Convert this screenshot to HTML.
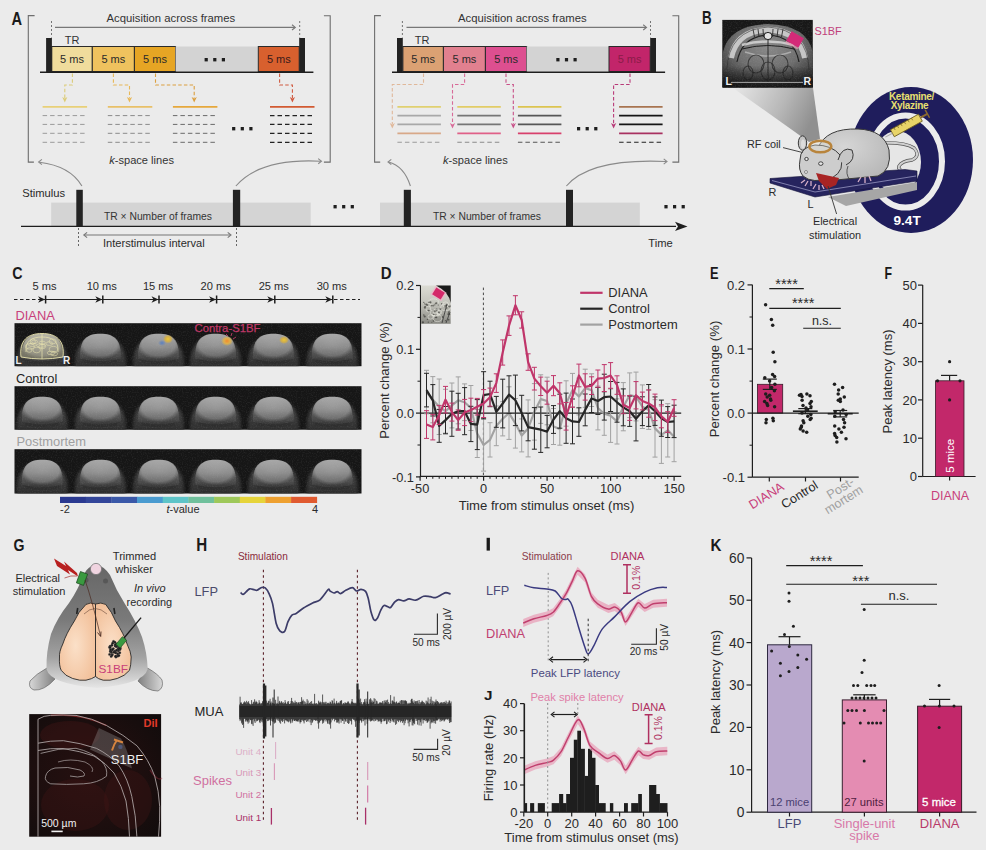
<!DOCTYPE html>
<html><head><meta charset="utf-8"><style>
html,body{margin:0;padding:0;background:#ebebeb;overflow:hidden;}
svg{display:block;}
text{font-family:"Liberation Sans", sans-serif;}
</style></head><body>
<svg width="986" height="850" viewBox="0 0 986 850">
<defs><radialGradient id="mriB" cx="0.5" cy="0.35" r="0.75">
<stop offset="0" stop-color="#8a8a8a"/><stop offset="0.5" stop-color="#6e6e6e"/><stop offset="0.85" stop-color="#3a3a3a"/><stop offset="1" stop-color="#222"/></radialGradient>
<linearGradient id="mriBot" x1="0" y1="0" x2="0" y2="1"><stop offset="0" stop-color="#111" stop-opacity="0"/><stop offset="1" stop-color="#111" stop-opacity="0.85"/></linearGradient>
<linearGradient id="coneB2" x1="0" y1="0" x2="1" y2="0.3"><stop offset="0" stop-color="#e8e8e8"/><stop offset="0.6" stop-color="#b8b8b8"/><stop offset="1" stop-color="#909090"/></linearGradient>
<radialGradient id="mouseB" cx="0.4" cy="0.35" r="0.7"><stop offset="0" stop-color="#d6d6d6"/><stop offset="1" stop-color="#b8b8b8"/></radialGradient>
<filter id="blur15" x="-20%" y="-20%" width="140%" height="140%"><feGaussianBlur stdDeviation="1.6"/></filter>
<filter id="blur05" x="-10%" y="-10%" width="120%" height="120%"><feGaussianBlur stdDeviation="0.6"/></filter>
<filter id="grain" x="0" y="0" width="100%" height="100%"><feTurbulence type="fractalNoise" baseFrequency="0.8" numOctaves="2" seed="3"/><feColorMatrix type="matrix" values="0 0 0 0 0.5  0 0 0 0 0.5  0 0 0 0 0.5  1.2 0 0 0 -0.55"/></filter>
<linearGradient id="blobO" x1="0" y1="0" x2="0" y2="1">
<stop offset="0" stop-color="#4a4a4a"/><stop offset="0.6" stop-color="#3a3a3a"/><stop offset="1" stop-color="#2a2a2a"/></linearGradient>
<linearGradient id="blobG" x1="0" y1="0" x2="0" y2="1">
<stop offset="0" stop-color="#b0b0b0"/><stop offset="0.5" stop-color="#929292"/><stop offset="0.85" stop-color="#707070"/><stop offset="1" stop-color="#555"/></linearGradient>
<radialGradient id="blobEdge" cx="0.5" cy="0.4" r="0.55">
<stop offset="0" stop-color="#000" stop-opacity="0"/><stop offset="0.75" stop-color="#000" stop-opacity="0.05"/><stop offset="1" stop-color="#000" stop-opacity="0.35"/></radialGradient>
<radialGradient id="actY" cx="0.5" cy="0.5" r="0.5"><stop offset="0" stop-color="#f0c830"/><stop offset="0.6" stop-color="#d8b040" stop-opacity="0.8"/><stop offset="1" stop-color="#d8b040" stop-opacity="0"/></radialGradient>
<radialGradient id="actO" cx="0.5" cy="0.5" r="0.5"><stop offset="0" stop-color="#f08a30"/><stop offset="0.5" stop-color="#e8b040" stop-opacity="0.9"/><stop offset="1" stop-color="#e8c040" stop-opacity="0"/></radialGradient>
<radialGradient id="actB" cx="0.5" cy="0.5" r="0.5"><stop offset="0" stop-color="#5a80c0"/><stop offset="1" stop-color="#5a80c0" stop-opacity="0"/></radialGradient>
<clipPath id="strip0"><rect x="14.5" y="323.2" width="347" height="43.0"/></clipPath>
<clipPath id="strip1"><rect x="14.5" y="386.2" width="347" height="43.5"/></clipPath>
<clipPath id="strip2"><rect x="14.5" y="449.2" width="347" height="44.3"/></clipPath>
<radialGradient id="insD" cx="0.35" cy="0.65" r="0.8"><stop offset="0" stop-color="#c8c8b8"/><stop offset="0.6" stop-color="#a8a898"/><stop offset="1" stop-color="#555"/></radialGradient>
<linearGradient id="insD2" x1="0" y1="0" x2="0" y2="1"><stop offset="0" stop-color="#dcdcd4"/><stop offset="0.45" stop-color="#c4c4bc"/><stop offset="1" stop-color="#8a8a84"/></linearGradient>
<linearGradient id="headG" x1="0" y1="0" x2="0" y2="1"><stop offset="0" stop-color="#666"/><stop offset="0.45" stop-color="#7a7a7a"/><stop offset="0.75" stop-color="#a2a2a2"/><stop offset="1" stop-color="#e6e6e6"/></linearGradient>
<linearGradient id="earG" x1="0" y1="0" x2="1" y2="0"><stop offset="0" stop-color="#d8d8d8"/><stop offset="1" stop-color="#808080"/></linearGradient>
<linearGradient id="earG2" x1="0" y1="0" x2="1" y2="0"><stop offset="0" stop-color="#808080"/><stop offset="1" stop-color="#d8d8d8"/></linearGradient>
<radialGradient id="brainG" cx="0.45" cy="0.55" r="0.6"><stop offset="0" stop-color="#fbe0c8"/><stop offset="1" stop-color="#f2c09a"/></radialGradient>
<radialGradient id="diG" cx="0.45" cy="0.5" r="0.7"><stop offset="0" stop-color="#261010"/><stop offset="0.6" stop-color="#1c0e0e"/><stop offset="1" stop-color="#120c0c"/></radialGradient></defs>
<rect width="986" height="850" fill="#ebebeb"/>
<text x="0" y="0" font-size="17.9" fill="#1a1a1a" font-weight="bold" transform="translate(11.5,24.8) scale(0.816,1)">A</text>
<path d="M34.6,15.6 H28.3 V162.1 H33.9" fill="none" stroke="#6e6e6e" stroke-width="1.1" />
<path d="M323.9,15.8 H330.2 V162.1 H323.9" fill="none" stroke="#6e6e6e" stroke-width="1.1" />
<text x="106.5" y="22.3" font-size="11.3" fill="#333" text-anchor="start" font-weight="normal" font-style="normal" >Acquisition across frames</text>
<line x1="55.0" y1="27.4" x2="294.8" y2="27.4" stroke="#777" stroke-width="1.1" />
<path d="M292.0,24.8 L295.3,27.4 L292.0,30.0" fill="none" stroke="#777" stroke-width="1.1" />
<line x1="51.5" y1="21.0" x2="51.5" y2="37.5" stroke="#555" stroke-width="0.8" stroke-dasharray="2,2"/>
<line x1="299.7" y1="21.0" x2="299.7" y2="37.5" stroke="#555" stroke-width="0.8" stroke-dasharray="2,2"/>
<rect x="51.8" y="46.5" width="40.5" height="25.0" fill="#f0dc9c" stroke="#2a2a2a" stroke-width="1"/>
<text x="72.0" y="62.5" font-size="11" fill="#2a2a2a" text-anchor="middle" font-weight="normal" font-style="normal" >5 ms</text>
<rect x="92.3" y="46.5" width="42.1" height="25.0" fill="#efc25e" stroke="#2a2a2a" stroke-width="1"/>
<text x="113.3" y="62.5" font-size="11" fill="#2a2a2a" text-anchor="middle" font-weight="normal" font-style="normal" >5 ms</text>
<rect x="134.4" y="46.5" width="41.2" height="25.0" fill="#e6a524" stroke="#2a2a2a" stroke-width="1"/>
<text x="155.0" y="62.5" font-size="11" fill="#2a2a2a" text-anchor="middle" font-weight="normal" font-style="normal" >5 ms</text>
<rect x="175.6" y="46.5" width="82.7" height="25.0" fill="#d3d3d3" />
<rect x="204.6" y="58.0" width="3.2" height="3.4" fill="#1e1e1e" />
<rect x="213.2" y="58.0" width="3.2" height="3.4" fill="#1e1e1e" />
<rect x="221.8" y="58.0" width="3.2" height="3.4" fill="#1e1e1e" />
<rect x="258.3" y="46.5" width="40.9" height="25.0" fill="#d8602e" stroke="#2a2a2a" stroke-width="1"/>
<text x="278.8" y="62.5" font-size="11" fill="#3a1a1a" text-anchor="middle" font-weight="normal" font-style="normal" >5 ms</text>
<rect x="46.1" y="38.0" width="5.8" height="34.0" fill="#222" />
<rect x="299.2" y="38.0" width="5.8" height="34.0" fill="#222" />
<line x1="40.0" y1="72.2" x2="313.4" y2="72.2" stroke="#1e1e1e" stroke-width="1.4" />
<text x="64.8" y="43.6" font-size="11" fill="#333" text-anchor="start" font-weight="normal" font-style="normal" >TR</text>
<line x1="42.6" y1="106.8" x2="87.1" y2="106.8" stroke="#e8d078" stroke-width="1.8" />
<line x1="42.6" y1="115.6" x2="87.1" y2="115.6" stroke="#9a9a9a" stroke-width="1.0" stroke-dasharray="4.5,3"/>
<line x1="42.6" y1="124.4" x2="87.1" y2="124.4" stroke="#9a9a9a" stroke-width="1.0" stroke-dasharray="4.5,3"/>
<line x1="42.6" y1="133.3" x2="87.1" y2="133.3" stroke="#9a9a9a" stroke-width="1.0" stroke-dasharray="4.5,3"/>
<line x1="42.6" y1="142.3" x2="87.1" y2="142.3" stroke="#9a9a9a" stroke-width="1.0" stroke-dasharray="4.5,3"/>
<line x1="107.8" y1="106.8" x2="152.3" y2="106.8" stroke="#e8c068" stroke-width="1.8" />
<line x1="107.8" y1="115.6" x2="152.3" y2="115.6" stroke="#8a8a8a" stroke-width="1.0" stroke-dasharray="4.5,3"/>
<line x1="107.8" y1="124.4" x2="152.3" y2="124.4" stroke="#8a8a8a" stroke-width="1.0" stroke-dasharray="4.5,3"/>
<line x1="107.8" y1="133.3" x2="152.3" y2="133.3" stroke="#8a8a8a" stroke-width="1.0" stroke-dasharray="4.5,3"/>
<line x1="107.8" y1="142.3" x2="152.3" y2="142.3" stroke="#8a8a8a" stroke-width="1.0" stroke-dasharray="4.5,3"/>
<line x1="172.9" y1="106.8" x2="217.4" y2="106.8" stroke="#e6a83c" stroke-width="1.8" />
<line x1="172.9" y1="115.6" x2="217.4" y2="115.6" stroke="#6a6a6a" stroke-width="1.0" stroke-dasharray="4.5,3"/>
<line x1="172.9" y1="124.4" x2="217.4" y2="124.4" stroke="#6a6a6a" stroke-width="1.0" stroke-dasharray="4.5,3"/>
<line x1="172.9" y1="133.3" x2="217.4" y2="133.3" stroke="#6a6a6a" stroke-width="1.0" stroke-dasharray="4.5,3"/>
<line x1="172.9" y1="142.3" x2="217.4" y2="142.3" stroke="#6a6a6a" stroke-width="1.0" stroke-dasharray="4.5,3"/>
<line x1="270.0" y1="106.8" x2="314.5" y2="106.8" stroke="#d25a32" stroke-width="1.8" />
<line x1="270.0" y1="115.6" x2="314.5" y2="115.6" stroke="#222" stroke-width="1.3" stroke-dasharray="4.5,3"/>
<line x1="270.0" y1="124.4" x2="314.5" y2="124.4" stroke="#222" stroke-width="1.3" stroke-dasharray="4.5,3"/>
<line x1="270.0" y1="133.3" x2="314.5" y2="133.3" stroke="#222" stroke-width="1.3" stroke-dasharray="4.5,3"/>
<line x1="270.0" y1="142.3" x2="314.5" y2="142.3" stroke="#222" stroke-width="1.3" stroke-dasharray="4.5,3"/>
<rect x="232.1" y="127.0" width="3.2" height="3.4" fill="#1e1e1e" />
<rect x="240.7" y="127.0" width="3.2" height="3.4" fill="#1e1e1e" />
<rect x="249.3" y="127.0" width="3.2" height="3.4" fill="#1e1e1e" />
<path d="M72.4,73.5 V85 H64.8 V98" fill="none" stroke="#dccc78" stroke-width="1.1" stroke-dasharray="3.5,2.2"/>
<path d="M62.2,97 L64.8,102.5 L67.4,97 L64.8,98.5 Z" fill="#dccc78" stroke="none" stroke-width="1" />
<path d="M113.4,73.5 V85 H129.5 V98" fill="none" stroke="#e8b858" stroke-width="1.1" stroke-dasharray="3.5,2.2"/>
<path d="M126.9,97 L129.5,102.5 L132.1,97 L129.5,98.5 Z" fill="#e8b858" stroke="none" stroke-width="1" />
<path d="M155.5,73.5 V85 H194.2 V98" fill="none" stroke="#dca040" stroke-width="1.1" stroke-dasharray="3.5,2.2"/>
<path d="M191.6,97 L194.2,102.5 L196.8,97 L194.2,98.5 Z" fill="#dca040" stroke="none" stroke-width="1" />
<path d="M279.6,73.5 V85 H292.4 V98" fill="none" stroke="#d05a40" stroke-width="1.1" stroke-dasharray="3.5,2.2"/>
<path d="M289.8,97 L292.4,102.5 L295.0,97 L292.4,98.5 Z" fill="#d05a40" stroke="none" stroke-width="1" />
<text x="109.2" y="164.0" font-size="11.1" fill="#333" text-anchor="start" font-weight="normal" font-style="normal" ><tspan font-style="italic">k</tspan>-space lines</text>
<path d="M380.9,15.6 H374.6 V162.1 H380.2" fill="none" stroke="#6e6e6e" stroke-width="1.1" />
<path d="M672.4,15.8 H678.7 V162.1 H672.4" fill="none" stroke="#6e6e6e" stroke-width="1.1" />
<text x="458.0" y="22.3" font-size="11.3" fill="#333" text-anchor="start" font-weight="normal" font-style="normal" >Acquisition across frames</text>
<line x1="406.5" y1="27.4" x2="646.0" y2="27.4" stroke="#777" stroke-width="1.1" />
<path d="M643.2,24.8 L646.5,27.4 L643.2,30.0" fill="none" stroke="#777" stroke-width="1.1" />
<line x1="402.4" y1="21.0" x2="402.4" y2="37.5" stroke="#555" stroke-width="0.8" stroke-dasharray="2,2"/>
<line x1="650.5" y1="21.0" x2="650.5" y2="37.5" stroke="#555" stroke-width="0.8" stroke-dasharray="2,2"/>
<rect x="402.9" y="46.5" width="40.5" height="25.0" fill="#dba173" stroke="#2a2a2a" stroke-width="1"/>
<text x="423.1" y="62.5" font-size="11" fill="#2a2a2a" text-anchor="middle" font-weight="normal" font-style="normal" >5 ms</text>
<rect x="443.4" y="46.5" width="42.0" height="25.0" fill="#e1808f" stroke="#2a2a2a" stroke-width="1"/>
<text x="464.4" y="62.5" font-size="11" fill="#2a2a2a" text-anchor="middle" font-weight="normal" font-style="normal" >5 ms</text>
<rect x="485.4" y="46.5" width="41.3" height="25.0" fill="#dd4f90" stroke="#2a2a2a" stroke-width="1"/>
<text x="506.1" y="62.5" font-size="11" fill="#2a2a2a" text-anchor="middle" font-weight="normal" font-style="normal" >5 ms</text>
<rect x="526.7" y="46.5" width="82.3" height="25.0" fill="#d3d3d3" />
<rect x="556.3" y="58.0" width="3.2" height="3.4" fill="#1e1e1e" />
<rect x="564.9" y="58.0" width="3.2" height="3.4" fill="#1e1e1e" />
<rect x="573.5" y="58.0" width="3.2" height="3.4" fill="#1e1e1e" />
<rect x="609.0" y="46.5" width="41.2" height="25.0" fill="#c2256a" stroke="#2a2a2a" stroke-width="1"/>
<text x="629.6" y="62.5" font-size="11" fill="#8a1c48" text-anchor="middle" font-weight="normal" font-style="normal" >5 ms</text>
<rect x="397.0" y="38.0" width="5.8" height="34.0" fill="#222" />
<rect x="650.2" y="38.0" width="5.8" height="34.0" fill="#222" />
<line x1="392.0" y1="72.2" x2="665.1" y2="72.2" stroke="#1e1e1e" stroke-width="1.4" />
<text x="414.8" y="43.6" font-size="11" fill="#333" text-anchor="start" font-weight="normal" font-style="normal" >TR</text>
<line x1="397.4" y1="106.8" x2="440.9" y2="106.8" stroke="#e0d070" stroke-width="1.8" />
<line x1="397.4" y1="115.6" x2="440.9" y2="115.6" stroke="#a8a8a8" stroke-width="1.8" />
<line x1="397.4" y1="124.4" x2="440.9" y2="124.4" stroke="#a8a8a8" stroke-width="1.8" />
<line x1="397.4" y1="133.3" x2="440.9" y2="133.3" stroke="#d8a888" stroke-width="1.8" />
<line x1="397.4" y1="142.3" x2="440.9" y2="142.3" stroke="#9a9a9a" stroke-width="1.1" stroke-dasharray="4.5,3"/>
<line x1="457.3" y1="106.8" x2="500.8" y2="106.8" stroke="#e2cc66" stroke-width="1.8" />
<line x1="457.3" y1="115.6" x2="500.8" y2="115.6" stroke="#767676" stroke-width="1.8" />
<line x1="457.3" y1="124.4" x2="500.8" y2="124.4" stroke="#767676" stroke-width="1.8" />
<line x1="457.3" y1="133.3" x2="500.8" y2="133.3" stroke="#e06088" stroke-width="1.8" />
<line x1="457.3" y1="142.3" x2="500.8" y2="142.3" stroke="#8a8a8a" stroke-width="1.1" stroke-dasharray="4.5,3"/>
<line x1="517.9" y1="106.8" x2="561.4" y2="106.8" stroke="#dcc450" stroke-width="1.8" />
<line x1="517.9" y1="115.6" x2="561.4" y2="115.6" stroke="#565656" stroke-width="1.8" />
<line x1="517.9" y1="124.4" x2="561.4" y2="124.4" stroke="#565656" stroke-width="1.8" />
<line x1="517.9" y1="133.3" x2="561.4" y2="133.3" stroke="#d8406c" stroke-width="1.8" />
<line x1="517.9" y1="142.3" x2="561.4" y2="142.3" stroke="#555" stroke-width="1.1" stroke-dasharray="4.5,3"/>
<line x1="619.1" y1="106.8" x2="662.6" y2="106.8" stroke="#a87450" stroke-width="1.8" />
<line x1="619.1" y1="115.6" x2="662.6" y2="115.6" stroke="#151515" stroke-width="1.8" />
<line x1="619.1" y1="124.4" x2="662.6" y2="124.4" stroke="#151515" stroke-width="1.8" />
<line x1="619.1" y1="133.3" x2="662.6" y2="133.3" stroke="#a83060" stroke-width="1.8" />
<line x1="619.1" y1="142.3" x2="662.6" y2="142.3" stroke="#222" stroke-width="1.1" stroke-dasharray="4.5,3"/>
<rect x="577.0" y="127.0" width="3.2" height="3.4" fill="#1e1e1e" />
<rect x="585.6" y="127.0" width="3.2" height="3.4" fill="#1e1e1e" />
<rect x="594.2" y="127.0" width="3.2" height="3.4" fill="#1e1e1e" />
<path d="M423.5,73.5 V84.5 H392.3 V124" fill="none" stroke="#e0b89a" stroke-width="1.1" stroke-dasharray="3.5,2.2"/>
<path d="M389.7,123 L392.3,128.6 L394.9,123 L392.3,124.5 Z" fill="#e0b89a" stroke="none" stroke-width="1" />
<path d="M464.6,73.5 V84.5 H452.5 V124" fill="none" stroke="#d86a98" stroke-width="1.1" stroke-dasharray="3.5,2.2"/>
<path d="M449.9,123 L452.5,128.6 L455.1,123 L452.5,124.5 Z" fill="#d86a98" stroke="none" stroke-width="1" />
<path d="M506.0,73.5 V84.5 H513.3 V124" fill="none" stroke="#c85088" stroke-width="1.1" stroke-dasharray="3.5,2.2"/>
<path d="M510.7,123 L513.3,128.6 L515.9,123 L513.3,124.5 Z" fill="#c85088" stroke="none" stroke-width="1" />
<path d="M630.0,73.5 V84.5 H613.6 V124" fill="none" stroke="#b83a78" stroke-width="1.1" stroke-dasharray="3.5,2.2"/>
<path d="M611.0,123 L613.6,128.6 L616.2,123 L613.6,124.5 Z" fill="#b83a78" stroke="none" stroke-width="1" />
<text x="443.0" y="164.0" font-size="11.1" fill="#333" text-anchor="start" font-weight="normal" font-style="normal" ><tspan font-style="italic">k</tspan>-space lines</text>
<rect x="51.2" y="202.6" width="259.5" height="23.7" fill="#d4d4d4" />
<rect x="380.0" y="202.6" width="259.8" height="23.7" fill="#d4d4d4" />
<text x="104.0" y="219.5" font-size="10.3" fill="#333" text-anchor="start" font-weight="normal" font-style="normal" >TR × Number of frames</text>
<text x="433.0" y="219.5" font-size="10.3" fill="#333" text-anchor="start" font-weight="normal" font-style="normal" >TR × Number of frames</text>
<rect x="76.3" y="189.8" width="6.5" height="36.5" fill="#232323" />
<rect x="232.9" y="189.8" width="7.3" height="36.5" fill="#232323" />
<rect x="403.8" y="189.8" width="7.1" height="36.5" fill="#232323" />
<rect x="566.0" y="189.8" width="7.0" height="36.5" fill="#232323" />
<line x1="21.0" y1="226.4" x2="676.0" y2="226.4" stroke="#1e1e1e" stroke-width="1.4" />
<path d="M675,221.8 L687.5,226.4 L675,231 L678,226.4 Z" fill="#1e1e1e" stroke="none" stroke-width="1" />
<rect x="333.5" y="205.0" width="3.2" height="3.4" fill="#1e1e1e" />
<rect x="342.1" y="205.0" width="3.2" height="3.4" fill="#1e1e1e" />
<rect x="350.7" y="205.0" width="3.2" height="3.4" fill="#1e1e1e" />
<rect x="664.4" y="205.0" width="3.2" height="3.4" fill="#1e1e1e" />
<rect x="673.0" y="205.0" width="3.2" height="3.4" fill="#1e1e1e" />
<rect x="681.6" y="205.0" width="3.2" height="3.4" fill="#1e1e1e" />
<text x="22.2" y="197.0" font-size="11.2" fill="#2a2a2a" text-anchor="start" font-weight="normal" font-style="normal" >Stimulus</text>
<text x="648.3" y="246.7" font-size="11.2" fill="#2a2a2a" text-anchor="start" font-weight="normal" font-style="normal" >Time</text>
<line x1="78.5" y1="228.0" x2="78.5" y2="246.0" stroke="#444" stroke-width="0.8" stroke-dasharray="2,2"/>
<line x1="236.5" y1="228.0" x2="236.5" y2="246.0" stroke="#444" stroke-width="0.8" stroke-dasharray="2,2"/>
<line x1="85.0" y1="235.0" x2="230.0" y2="235.0" stroke="#777" stroke-width="1.1" />
<path d="M87.1,232.4 L83.8,235.0 L87.1,237.6" fill="none" stroke="#777" stroke-width="1.1" />
<path d="M227.7,232.4 L231.0,235.0 L227.7,237.6" fill="none" stroke="#777" stroke-width="1.1" />
<text x="103.0" y="246.7" font-size="11.1" fill="#2a2a2a" text-anchor="start" font-weight="normal" font-style="normal" >Interstimulus interval</text>
<path d="M81.9,186 Q70,166 39.5,162.3" fill="none" stroke="#8a8a8a" stroke-width="1.1" />
<path d="M41.9,159.4 L38.6,162.0 L41.9,164.6" fill="none" stroke="#8a8a8a" stroke-width="1.1" />
<path d="M235.9,186 Q260,158 320.9,161.2" fill="none" stroke="#8a8a8a" stroke-width="1.1" />
<path d="M318.2,158.6 L321.5,161.2 L318.2,163.8" fill="none" stroke="#8a8a8a" stroke-width="1.1" />
<path d="M410.4,186 Q404,166 388.5,162" fill="none" stroke="#8a8a8a" stroke-width="1.1" />
<path d="M391.3,159.4 L388.0,162.0 L391.3,164.6" fill="none" stroke="#8a8a8a" stroke-width="1.1" />
<path d="M566.4,186 Q590,158 666.5,161.5" fill="none" stroke="#8a8a8a" stroke-width="1.1" />
<path d="M663.7,158.9 L667.0,161.5 L663.7,164.1" fill="none" stroke="#8a8a8a" stroke-width="1.1" />
<text x="0" y="0" font-size="18.6" fill="#1a1a1a" font-weight="bold" transform="translate(702.0,23.8) scale(0.718,1)">B</text>
<path d="M733,88 L813,88 L820,139 L809,142 Z" fill="url(#coneB2)" stroke="none" stroke-width="1" />
<rect x="722.3" y="19.9" width="90.5" height="67.6" fill="#181818" />
<path d="M723,87.5 L723,52 Q729,25 768,24 Q807,25 812.8,52 L812.8,87.5 Z" fill="url(#mriB)" stroke="none" stroke-width="1" />
<path d="M731,58 Q736,31 768,29.5 Q800,31 805,58" fill="none" stroke="#d0d0d0" stroke-width="6" opacity="0.9"/>
<path d="M737,62 Q742,36 768,35 Q794,36 799,62" fill="none" stroke="#1e1e1e" stroke-width="1.2" />
<path d="M727,70 Q728,30 768,27 Q808,30 809,70" fill="none" stroke="#2a2a2a" stroke-width="0.8" opacity="0.7"/>
<line x1="753.0" y1="29.0" x2="754.5" y2="37.0" stroke="#2a2a2a" stroke-width="0.9" />
<line x1="758.0" y1="29.0" x2="759.0" y2="37.0" stroke="#2a2a2a" stroke-width="0.9" />
<line x1="763.0" y1="29.0" x2="763.5" y2="37.0" stroke="#2a2a2a" stroke-width="0.9" />
<line x1="773.0" y1="29.0" x2="772.5" y2="37.0" stroke="#2a2a2a" stroke-width="0.9" />
<line x1="778.0" y1="29.0" x2="777.0" y2="37.0" stroke="#2a2a2a" stroke-width="0.9" />
<line x1="783.0" y1="29.0" x2="781.5" y2="37.0" stroke="#2a2a2a" stroke-width="0.9" />
<ellipse cx="768" cy="36" rx="4" ry="3.6" fill="#e4e4e4" stroke="#222" stroke-width="1"/>
<path d="M742,45 Q768,38 794,45" fill="none" stroke="#dcdcdc" stroke-width="2.5" opacity="0.8"/>
<path d="M742,49 Q768,42 794,49" fill="none" stroke="#1e1e1e" stroke-width="1" />
<path d="M745,52 Q768,60 791,52" fill="none" stroke="#c0c0c0" stroke-width="1.5" opacity="0.7"/>
<ellipse cx="756" cy="64" rx="8" ry="9" fill="none" stroke="#2a2a2a" stroke-width="1.1" opacity="0.8"/>
<ellipse cx="780" cy="64" rx="8" ry="9" fill="none" stroke="#2a2a2a" stroke-width="1.1" opacity="0.8"/>
<ellipse cx="768" cy="71" rx="7" ry="9" fill="none" stroke="#2a2a2a" stroke-width="1.1" opacity="0.8"/>
<ellipse cx="748" cy="73" rx="5" ry="7" fill="none" stroke="#2a2a2a" stroke-width="1.1" opacity="0.8"/>
<ellipse cx="788" cy="73" rx="5" ry="7" fill="none" stroke="#2a2a2a" stroke-width="1.1" opacity="0.8"/>
<line x1="768.0" y1="40.0" x2="768.0" y2="85.0" stroke="#2a2a2a" stroke-width="1" />
<rect x="722.3" y="66.0" width="90.5" height="21.5" fill="url(#mriBot)" />
<rect x="722.3" y="19.9" width="90.5" height="67.6" fill="#000" filter="url(#grain)" opacity="0.25"/>
<g transform="translate(795,39.5) rotate(30)"><rect x="-7" y="-5.5" width="14" height="11" fill="#d42a78"/><rect x="-7" y="5.5" width="14" height="2" fill="#e8a0b8" opacity="0.7"/></g>
<line x1="731.0" y1="82.4" x2="803.0" y2="82.4" stroke="#c8c8c8" stroke-width="0.8" />
<text x="725.5" y="84.5" font-size="10.5" fill="#f0f0f0" text-anchor="start" font-weight="bold" font-style="normal" >L</text>
<text x="803.5" y="84.5" font-size="10.5" fill="#f0f0f0" text-anchor="start" font-weight="bold" font-style="normal" >R</text>
<text x="814.5" y="35.3" font-size="10.9" fill="#c0407a" text-anchor="start" font-weight="normal" font-style="normal" >S1BF</text>
<ellipse cx="911" cy="160" rx="62" ry="73" fill="#1f1d5c"/>
<ellipse cx="905.5" cy="161.5" rx="36.5" ry="46" fill="none" stroke="#ececec" stroke-width="6"/>
<ellipse cx="897" cy="162" rx="24" ry="31" fill="#e6e6e6"/>
<text x="893.5" y="225.4" font-size="13.6" fill="#ffffff" text-anchor="start" font-weight="bold" font-style="normal" >9.4T</text>
<text x="911.5" y="99.5" font-size="10" fill="#e8e070" text-anchor="middle" font-weight="bold" font-style="normal" letter-spacing="-0.3">Ketamine/</text>
<text x="909.5" y="108.5" font-size="10" fill="#e8e070" text-anchor="middle" font-weight="bold" font-style="normal" letter-spacing="-0.3">Xylazine</text>
<g transform="translate(909,124) rotate(-29)"><rect x="-19" y="-4" width="32" height="8" fill="#e8d468" stroke="#6a5a20" stroke-width="0.8"/><path d="M-15,-4 v2.5 M-11,-4 v2.5 M-7,-4 v2.5 M-3,-4 v2.5 M1,-4 v2.5 M5,-4 v2.5" stroke="#6a5a20" stroke-width="0.6"/><line x1="13" y1="0" x2="21" y2="0" stroke="#8a6a30" stroke-width="2"/><line x1="21" y1="-4.5" x2="21" y2="4.5" stroke="#8a6a30" stroke-width="1.5"/><line x1="-19" y1="0" x2="-27" y2="0" stroke="#aaa" stroke-width="1"/></g>
<path d="M880,143 Q905,142 914,148 Q921,156 912,160 Q902,161 899,166 Q898,169 901,170" fill="none" stroke="#555" stroke-width="3.4" />
<path d="M880,143 Q905,142 914,148 Q921,156 912,160 Q902,161 899,166 Q898,169 901,170" fill="none" stroke="#d0d0d0" stroke-width="2" />
<path d="M828,197 L917,182 L917,190 L846,206 Z" fill="#a6a6a6" stroke="none" stroke-width="1" />
<path d="M770,178.5 L905,169.5 L917,171 L917,181 L815,197 L770,183 Z" fill="#26245e" stroke="#15143a" stroke-width="0.6" />
<path d="M772,180.5 L815,192 L916,176" fill="none" stroke="#a8a8d0" stroke-width="0.7" />
<path d="M818,148 Q826,128 858,129 Q884,130 889,150 Q892,170 878,176 L836,180 Q818,178 814,165 Z" fill="url(#mouseB)" stroke="#3a3a3a" stroke-width="1" />
<path d="M800,160 Q800,147 815,145 Q832,145 840,155 Q846,170 832,178 Q812,184 803,176 Q798,170 800,160 Z" fill="#cdcdcd" stroke="#3a3a3a" stroke-width="1" />
<ellipse cx="802.5" cy="143" rx="4.2" ry="7.2" fill="#c4c4c4" stroke="#3a3a3a" stroke-width="1"/>
<ellipse cx="803" cy="144" rx="2" ry="4.5" fill="#dcdcdc"/>
<path d="M838,160 Q842,146 852,150 Q856,160 846,165" fill="#c6c6c6" stroke="#3a3a3a" stroke-width="1" />
<ellipse cx="806.5" cy="159" rx="1.8" ry="1.6" fill="#e8e8e8" stroke="#333" stroke-width="0.9"/>
<ellipse cx="820.8" cy="163.6" rx="2.2" ry="1.8" fill="#e8e8e8" stroke="#333" stroke-width="0.9"/>
<circle cx="806" cy="172" r="1.5" fill="#e8e8e8" stroke="#555" stroke-width="0.6"/>
<path d="M805,180 l-4,3 M808,181 l-3,5 M811,181 l0,5 M816,184 l-3,5 M819,185 l0,5 M822,185 l2,4" fill="none" stroke="#d8b0c8" stroke-width="1.3" />
<path d="M861,177 l-3,5 M865,177 l0,6 M869,176 l2,5" fill="none" stroke="#d8b0c8" stroke-width="1.3" />
<path d="M848,166 Q845,174 850,180" fill="none" stroke="#3a3a3a" stroke-width="0.8" />
<ellipse cx="820.3" cy="146.5" rx="11" ry="5.8" fill="#e8e4d8" fill-opacity="0.35" stroke="#b8843c" stroke-width="2.4"/>
<path d="M816,173 L839,178 L836,185 L827,189 L819,181 Z" fill="#a82424" stroke="none" stroke-width="1" />
<line x1="828.0" y1="186.0" x2="836.6" y2="214.0" stroke="#333" stroke-width="0.9" />
<line x1="783.0" y1="147.6" x2="802.5" y2="152.5" stroke="#333" stroke-width="0.9" />
<text x="746.9" y="148.0" font-size="10.9" fill="#2a2a2a" text-anchor="start" font-weight="normal" font-style="normal" >RF coil</text>
<text x="768.4" y="195.5" font-size="10.9" fill="#2a2a2a" text-anchor="start" font-weight="normal" font-style="normal" >R</text>
<text x="807.4" y="207.7" font-size="10.9" fill="#2a2a2a" text-anchor="start" font-weight="normal" font-style="normal" >L</text>
<text x="835.0" y="225.4" font-size="10.9" fill="#2a2a2a" text-anchor="middle" font-weight="normal" font-style="normal" >Electrical</text>
<text x="835.0" y="238.9" font-size="10.9" fill="#2a2a2a" text-anchor="middle" font-weight="normal" font-style="normal" >stimulation</text>
<text x="0" y="0" font-size="17.0" fill="#1a1a1a" font-weight="bold" transform="translate(12.2,279.4) scale(0.840,1)">C</text>
<text x="44.6" y="289.7" font-size="11.1" fill="#2a2a2a" text-anchor="middle" font-weight="normal" font-style="normal" >5 ms</text>
<line x1="45.6" y1="295.5" x2="45.6" y2="303.5" stroke="#1e1e1e" stroke-width="1.5" />
<path d="M38.1,296.3 L45.1,299.5 L38.1,302.7 L40.1,299.5 Z" fill="#1e1e1e" stroke="none" stroke-width="1" />
<text x="101.8" y="289.7" font-size="11.1" fill="#2a2a2a" text-anchor="middle" font-weight="normal" font-style="normal" >10 ms</text>
<line x1="102.8" y1="295.5" x2="102.8" y2="303.5" stroke="#1e1e1e" stroke-width="1.5" />
<path d="M95.3,296.3 L102.3,299.5 L95.3,302.7 L97.3,299.5 Z" fill="#1e1e1e" stroke="none" stroke-width="1" />
<text x="158.0" y="289.7" font-size="11.1" fill="#2a2a2a" text-anchor="middle" font-weight="normal" font-style="normal" >15 ms</text>
<line x1="159.0" y1="295.5" x2="159.0" y2="303.5" stroke="#1e1e1e" stroke-width="1.5" />
<path d="M151.5,296.3 L158.5,299.5 L151.5,302.7 L153.5,299.5 Z" fill="#1e1e1e" stroke="none" stroke-width="1" />
<text x="215.6" y="289.7" font-size="11.1" fill="#2a2a2a" text-anchor="middle" font-weight="normal" font-style="normal" >20 ms</text>
<line x1="216.6" y1="295.5" x2="216.6" y2="303.5" stroke="#1e1e1e" stroke-width="1.5" />
<path d="M209.1,296.3 L216.1,299.5 L209.1,302.7 L211.1,299.5 Z" fill="#1e1e1e" stroke="none" stroke-width="1" />
<text x="273.8" y="289.7" font-size="11.1" fill="#2a2a2a" text-anchor="middle" font-weight="normal" font-style="normal" >25 ms</text>
<line x1="274.8" y1="295.5" x2="274.8" y2="303.5" stroke="#1e1e1e" stroke-width="1.5" />
<path d="M267.3,296.3 L274.3,299.5 L267.3,302.7 L269.3,299.5 Z" fill="#1e1e1e" stroke="none" stroke-width="1" />
<text x="331.8" y="289.7" font-size="11.1" fill="#2a2a2a" text-anchor="middle" font-weight="normal" font-style="normal" >30 ms</text>
<line x1="332.8" y1="295.5" x2="332.8" y2="303.5" stroke="#1e1e1e" stroke-width="1.5" />
<path d="M325.3,296.3 L332.3,299.5 L325.3,302.7 L327.3,299.5 Z" fill="#1e1e1e" stroke="none" stroke-width="1" />
<line x1="14.0" y1="299.5" x2="38.0" y2="299.5" stroke="#1e1e1e" stroke-width="1.1" stroke-dasharray="3.5,2.5"/>
<line x1="38.0" y1="299.5" x2="332.8" y2="299.5" stroke="#1e1e1e" stroke-width="1.1" />
<line x1="334.0" y1="299.5" x2="360.0" y2="299.5" stroke="#1e1e1e" stroke-width="1.1" stroke-dasharray="3.5,2.5"/>
<text x="15.4" y="319.7" font-size="12.9" fill="#c8407a" text-anchor="start" font-weight="normal" font-style="normal" >DIANA</text>
<text x="16.0" y="383.1" font-size="12.8" fill="#1e1e1e" text-anchor="start" font-weight="normal" font-style="normal" >Control</text>
<text x="16.5" y="445.7" font-size="12.9" fill="#a0a0a0" text-anchor="start" font-weight="normal" font-style="normal" >Postmortem</text>
<rect x="14.5" y="323.2" width="347.0" height="43.0" fill="#161616" />
<g clip-path="url(#strip0)">
<path d="M16.7,369.7 C15.7,346.7 24.2,336.7 42.2,335.7 C60.2,336.7 68.7,346.7 67.7,369.7 Z" fill="url(#blobO)" stroke="none" stroke-width="1" filter="url(#blur15)"/>
<path d="M22.2,358.7 C20.7,338.7 29.2,333.7 42.2,333.7 C55.2,333.7 63.7,338.7 62.2,358.7 Q42.2,362.7 22.2,358.7 Z" fill="url(#blobG)" stroke="none" stroke-width="1" filter="url(#blur05)"/>
<path d="M22.2,358.7 C20.7,338.7 29.2,333.7 42.2,333.7 C55.2,333.7 63.7,338.7 62.2,358.7 Q42.2,362.7 22.2,358.7 Z" fill="url(#blobEdge)" stroke="none" stroke-width="1" />
<path d="M25.2,360.7 Q42.2,364.7 59.2,360.7" stroke="#2a2a2a" stroke-width="2.5" fill="none" opacity="0.5"/>
<path d="M74.9,369.7 C73.9,346.7 82.4,336.7 100.4,335.7 C118.4,336.7 126.9,346.7 125.9,369.7 Z" fill="url(#blobO)" stroke="none" stroke-width="1" filter="url(#blur15)"/>
<path d="M80.4,358.7 C78.9,338.7 87.4,333.7 100.4,333.7 C113.4,333.7 121.9,338.7 120.4,358.7 Q100.4,362.7 80.4,358.7 Z" fill="url(#blobG)" stroke="none" stroke-width="1" filter="url(#blur05)"/>
<path d="M80.4,358.7 C78.9,338.7 87.4,333.7 100.4,333.7 C113.4,333.7 121.9,338.7 120.4,358.7 Q100.4,362.7 80.4,358.7 Z" fill="url(#blobEdge)" stroke="none" stroke-width="1" />
<path d="M83.4,360.7 Q100.4,364.7 117.4,360.7" stroke="#2a2a2a" stroke-width="2.5" fill="none" opacity="0.5"/>
<path d="M133.0,369.7 C132.0,346.7 140.5,336.7 158.5,335.7 C176.5,336.7 185.0,346.7 184.0,369.7 Z" fill="url(#blobO)" stroke="none" stroke-width="1" filter="url(#blur15)"/>
<path d="M138.5,358.7 C137.0,338.7 145.5,333.7 158.5,333.7 C171.5,333.7 180.0,338.7 178.5,358.7 Q158.5,362.7 138.5,358.7 Z" fill="url(#blobG)" stroke="none" stroke-width="1" filter="url(#blur05)"/>
<path d="M138.5,358.7 C137.0,338.7 145.5,333.7 158.5,333.7 C171.5,333.7 180.0,338.7 178.5,358.7 Q158.5,362.7 138.5,358.7 Z" fill="url(#blobEdge)" stroke="none" stroke-width="1" />
<path d="M141.5,360.7 Q158.5,364.7 175.5,360.7" stroke="#2a2a2a" stroke-width="2.5" fill="none" opacity="0.5"/>
<path d="M190.1,369.7 C189.1,346.7 197.6,336.7 215.6,335.7 C233.6,336.7 242.1,346.7 241.1,369.7 Z" fill="url(#blobO)" stroke="none" stroke-width="1" filter="url(#blur15)"/>
<path d="M195.6,358.7 C194.1,338.7 202.6,333.7 215.6,333.7 C228.6,333.7 237.1,338.7 235.6,358.7 Q215.6,362.7 195.6,358.7 Z" fill="url(#blobG)" stroke="none" stroke-width="1" filter="url(#blur05)"/>
<path d="M195.6,358.7 C194.1,338.7 202.6,333.7 215.6,333.7 C228.6,333.7 237.1,338.7 235.6,358.7 Q215.6,362.7 195.6,358.7 Z" fill="url(#blobEdge)" stroke="none" stroke-width="1" />
<path d="M198.6,360.7 Q215.6,364.7 232.6,360.7" stroke="#2a2a2a" stroke-width="2.5" fill="none" opacity="0.5"/>
<path d="M247.9,369.7 C246.9,346.7 255.4,336.7 273.4,335.7 C291.4,336.7 299.9,346.7 298.9,369.7 Z" fill="url(#blobO)" stroke="none" stroke-width="1" filter="url(#blur15)"/>
<path d="M253.4,358.7 C251.9,338.7 260.4,333.7 273.4,333.7 C286.4,333.7 294.9,338.7 293.4,358.7 Q273.4,362.7 253.4,358.7 Z" fill="url(#blobG)" stroke="none" stroke-width="1" filter="url(#blur05)"/>
<path d="M253.4,358.7 C251.9,338.7 260.4,333.7 273.4,333.7 C286.4,333.7 294.9,338.7 293.4,358.7 Q273.4,362.7 253.4,358.7 Z" fill="url(#blobEdge)" stroke="none" stroke-width="1" />
<path d="M256.4,360.7 Q273.4,364.7 290.4,360.7" stroke="#2a2a2a" stroke-width="2.5" fill="none" opacity="0.5"/>
<path d="M306.7,369.7 C305.7,346.7 314.2,336.7 332.2,335.7 C350.2,336.7 358.7,346.7 357.7,369.7 Z" fill="url(#blobO)" stroke="none" stroke-width="1" filter="url(#blur15)"/>
<path d="M312.2,358.7 C310.7,338.7 319.2,333.7 332.2,333.7 C345.2,333.7 353.7,338.7 352.2,358.7 Q332.2,362.7 312.2,358.7 Z" fill="url(#blobG)" stroke="none" stroke-width="1" filter="url(#blur05)"/>
<path d="M312.2,358.7 C310.7,338.7 319.2,333.7 332.2,333.7 C345.2,333.7 353.7,338.7 352.2,358.7 Q332.2,362.7 312.2,358.7 Z" fill="url(#blobEdge)" stroke="none" stroke-width="1" />
<path d="M315.2,360.7 Q332.2,364.7 349.2,360.7" stroke="#2a2a2a" stroke-width="2.5" fill="none" opacity="0.5"/>
<rect x="14.5" y="323.2" width="347" height="43.0" filter="url(#grain)" opacity="0.22"/>
</g>
<rect x="14.5" y="386.2" width="347.0" height="43.5" fill="#161616" />
<g clip-path="url(#strip1)">
<path d="M16.7,432.7 C15.7,409.7 24.2,399.7 42.2,398.7 C60.2,399.7 68.7,409.7 67.7,432.7 Z" fill="url(#blobO)" stroke="none" stroke-width="1" filter="url(#blur15)"/>
<path d="M22.2,421.7 C20.7,401.7 29.2,396.7 42.2,396.7 C55.2,396.7 63.7,401.7 62.2,421.7 Q42.2,425.7 22.2,421.7 Z" fill="url(#blobG)" stroke="none" stroke-width="1" filter="url(#blur05)"/>
<path d="M22.2,421.7 C20.7,401.7 29.2,396.7 42.2,396.7 C55.2,396.7 63.7,401.7 62.2,421.7 Q42.2,425.7 22.2,421.7 Z" fill="url(#blobEdge)" stroke="none" stroke-width="1" />
<path d="M25.2,423.7 Q42.2,427.7 59.2,423.7" stroke="#2a2a2a" stroke-width="2.5" fill="none" opacity="0.5"/>
<path d="M74.9,432.7 C73.9,409.7 82.4,399.7 100.4,398.7 C118.4,399.7 126.9,409.7 125.9,432.7 Z" fill="url(#blobO)" stroke="none" stroke-width="1" filter="url(#blur15)"/>
<path d="M80.4,421.7 C78.9,401.7 87.4,396.7 100.4,396.7 C113.4,396.7 121.9,401.7 120.4,421.7 Q100.4,425.7 80.4,421.7 Z" fill="url(#blobG)" stroke="none" stroke-width="1" filter="url(#blur05)"/>
<path d="M80.4,421.7 C78.9,401.7 87.4,396.7 100.4,396.7 C113.4,396.7 121.9,401.7 120.4,421.7 Q100.4,425.7 80.4,421.7 Z" fill="url(#blobEdge)" stroke="none" stroke-width="1" />
<path d="M83.4,423.7 Q100.4,427.7 117.4,423.7" stroke="#2a2a2a" stroke-width="2.5" fill="none" opacity="0.5"/>
<path d="M133.0,432.7 C132.0,409.7 140.5,399.7 158.5,398.7 C176.5,399.7 185.0,409.7 184.0,432.7 Z" fill="url(#blobO)" stroke="none" stroke-width="1" filter="url(#blur15)"/>
<path d="M138.5,421.7 C137.0,401.7 145.5,396.7 158.5,396.7 C171.5,396.7 180.0,401.7 178.5,421.7 Q158.5,425.7 138.5,421.7 Z" fill="url(#blobG)" stroke="none" stroke-width="1" filter="url(#blur05)"/>
<path d="M138.5,421.7 C137.0,401.7 145.5,396.7 158.5,396.7 C171.5,396.7 180.0,401.7 178.5,421.7 Q158.5,425.7 138.5,421.7 Z" fill="url(#blobEdge)" stroke="none" stroke-width="1" />
<path d="M141.5,423.7 Q158.5,427.7 175.5,423.7" stroke="#2a2a2a" stroke-width="2.5" fill="none" opacity="0.5"/>
<path d="M190.1,432.7 C189.1,409.7 197.6,399.7 215.6,398.7 C233.6,399.7 242.1,409.7 241.1,432.7 Z" fill="url(#blobO)" stroke="none" stroke-width="1" filter="url(#blur15)"/>
<path d="M195.6,421.7 C194.1,401.7 202.6,396.7 215.6,396.7 C228.6,396.7 237.1,401.7 235.6,421.7 Q215.6,425.7 195.6,421.7 Z" fill="url(#blobG)" stroke="none" stroke-width="1" filter="url(#blur05)"/>
<path d="M195.6,421.7 C194.1,401.7 202.6,396.7 215.6,396.7 C228.6,396.7 237.1,401.7 235.6,421.7 Q215.6,425.7 195.6,421.7 Z" fill="url(#blobEdge)" stroke="none" stroke-width="1" />
<path d="M198.6,423.7 Q215.6,427.7 232.6,423.7" stroke="#2a2a2a" stroke-width="2.5" fill="none" opacity="0.5"/>
<path d="M247.9,432.7 C246.9,409.7 255.4,399.7 273.4,398.7 C291.4,399.7 299.9,409.7 298.9,432.7 Z" fill="url(#blobO)" stroke="none" stroke-width="1" filter="url(#blur15)"/>
<path d="M253.4,421.7 C251.9,401.7 260.4,396.7 273.4,396.7 C286.4,396.7 294.9,401.7 293.4,421.7 Q273.4,425.7 253.4,421.7 Z" fill="url(#blobG)" stroke="none" stroke-width="1" filter="url(#blur05)"/>
<path d="M253.4,421.7 C251.9,401.7 260.4,396.7 273.4,396.7 C286.4,396.7 294.9,401.7 293.4,421.7 Q273.4,425.7 253.4,421.7 Z" fill="url(#blobEdge)" stroke="none" stroke-width="1" />
<path d="M256.4,423.7 Q273.4,427.7 290.4,423.7" stroke="#2a2a2a" stroke-width="2.5" fill="none" opacity="0.5"/>
<path d="M306.7,432.7 C305.7,409.7 314.2,399.7 332.2,398.7 C350.2,399.7 358.7,409.7 357.7,432.7 Z" fill="url(#blobO)" stroke="none" stroke-width="1" filter="url(#blur15)"/>
<path d="M312.2,421.7 C310.7,401.7 319.2,396.7 332.2,396.7 C345.2,396.7 353.7,401.7 352.2,421.7 Q332.2,425.7 312.2,421.7 Z" fill="url(#blobG)" stroke="none" stroke-width="1" filter="url(#blur05)"/>
<path d="M312.2,421.7 C310.7,401.7 319.2,396.7 332.2,396.7 C345.2,396.7 353.7,401.7 352.2,421.7 Q332.2,425.7 312.2,421.7 Z" fill="url(#blobEdge)" stroke="none" stroke-width="1" />
<path d="M315.2,423.7 Q332.2,427.7 349.2,423.7" stroke="#2a2a2a" stroke-width="2.5" fill="none" opacity="0.5"/>
<rect x="14.5" y="386.2" width="347" height="43.5" filter="url(#grain)" opacity="0.22"/>
</g>
<rect x="14.5" y="449.2" width="347.0" height="44.3" fill="#161616" />
<g clip-path="url(#strip2)">
<path d="M16.7,495.7 C15.7,472.7 24.2,462.7 42.2,461.7 C60.2,462.7 68.7,472.7 67.7,495.7 Z" fill="url(#blobO)" stroke="none" stroke-width="1" filter="url(#blur15)"/>
<path d="M22.2,484.7 C20.7,464.7 29.2,459.7 42.2,459.7 C55.2,459.7 63.7,464.7 62.2,484.7 Q42.2,488.7 22.2,484.7 Z" fill="url(#blobG)" stroke="none" stroke-width="1" filter="url(#blur05)"/>
<path d="M22.2,484.7 C20.7,464.7 29.2,459.7 42.2,459.7 C55.2,459.7 63.7,464.7 62.2,484.7 Q42.2,488.7 22.2,484.7 Z" fill="url(#blobEdge)" stroke="none" stroke-width="1" />
<path d="M25.2,486.7 Q42.2,490.7 59.2,486.7" stroke="#2a2a2a" stroke-width="2.5" fill="none" opacity="0.5"/>
<path d="M74.9,495.7 C73.9,472.7 82.4,462.7 100.4,461.7 C118.4,462.7 126.9,472.7 125.9,495.7 Z" fill="url(#blobO)" stroke="none" stroke-width="1" filter="url(#blur15)"/>
<path d="M80.4,484.7 C78.9,464.7 87.4,459.7 100.4,459.7 C113.4,459.7 121.9,464.7 120.4,484.7 Q100.4,488.7 80.4,484.7 Z" fill="url(#blobG)" stroke="none" stroke-width="1" filter="url(#blur05)"/>
<path d="M80.4,484.7 C78.9,464.7 87.4,459.7 100.4,459.7 C113.4,459.7 121.9,464.7 120.4,484.7 Q100.4,488.7 80.4,484.7 Z" fill="url(#blobEdge)" stroke="none" stroke-width="1" />
<path d="M83.4,486.7 Q100.4,490.7 117.4,486.7" stroke="#2a2a2a" stroke-width="2.5" fill="none" opacity="0.5"/>
<path d="M133.0,495.7 C132.0,472.7 140.5,462.7 158.5,461.7 C176.5,462.7 185.0,472.7 184.0,495.7 Z" fill="url(#blobO)" stroke="none" stroke-width="1" filter="url(#blur15)"/>
<path d="M138.5,484.7 C137.0,464.7 145.5,459.7 158.5,459.7 C171.5,459.7 180.0,464.7 178.5,484.7 Q158.5,488.7 138.5,484.7 Z" fill="url(#blobG)" stroke="none" stroke-width="1" filter="url(#blur05)"/>
<path d="M138.5,484.7 C137.0,464.7 145.5,459.7 158.5,459.7 C171.5,459.7 180.0,464.7 178.5,484.7 Q158.5,488.7 138.5,484.7 Z" fill="url(#blobEdge)" stroke="none" stroke-width="1" />
<path d="M141.5,486.7 Q158.5,490.7 175.5,486.7" stroke="#2a2a2a" stroke-width="2.5" fill="none" opacity="0.5"/>
<path d="M190.1,495.7 C189.1,472.7 197.6,462.7 215.6,461.7 C233.6,462.7 242.1,472.7 241.1,495.7 Z" fill="url(#blobO)" stroke="none" stroke-width="1" filter="url(#blur15)"/>
<path d="M195.6,484.7 C194.1,464.7 202.6,459.7 215.6,459.7 C228.6,459.7 237.1,464.7 235.6,484.7 Q215.6,488.7 195.6,484.7 Z" fill="url(#blobG)" stroke="none" stroke-width="1" filter="url(#blur05)"/>
<path d="M195.6,484.7 C194.1,464.7 202.6,459.7 215.6,459.7 C228.6,459.7 237.1,464.7 235.6,484.7 Q215.6,488.7 195.6,484.7 Z" fill="url(#blobEdge)" stroke="none" stroke-width="1" />
<path d="M198.6,486.7 Q215.6,490.7 232.6,486.7" stroke="#2a2a2a" stroke-width="2.5" fill="none" opacity="0.5"/>
<path d="M247.9,495.7 C246.9,472.7 255.4,462.7 273.4,461.7 C291.4,462.7 299.9,472.7 298.9,495.7 Z" fill="url(#blobO)" stroke="none" stroke-width="1" filter="url(#blur15)"/>
<path d="M253.4,484.7 C251.9,464.7 260.4,459.7 273.4,459.7 C286.4,459.7 294.9,464.7 293.4,484.7 Q273.4,488.7 253.4,484.7 Z" fill="url(#blobG)" stroke="none" stroke-width="1" filter="url(#blur05)"/>
<path d="M253.4,484.7 C251.9,464.7 260.4,459.7 273.4,459.7 C286.4,459.7 294.9,464.7 293.4,484.7 Q273.4,488.7 253.4,484.7 Z" fill="url(#blobEdge)" stroke="none" stroke-width="1" />
<path d="M256.4,486.7 Q273.4,490.7 290.4,486.7" stroke="#2a2a2a" stroke-width="2.5" fill="none" opacity="0.5"/>
<path d="M306.7,495.7 C305.7,472.7 314.2,462.7 332.2,461.7 C350.2,462.7 358.7,472.7 357.7,495.7 Z" fill="url(#blobO)" stroke="none" stroke-width="1" filter="url(#blur15)"/>
<path d="M312.2,484.7 C310.7,464.7 319.2,459.7 332.2,459.7 C345.2,459.7 353.7,464.7 352.2,484.7 Q332.2,488.7 312.2,484.7 Z" fill="url(#blobG)" stroke="none" stroke-width="1" filter="url(#blur05)"/>
<path d="M312.2,484.7 C310.7,464.7 319.2,459.7 332.2,459.7 C345.2,459.7 353.7,464.7 352.2,484.7 Q332.2,488.7 312.2,484.7 Z" fill="url(#blobEdge)" stroke="none" stroke-width="1" />
<path d="M315.2,486.7 Q332.2,490.7 349.2,486.7" stroke="#2a2a2a" stroke-width="2.5" fill="none" opacity="0.5"/>
<rect x="14.5" y="449.2" width="347" height="44.3" filter="url(#grain)" opacity="0.22"/>
</g>
<path d="M21,357 C19,340 28,333.5 42,333.5 C56,333.5 65,340 63,357 Q42,361 21,357 Z" fill="#d8d2a0" stroke="#ece6b0" stroke-width="0.9" fill-opacity="0.3"/>
<path d="M26,352 C25,341 32,337 42,337 C52,337 59,341 58,352" fill="none" stroke="#ece6b0" stroke-width="0.7" />
<line x1="42.0" y1="334.0" x2="42.0" y2="359.0" stroke="#ece6b0" stroke-width="0.7" />
<ellipse cx="34.6" cy="341.7" rx="3.0" ry="1.7" fill="none" stroke="#ece6b0" stroke-width="0.6" opacity="0.85"/>
<ellipse cx="29.9" cy="346.4" rx="4.3" ry="2.7" fill="none" stroke="#ece6b0" stroke-width="0.6" opacity="0.85"/>
<ellipse cx="49.4" cy="343.6" rx="3.3" ry="1.9" fill="none" stroke="#ece6b0" stroke-width="0.6" opacity="0.85"/>
<ellipse cx="32.8" cy="341.7" rx="2.5" ry="2.9" fill="none" stroke="#ece6b0" stroke-width="0.6" opacity="0.85"/>
<ellipse cx="51.2" cy="352.9" rx="4.0" ry="1.8" fill="none" stroke="#ece6b0" stroke-width="0.6" opacity="0.85"/>
<ellipse cx="36.7" cy="350.0" rx="3.8" ry="2.8" fill="none" stroke="#ece6b0" stroke-width="0.6" opacity="0.85"/>
<ellipse cx="52.6" cy="341.4" rx="3.5" ry="2.5" fill="none" stroke="#ece6b0" stroke-width="0.6" opacity="0.85"/>
<ellipse cx="42.2" cy="342.8" rx="3.2" ry="1.6" fill="none" stroke="#ece6b0" stroke-width="0.6" opacity="0.85"/>
<ellipse cx="54.2" cy="353.8" rx="3.4" ry="2.0" fill="none" stroke="#ece6b0" stroke-width="0.6" opacity="0.85"/>
<ellipse cx="53.4" cy="349.2" rx="4.2" ry="2.8" fill="none" stroke="#ece6b0" stroke-width="0.6" opacity="0.85"/>
<ellipse cx="42.2" cy="346.6" rx="3.5" ry="2.1" fill="none" stroke="#ece6b0" stroke-width="0.6" opacity="0.85"/>
<ellipse cx="32.5" cy="344.9" rx="4.0" ry="1.6" fill="none" stroke="#ece6b0" stroke-width="0.6" opacity="0.85"/>
<ellipse cx="29.3" cy="350.0" rx="2.7" ry="2.3" fill="none" stroke="#ece6b0" stroke-width="0.6" opacity="0.85"/>
<ellipse cx="41.2" cy="345.5" rx="4.5" ry="1.8" fill="none" stroke="#ece6b0" stroke-width="0.6" opacity="0.85"/>
<text x="15.5" y="363.5" font-size="10" fill="#f0f0f0" text-anchor="start" font-weight="bold" font-style="normal" >L</text>
<text x="63.0" y="363.5" font-size="10" fill="#f0f0f0" text-anchor="start" font-weight="bold" font-style="normal" >R</text>
<ellipse cx="168" cy="339" rx="5" ry="4.5" fill="url(#actY)"/>
<ellipse cx="162" cy="343" rx="4" ry="3" fill="url(#actB)"/>
<ellipse cx="227" cy="341" rx="6" ry="5" fill="url(#actO)"/>
<ellipse cx="284" cy="340" rx="5" ry="4" fill="url(#actY)"/>
<text x="194.5" y="332.1" font-size="11.3" fill="#c03868" text-anchor="start" font-weight="normal" font-style="normal" stroke="#c03868" stroke-width="0.25">Contra-S1BF</text>
<path d="M226,334 l2,2 M232,333 l-1,3 M236,337 l-3,2" fill="none" stroke="#d04070" stroke-width="0.8" />
<rect x="60.0" y="496.8" width="26.0" height="6.2" fill="#2a3990" />
<rect x="85.7" y="496.8" width="26.0" height="6.2" fill="#33469a" />
<rect x="111.4" y="496.8" width="26.0" height="6.2" fill="#3a58a8" />
<rect x="137.0" y="496.8" width="26.0" height="6.2" fill="#4a9bd0" />
<rect x="162.7" y="496.8" width="26.0" height="6.2" fill="#5ec4c8" />
<rect x="188.4" y="496.8" width="26.0" height="6.2" fill="#70c09c" />
<rect x="214.1" y="496.8" width="26.0" height="6.2" fill="#9ec85a" />
<rect x="239.8" y="496.8" width="26.0" height="6.2" fill="#e6d43a" />
<rect x="265.4" y="496.8" width="26.0" height="6.2" fill="#eea030" />
<rect x="291.1" y="496.8" width="26.0" height="6.2" fill="#e05a30" />
<text x="60.0" y="513.2" font-size="11" fill="#2a2a2a" text-anchor="start" font-weight="normal" font-style="normal" >-2</text>
<text x="312.0" y="513.2" font-size="11" fill="#2a2a2a" text-anchor="start" font-weight="normal" font-style="normal" >4</text>
<text x="183.0" y="513.2" font-size="11" fill="#2a2a2a" text-anchor="middle" font-weight="normal" font-style="normal" ><tspan font-style="italic">t</tspan>-value</text>
<text x="0" y="0" font-size="17.2" fill="#1a1a1a" font-weight="bold" transform="translate(380.7,279.3) scale(0.873,1)">D</text>
<line x1="420.5" y1="285.5" x2="420.5" y2="476.9" stroke="#1e1e1e" stroke-width="1.2" />
<line x1="420.5" y1="476.3" x2="681.2" y2="476.3" stroke="#1e1e1e" stroke-width="1.2" />
<line x1="416.0" y1="285.5" x2="420.5" y2="285.5" stroke="#1e1e1e" stroke-width="1.2" />
<text x="414.0" y="290.1" font-size="12.8" fill="#2a2a2a" text-anchor="end" font-weight="normal" font-style="normal" >0.2</text>
<line x1="416.0" y1="349.3" x2="420.5" y2="349.3" stroke="#1e1e1e" stroke-width="1.2" />
<text x="414.0" y="353.9" font-size="12.8" fill="#2a2a2a" text-anchor="end" font-weight="normal" font-style="normal" >0.1</text>
<line x1="416.0" y1="413.1" x2="420.5" y2="413.1" stroke="#1e1e1e" stroke-width="1.2" />
<text x="414.0" y="417.7" font-size="12.8" fill="#2a2a2a" text-anchor="end" font-weight="normal" font-style="normal" >0.0</text>
<line x1="416.0" y1="476.9" x2="420.5" y2="476.9" stroke="#1e1e1e" stroke-width="1.2" />
<text x="414.0" y="481.5" font-size="12.8" fill="#2a2a2a" text-anchor="end" font-weight="normal" font-style="normal" >-0.1</text>
<line x1="417.5" y1="317.4" x2="420.5" y2="317.4" stroke="#1e1e1e" stroke-width="1" />
<line x1="417.5" y1="381.2" x2="420.5" y2="381.2" stroke="#1e1e1e" stroke-width="1" />
<line x1="417.5" y1="445.0" x2="420.5" y2="445.0" stroke="#1e1e1e" stroke-width="1" />
<line x1="420.1" y1="476.3" x2="420.1" y2="480.8" stroke="#1e1e1e" stroke-width="1.2" />
<text x="420.1" y="493.0" font-size="12.8" fill="#2a2a2a" text-anchor="middle" font-weight="normal" font-style="normal" >-50</text>
<line x1="426.5" y1="476.3" x2="426.5" y2="478.8" stroke="#1e1e1e" stroke-width="1" />
<line x1="432.8" y1="476.3" x2="432.8" y2="478.8" stroke="#1e1e1e" stroke-width="1" />
<line x1="439.2" y1="476.3" x2="439.2" y2="478.8" stroke="#1e1e1e" stroke-width="1" />
<line x1="445.5" y1="476.3" x2="445.5" y2="478.8" stroke="#1e1e1e" stroke-width="1" />
<line x1="451.9" y1="476.3" x2="451.9" y2="478.8" stroke="#1e1e1e" stroke-width="1" />
<line x1="458.2" y1="476.3" x2="458.2" y2="478.8" stroke="#1e1e1e" stroke-width="1" />
<line x1="464.6" y1="476.3" x2="464.6" y2="478.8" stroke="#1e1e1e" stroke-width="1" />
<line x1="470.9" y1="476.3" x2="470.9" y2="478.8" stroke="#1e1e1e" stroke-width="1" />
<line x1="477.2" y1="476.3" x2="477.2" y2="478.8" stroke="#1e1e1e" stroke-width="1" />
<line x1="483.6" y1="476.3" x2="483.6" y2="480.8" stroke="#1e1e1e" stroke-width="1.2" />
<text x="483.6" y="493.0" font-size="12.8" fill="#2a2a2a" text-anchor="middle" font-weight="normal" font-style="normal" >0</text>
<line x1="490.0" y1="476.3" x2="490.0" y2="478.8" stroke="#1e1e1e" stroke-width="1" />
<line x1="496.3" y1="476.3" x2="496.3" y2="478.8" stroke="#1e1e1e" stroke-width="1" />
<line x1="502.7" y1="476.3" x2="502.7" y2="478.8" stroke="#1e1e1e" stroke-width="1" />
<line x1="509.0" y1="476.3" x2="509.0" y2="478.8" stroke="#1e1e1e" stroke-width="1" />
<line x1="515.4" y1="476.3" x2="515.4" y2="478.8" stroke="#1e1e1e" stroke-width="1" />
<line x1="521.7" y1="476.3" x2="521.7" y2="478.8" stroke="#1e1e1e" stroke-width="1" />
<line x1="528.1" y1="476.3" x2="528.1" y2="478.8" stroke="#1e1e1e" stroke-width="1" />
<line x1="534.4" y1="476.3" x2="534.4" y2="478.8" stroke="#1e1e1e" stroke-width="1" />
<line x1="540.8" y1="476.3" x2="540.8" y2="478.8" stroke="#1e1e1e" stroke-width="1" />
<line x1="547.1" y1="476.3" x2="547.1" y2="480.8" stroke="#1e1e1e" stroke-width="1.2" />
<text x="547.1" y="493.0" font-size="12.8" fill="#2a2a2a" text-anchor="middle" font-weight="normal" font-style="normal" >50</text>
<line x1="553.5" y1="476.3" x2="553.5" y2="478.8" stroke="#1e1e1e" stroke-width="1" />
<line x1="559.8" y1="476.3" x2="559.8" y2="478.8" stroke="#1e1e1e" stroke-width="1" />
<line x1="566.1" y1="476.3" x2="566.1" y2="478.8" stroke="#1e1e1e" stroke-width="1" />
<line x1="572.5" y1="476.3" x2="572.5" y2="478.8" stroke="#1e1e1e" stroke-width="1" />
<line x1="578.9" y1="476.3" x2="578.9" y2="478.8" stroke="#1e1e1e" stroke-width="1" />
<line x1="585.2" y1="476.3" x2="585.2" y2="478.8" stroke="#1e1e1e" stroke-width="1" />
<line x1="591.6" y1="476.3" x2="591.6" y2="478.8" stroke="#1e1e1e" stroke-width="1" />
<line x1="597.9" y1="476.3" x2="597.9" y2="478.8" stroke="#1e1e1e" stroke-width="1" />
<line x1="604.2" y1="476.3" x2="604.2" y2="478.8" stroke="#1e1e1e" stroke-width="1" />
<line x1="610.6" y1="476.3" x2="610.6" y2="480.8" stroke="#1e1e1e" stroke-width="1.2" />
<text x="610.6" y="493.0" font-size="12.8" fill="#2a2a2a" text-anchor="middle" font-weight="normal" font-style="normal" >100</text>
<line x1="617.0" y1="476.3" x2="617.0" y2="478.8" stroke="#1e1e1e" stroke-width="1" />
<line x1="623.3" y1="476.3" x2="623.3" y2="478.8" stroke="#1e1e1e" stroke-width="1" />
<line x1="629.7" y1="476.3" x2="629.7" y2="478.8" stroke="#1e1e1e" stroke-width="1" />
<line x1="636.0" y1="476.3" x2="636.0" y2="478.8" stroke="#1e1e1e" stroke-width="1" />
<line x1="642.4" y1="476.3" x2="642.4" y2="478.8" stroke="#1e1e1e" stroke-width="1" />
<line x1="648.7" y1="476.3" x2="648.7" y2="478.8" stroke="#1e1e1e" stroke-width="1" />
<line x1="655.0" y1="476.3" x2="655.0" y2="478.8" stroke="#1e1e1e" stroke-width="1" />
<line x1="661.4" y1="476.3" x2="661.4" y2="478.8" stroke="#1e1e1e" stroke-width="1" />
<line x1="667.8" y1="476.3" x2="667.8" y2="478.8" stroke="#1e1e1e" stroke-width="1" />
<line x1="674.1" y1="476.3" x2="674.1" y2="480.8" stroke="#1e1e1e" stroke-width="1.2" />
<text x="674.1" y="493.0" font-size="12.8" fill="#2a2a2a" text-anchor="middle" font-weight="normal" font-style="normal" >150</text>
<text x="546.5" y="509.8" font-size="13.1" fill="#2a2a2a" text-anchor="middle" font-weight="normal" font-style="normal" >Time from stimulus onset (ms)</text>
<text x="0.0" y="0.0" font-size="13.2" fill="#2a2a2a" text-anchor="middle" font-weight="normal" font-style="normal" transform="translate(389,380.5) rotate(-90)">Percent change (%)</text>
<line x1="420.5" y1="413.1" x2="681.2" y2="413.1" stroke="#1e1e1e" stroke-width="1.1" />
<line x1="483.4" y1="287.6" x2="483.4" y2="476.0" stroke="#333" stroke-width="0.9" stroke-dasharray="2.5,2.5"/>
<line x1="426.5" y1="370.3" x2="426.5" y2="413.8" stroke="#a2a2a2" stroke-width="1.0" />
<line x1="424.0" y1="370.3" x2="429.0" y2="370.3" stroke="#a2a2a2" stroke-width="1.0" />
<line x1="424.0" y1="413.8" x2="429.0" y2="413.8" stroke="#a2a2a2" stroke-width="1.0" />
<line x1="432.8" y1="376.6" x2="432.8" y2="422.8" stroke="#a2a2a2" stroke-width="1.0" />
<line x1="430.3" y1="376.6" x2="435.3" y2="376.6" stroke="#a2a2a2" stroke-width="1.0" />
<line x1="430.3" y1="422.8" x2="435.3" y2="422.8" stroke="#a2a2a2" stroke-width="1.0" />
<line x1="439.2" y1="379.0" x2="439.2" y2="434.5" stroke="#a2a2a2" stroke-width="1.0" />
<line x1="436.7" y1="379.0" x2="441.7" y2="379.0" stroke="#a2a2a2" stroke-width="1.0" />
<line x1="436.7" y1="434.5" x2="441.7" y2="434.5" stroke="#a2a2a2" stroke-width="1.0" />
<line x1="445.5" y1="389.3" x2="445.5" y2="433.1" stroke="#a2a2a2" stroke-width="1.0" />
<line x1="443.0" y1="389.3" x2="448.0" y2="389.3" stroke="#a2a2a2" stroke-width="1.0" />
<line x1="443.0" y1="433.1" x2="448.0" y2="433.1" stroke="#a2a2a2" stroke-width="1.0" />
<line x1="451.9" y1="383.0" x2="451.9" y2="427.9" stroke="#a2a2a2" stroke-width="1.0" />
<line x1="449.4" y1="383.0" x2="454.4" y2="383.0" stroke="#a2a2a2" stroke-width="1.0" />
<line x1="449.4" y1="427.9" x2="454.4" y2="427.9" stroke="#a2a2a2" stroke-width="1.0" />
<line x1="458.2" y1="376.9" x2="458.2" y2="423.8" stroke="#a2a2a2" stroke-width="1.0" />
<line x1="455.7" y1="376.9" x2="460.7" y2="376.9" stroke="#a2a2a2" stroke-width="1.0" />
<line x1="455.7" y1="423.8" x2="460.7" y2="423.8" stroke="#a2a2a2" stroke-width="1.0" />
<line x1="464.6" y1="383.9" x2="464.6" y2="420.6" stroke="#a2a2a2" stroke-width="1.0" />
<line x1="462.1" y1="383.9" x2="467.1" y2="383.9" stroke="#a2a2a2" stroke-width="1.0" />
<line x1="462.1" y1="420.6" x2="467.1" y2="420.6" stroke="#a2a2a2" stroke-width="1.0" />
<line x1="470.9" y1="385.5" x2="470.9" y2="430.5" stroke="#a2a2a2" stroke-width="1.0" />
<line x1="468.4" y1="385.5" x2="473.4" y2="385.5" stroke="#a2a2a2" stroke-width="1.0" />
<line x1="468.4" y1="430.5" x2="473.4" y2="430.5" stroke="#a2a2a2" stroke-width="1.0" />
<line x1="477.2" y1="409.5" x2="477.2" y2="457.5" stroke="#a2a2a2" stroke-width="1.0" />
<line x1="474.8" y1="409.5" x2="479.8" y2="409.5" stroke="#a2a2a2" stroke-width="1.0" />
<line x1="474.8" y1="457.5" x2="479.8" y2="457.5" stroke="#a2a2a2" stroke-width="1.0" />
<line x1="483.6" y1="418.9" x2="483.6" y2="471.1" stroke="#a2a2a2" stroke-width="1.0" />
<line x1="481.1" y1="418.9" x2="486.1" y2="418.9" stroke="#a2a2a2" stroke-width="1.0" />
<line x1="481.1" y1="471.1" x2="486.1" y2="471.1" stroke="#a2a2a2" stroke-width="1.0" />
<line x1="490.0" y1="422.7" x2="490.0" y2="457.0" stroke="#a2a2a2" stroke-width="1.0" />
<line x1="487.5" y1="422.7" x2="492.5" y2="422.7" stroke="#a2a2a2" stroke-width="1.0" />
<line x1="487.5" y1="457.0" x2="492.5" y2="457.0" stroke="#a2a2a2" stroke-width="1.0" />
<line x1="496.3" y1="406.0" x2="496.3" y2="445.7" stroke="#a2a2a2" stroke-width="1.0" />
<line x1="493.8" y1="406.0" x2="498.8" y2="406.0" stroke="#a2a2a2" stroke-width="1.0" />
<line x1="493.8" y1="445.7" x2="498.8" y2="445.7" stroke="#a2a2a2" stroke-width="1.0" />
<line x1="502.7" y1="401.7" x2="502.7" y2="435.9" stroke="#a2a2a2" stroke-width="1.0" />
<line x1="500.2" y1="401.7" x2="505.2" y2="401.7" stroke="#a2a2a2" stroke-width="1.0" />
<line x1="500.2" y1="435.9" x2="505.2" y2="435.9" stroke="#a2a2a2" stroke-width="1.0" />
<line x1="509.0" y1="386.8" x2="509.0" y2="439.4" stroke="#a2a2a2" stroke-width="1.0" />
<line x1="506.5" y1="386.8" x2="511.5" y2="386.8" stroke="#a2a2a2" stroke-width="1.0" />
<line x1="506.5" y1="439.4" x2="511.5" y2="439.4" stroke="#a2a2a2" stroke-width="1.0" />
<line x1="515.4" y1="398.5" x2="515.4" y2="448.1" stroke="#a2a2a2" stroke-width="1.0" />
<line x1="512.9" y1="398.5" x2="517.9" y2="398.5" stroke="#a2a2a2" stroke-width="1.0" />
<line x1="512.9" y1="448.1" x2="517.9" y2="448.1" stroke="#a2a2a2" stroke-width="1.0" />
<line x1="521.7" y1="418.9" x2="521.7" y2="451.9" stroke="#a2a2a2" stroke-width="1.0" />
<line x1="519.2" y1="418.9" x2="524.2" y2="418.9" stroke="#a2a2a2" stroke-width="1.0" />
<line x1="519.2" y1="451.9" x2="524.2" y2="451.9" stroke="#a2a2a2" stroke-width="1.0" />
<line x1="528.1" y1="399.9" x2="528.1" y2="456.9" stroke="#a2a2a2" stroke-width="1.0" />
<line x1="525.6" y1="399.9" x2="530.6" y2="399.9" stroke="#a2a2a2" stroke-width="1.0" />
<line x1="525.6" y1="456.9" x2="530.6" y2="456.9" stroke="#a2a2a2" stroke-width="1.0" />
<line x1="534.4" y1="383.6" x2="534.4" y2="440.1" stroke="#a2a2a2" stroke-width="1.0" />
<line x1="531.9" y1="383.6" x2="536.9" y2="383.6" stroke="#a2a2a2" stroke-width="1.0" />
<line x1="531.9" y1="440.1" x2="536.9" y2="440.1" stroke="#a2a2a2" stroke-width="1.0" />
<line x1="540.8" y1="374.8" x2="540.8" y2="423.4" stroke="#a2a2a2" stroke-width="1.0" />
<line x1="538.2" y1="374.8" x2="543.2" y2="374.8" stroke="#a2a2a2" stroke-width="1.0" />
<line x1="538.2" y1="423.4" x2="543.2" y2="423.4" stroke="#a2a2a2" stroke-width="1.0" />
<line x1="547.1" y1="377.2" x2="547.1" y2="424.8" stroke="#a2a2a2" stroke-width="1.0" />
<line x1="544.6" y1="377.2" x2="549.6" y2="377.2" stroke="#a2a2a2" stroke-width="1.0" />
<line x1="544.6" y1="424.8" x2="549.6" y2="424.8" stroke="#a2a2a2" stroke-width="1.0" />
<line x1="553.5" y1="408.5" x2="553.5" y2="444.5" stroke="#a2a2a2" stroke-width="1.0" />
<line x1="551.0" y1="408.5" x2="556.0" y2="408.5" stroke="#a2a2a2" stroke-width="1.0" />
<line x1="551.0" y1="444.5" x2="556.0" y2="444.5" stroke="#a2a2a2" stroke-width="1.0" />
<line x1="559.8" y1="412.9" x2="559.8" y2="445.2" stroke="#a2a2a2" stroke-width="1.0" />
<line x1="557.3" y1="412.9" x2="562.3" y2="412.9" stroke="#a2a2a2" stroke-width="1.0" />
<line x1="557.3" y1="445.2" x2="562.3" y2="445.2" stroke="#a2a2a2" stroke-width="1.0" />
<line x1="566.1" y1="380.8" x2="566.1" y2="426.2" stroke="#a2a2a2" stroke-width="1.0" />
<line x1="563.6" y1="380.8" x2="568.6" y2="380.8" stroke="#a2a2a2" stroke-width="1.0" />
<line x1="563.6" y1="426.2" x2="568.6" y2="426.2" stroke="#a2a2a2" stroke-width="1.0" />
<line x1="572.5" y1="373.4" x2="572.5" y2="406.8" stroke="#a2a2a2" stroke-width="1.0" />
<line x1="570.0" y1="373.4" x2="575.0" y2="373.4" stroke="#a2a2a2" stroke-width="1.0" />
<line x1="570.0" y1="406.8" x2="575.0" y2="406.8" stroke="#a2a2a2" stroke-width="1.0" />
<line x1="578.9" y1="378.1" x2="578.9" y2="414.9" stroke="#a2a2a2" stroke-width="1.0" />
<line x1="576.4" y1="378.1" x2="581.4" y2="378.1" stroke="#a2a2a2" stroke-width="1.0" />
<line x1="576.4" y1="414.9" x2="581.4" y2="414.9" stroke="#a2a2a2" stroke-width="1.0" />
<line x1="585.2" y1="369.2" x2="585.2" y2="407.3" stroke="#a2a2a2" stroke-width="1.0" />
<line x1="582.7" y1="369.2" x2="587.7" y2="369.2" stroke="#a2a2a2" stroke-width="1.0" />
<line x1="582.7" y1="407.3" x2="587.7" y2="407.3" stroke="#a2a2a2" stroke-width="1.0" />
<line x1="591.6" y1="373.8" x2="591.6" y2="406.5" stroke="#a2a2a2" stroke-width="1.0" />
<line x1="589.1" y1="373.8" x2="594.1" y2="373.8" stroke="#a2a2a2" stroke-width="1.0" />
<line x1="589.1" y1="406.5" x2="594.1" y2="406.5" stroke="#a2a2a2" stroke-width="1.0" />
<line x1="597.9" y1="386.1" x2="597.9" y2="429.9" stroke="#a2a2a2" stroke-width="1.0" />
<line x1="595.4" y1="386.1" x2="600.4" y2="386.1" stroke="#a2a2a2" stroke-width="1.0" />
<line x1="595.4" y1="429.9" x2="600.4" y2="429.9" stroke="#a2a2a2" stroke-width="1.0" />
<line x1="604.2" y1="392.2" x2="604.2" y2="435.3" stroke="#a2a2a2" stroke-width="1.0" />
<line x1="601.8" y1="392.2" x2="606.8" y2="392.2" stroke="#a2a2a2" stroke-width="1.0" />
<line x1="601.8" y1="435.3" x2="606.8" y2="435.3" stroke="#a2a2a2" stroke-width="1.0" />
<line x1="610.6" y1="389.0" x2="610.6" y2="442.4" stroke="#a2a2a2" stroke-width="1.0" />
<line x1="608.1" y1="389.0" x2="613.1" y2="389.0" stroke="#a2a2a2" stroke-width="1.0" />
<line x1="608.1" y1="442.4" x2="613.1" y2="442.4" stroke="#a2a2a2" stroke-width="1.0" />
<line x1="617.0" y1="398.8" x2="617.0" y2="444.0" stroke="#a2a2a2" stroke-width="1.0" />
<line x1="614.5" y1="398.8" x2="619.5" y2="398.8" stroke="#a2a2a2" stroke-width="1.0" />
<line x1="614.5" y1="444.0" x2="619.5" y2="444.0" stroke="#a2a2a2" stroke-width="1.0" />
<line x1="623.3" y1="382.6" x2="623.3" y2="430.8" stroke="#a2a2a2" stroke-width="1.0" />
<line x1="620.8" y1="382.6" x2="625.8" y2="382.6" stroke="#a2a2a2" stroke-width="1.0" />
<line x1="620.8" y1="430.8" x2="625.8" y2="430.8" stroke="#a2a2a2" stroke-width="1.0" />
<line x1="629.7" y1="372.9" x2="629.7" y2="417.6" stroke="#a2a2a2" stroke-width="1.0" />
<line x1="627.2" y1="372.9" x2="632.2" y2="372.9" stroke="#a2a2a2" stroke-width="1.0" />
<line x1="627.2" y1="417.6" x2="632.2" y2="417.6" stroke="#a2a2a2" stroke-width="1.0" />
<line x1="636.0" y1="372.1" x2="636.0" y2="420.9" stroke="#a2a2a2" stroke-width="1.0" />
<line x1="633.5" y1="372.1" x2="638.5" y2="372.1" stroke="#a2a2a2" stroke-width="1.0" />
<line x1="633.5" y1="420.9" x2="638.5" y2="420.9" stroke="#a2a2a2" stroke-width="1.0" />
<line x1="642.4" y1="384.9" x2="642.4" y2="428.5" stroke="#a2a2a2" stroke-width="1.0" />
<line x1="639.9" y1="384.9" x2="644.9" y2="384.9" stroke="#a2a2a2" stroke-width="1.0" />
<line x1="639.9" y1="428.5" x2="644.9" y2="428.5" stroke="#a2a2a2" stroke-width="1.0" />
<line x1="648.7" y1="390.4" x2="648.7" y2="429.4" stroke="#a2a2a2" stroke-width="1.0" />
<line x1="646.2" y1="390.4" x2="651.2" y2="390.4" stroke="#a2a2a2" stroke-width="1.0" />
<line x1="646.2" y1="429.4" x2="651.2" y2="429.4" stroke="#a2a2a2" stroke-width="1.0" />
<line x1="655.0" y1="399.7" x2="655.0" y2="457.1" stroke="#a2a2a2" stroke-width="1.0" />
<line x1="652.5" y1="399.7" x2="657.5" y2="399.7" stroke="#a2a2a2" stroke-width="1.0" />
<line x1="652.5" y1="457.1" x2="657.5" y2="457.1" stroke="#a2a2a2" stroke-width="1.0" />
<line x1="661.4" y1="406.1" x2="661.4" y2="463.4" stroke="#a2a2a2" stroke-width="1.0" />
<line x1="658.9" y1="406.1" x2="663.9" y2="406.1" stroke="#a2a2a2" stroke-width="1.0" />
<line x1="658.9" y1="463.4" x2="663.9" y2="463.4" stroke="#a2a2a2" stroke-width="1.0" />
<line x1="667.8" y1="403.7" x2="667.8" y2="457.0" stroke="#a2a2a2" stroke-width="1.0" />
<line x1="665.2" y1="403.7" x2="670.2" y2="403.7" stroke="#a2a2a2" stroke-width="1.0" />
<line x1="665.2" y1="457.0" x2="670.2" y2="457.0" stroke="#a2a2a2" stroke-width="1.0" />
<line x1="674.1" y1="411.7" x2="674.1" y2="461.7" stroke="#a2a2a2" stroke-width="1.0" />
<line x1="671.6" y1="411.7" x2="676.6" y2="411.7" stroke="#a2a2a2" stroke-width="1.0" />
<line x1="671.6" y1="461.7" x2="676.6" y2="461.7" stroke="#a2a2a2" stroke-width="1.0" />
<polyline points="426.5,392.0 432.8,399.7 439.2,406.7 445.5,411.2 451.9,405.4 458.2,400.3 464.6,402.3 470.9,408.0 477.2,433.5 483.6,445.0 490.0,439.9 496.3,425.9 502.7,418.8 509.0,413.1 515.4,423.3 521.7,435.4 528.1,428.4 534.4,411.8 540.8,399.1 547.1,401.0 553.5,426.5 559.8,429.1 566.1,403.5 572.5,390.1 578.9,396.5 585.2,388.2 591.6,390.1 597.9,408.0 604.2,413.7 610.6,415.7 617.0,421.4 623.3,406.7 629.7,395.2 636.0,396.5 642.4,406.7 648.7,409.9 655.0,428.4 661.4,434.8 667.8,430.3 674.1,436.7" fill="none" stroke="#a2a2a2" stroke-width="2.2" stroke-linejoin="round" />
<line x1="426.5" y1="373.3" x2="426.5" y2="406.9" stroke="#262626" stroke-width="1.0" />
<line x1="424.0" y1="373.3" x2="429.0" y2="373.3" stroke="#262626" stroke-width="1.0" />
<line x1="424.0" y1="406.9" x2="429.0" y2="406.9" stroke="#262626" stroke-width="1.0" />
<line x1="432.8" y1="384.6" x2="432.8" y2="416.0" stroke="#262626" stroke-width="1.0" />
<line x1="430.3" y1="384.6" x2="435.3" y2="384.6" stroke="#262626" stroke-width="1.0" />
<line x1="430.3" y1="416.0" x2="435.3" y2="416.0" stroke="#262626" stroke-width="1.0" />
<line x1="439.2" y1="409.4" x2="439.2" y2="442.3" stroke="#262626" stroke-width="1.0" />
<line x1="436.7" y1="409.4" x2="441.7" y2="409.4" stroke="#262626" stroke-width="1.0" />
<line x1="436.7" y1="442.3" x2="441.7" y2="442.3" stroke="#262626" stroke-width="1.0" />
<line x1="445.5" y1="406.5" x2="445.5" y2="433.8" stroke="#262626" stroke-width="1.0" />
<line x1="443.0" y1="406.5" x2="448.0" y2="406.5" stroke="#262626" stroke-width="1.0" />
<line x1="443.0" y1="433.8" x2="448.0" y2="433.8" stroke="#262626" stroke-width="1.0" />
<line x1="451.9" y1="391.2" x2="451.9" y2="436.3" stroke="#262626" stroke-width="1.0" />
<line x1="449.4" y1="391.2" x2="454.4" y2="391.2" stroke="#262626" stroke-width="1.0" />
<line x1="449.4" y1="436.3" x2="454.4" y2="436.3" stroke="#262626" stroke-width="1.0" />
<line x1="458.2" y1="393.3" x2="458.2" y2="429.1" stroke="#262626" stroke-width="1.0" />
<line x1="455.7" y1="393.3" x2="460.7" y2="393.3" stroke="#262626" stroke-width="1.0" />
<line x1="455.7" y1="429.1" x2="460.7" y2="429.1" stroke="#262626" stroke-width="1.0" />
<line x1="464.6" y1="387.6" x2="464.6" y2="434.7" stroke="#262626" stroke-width="1.0" />
<line x1="462.1" y1="387.6" x2="467.1" y2="387.6" stroke="#262626" stroke-width="1.0" />
<line x1="462.1" y1="434.7" x2="467.1" y2="434.7" stroke="#262626" stroke-width="1.0" />
<line x1="470.9" y1="406.3" x2="470.9" y2="441.6" stroke="#262626" stroke-width="1.0" />
<line x1="468.4" y1="406.3" x2="473.4" y2="406.3" stroke="#262626" stroke-width="1.0" />
<line x1="468.4" y1="441.6" x2="473.4" y2="441.6" stroke="#262626" stroke-width="1.0" />
<line x1="477.2" y1="399.6" x2="477.2" y2="449.6" stroke="#262626" stroke-width="1.0" />
<line x1="474.8" y1="399.6" x2="479.8" y2="399.6" stroke="#262626" stroke-width="1.0" />
<line x1="474.8" y1="449.6" x2="479.8" y2="449.6" stroke="#262626" stroke-width="1.0" />
<line x1="483.6" y1="371.7" x2="483.6" y2="418.8" stroke="#262626" stroke-width="1.0" />
<line x1="481.1" y1="371.7" x2="486.1" y2="371.7" stroke="#262626" stroke-width="1.0" />
<line x1="481.1" y1="418.8" x2="486.1" y2="418.8" stroke="#262626" stroke-width="1.0" />
<line x1="490.0" y1="381.2" x2="490.0" y2="406.7" stroke="#262626" stroke-width="1.0" />
<line x1="487.5" y1="381.2" x2="492.5" y2="381.2" stroke="#262626" stroke-width="1.0" />
<line x1="487.5" y1="406.7" x2="492.5" y2="406.7" stroke="#262626" stroke-width="1.0" />
<line x1="496.3" y1="396.4" x2="496.3" y2="427.3" stroke="#262626" stroke-width="1.0" />
<line x1="493.8" y1="396.4" x2="498.8" y2="396.4" stroke="#262626" stroke-width="1.0" />
<line x1="493.8" y1="427.3" x2="498.8" y2="427.3" stroke="#262626" stroke-width="1.0" />
<line x1="502.7" y1="379.2" x2="502.7" y2="427.9" stroke="#262626" stroke-width="1.0" />
<line x1="500.2" y1="379.2" x2="505.2" y2="379.2" stroke="#262626" stroke-width="1.0" />
<line x1="500.2" y1="427.9" x2="505.2" y2="427.9" stroke="#262626" stroke-width="1.0" />
<line x1="509.0" y1="375.8" x2="509.0" y2="413.4" stroke="#262626" stroke-width="1.0" />
<line x1="506.5" y1="375.8" x2="511.5" y2="375.8" stroke="#262626" stroke-width="1.0" />
<line x1="506.5" y1="413.4" x2="511.5" y2="413.4" stroke="#262626" stroke-width="1.0" />
<line x1="515.4" y1="375.1" x2="515.4" y2="425.6" stroke="#262626" stroke-width="1.0" />
<line x1="512.9" y1="375.1" x2="517.9" y2="375.1" stroke="#262626" stroke-width="1.0" />
<line x1="512.9" y1="425.6" x2="517.9" y2="425.6" stroke="#262626" stroke-width="1.0" />
<line x1="521.7" y1="395.3" x2="521.7" y2="430.9" stroke="#262626" stroke-width="1.0" />
<line x1="519.2" y1="395.3" x2="524.2" y2="395.3" stroke="#262626" stroke-width="1.0" />
<line x1="519.2" y1="430.9" x2="524.2" y2="430.9" stroke="#262626" stroke-width="1.0" />
<line x1="528.1" y1="413.4" x2="528.1" y2="440.8" stroke="#262626" stroke-width="1.0" />
<line x1="525.6" y1="413.4" x2="530.6" y2="413.4" stroke="#262626" stroke-width="1.0" />
<line x1="525.6" y1="440.8" x2="530.6" y2="440.8" stroke="#262626" stroke-width="1.0" />
<line x1="534.4" y1="407.6" x2="534.4" y2="449.2" stroke="#262626" stroke-width="1.0" />
<line x1="531.9" y1="407.6" x2="536.9" y2="407.6" stroke="#262626" stroke-width="1.0" />
<line x1="531.9" y1="449.2" x2="536.9" y2="449.2" stroke="#262626" stroke-width="1.0" />
<line x1="540.8" y1="407.0" x2="540.8" y2="452.4" stroke="#262626" stroke-width="1.0" />
<line x1="538.2" y1="407.0" x2="543.2" y2="407.0" stroke="#262626" stroke-width="1.0" />
<line x1="538.2" y1="452.4" x2="543.2" y2="452.4" stroke="#262626" stroke-width="1.0" />
<line x1="547.1" y1="415.4" x2="547.1" y2="447.8" stroke="#262626" stroke-width="1.0" />
<line x1="544.6" y1="415.4" x2="549.6" y2="415.4" stroke="#262626" stroke-width="1.0" />
<line x1="544.6" y1="447.8" x2="549.6" y2="447.8" stroke="#262626" stroke-width="1.0" />
<line x1="553.5" y1="405.6" x2="553.5" y2="433.4" stroke="#262626" stroke-width="1.0" />
<line x1="551.0" y1="405.6" x2="556.0" y2="405.6" stroke="#262626" stroke-width="1.0" />
<line x1="551.0" y1="433.4" x2="556.0" y2="433.4" stroke="#262626" stroke-width="1.0" />
<line x1="559.8" y1="394.2" x2="559.8" y2="428.2" stroke="#262626" stroke-width="1.0" />
<line x1="557.3" y1="394.2" x2="562.3" y2="394.2" stroke="#262626" stroke-width="1.0" />
<line x1="557.3" y1="428.2" x2="562.3" y2="428.2" stroke="#262626" stroke-width="1.0" />
<line x1="566.1" y1="393.1" x2="566.1" y2="443.3" stroke="#262626" stroke-width="1.0" />
<line x1="563.6" y1="393.1" x2="568.6" y2="393.1" stroke="#262626" stroke-width="1.0" />
<line x1="563.6" y1="443.3" x2="568.6" y2="443.3" stroke="#262626" stroke-width="1.0" />
<line x1="572.5" y1="399.0" x2="572.5" y2="443.8" stroke="#262626" stroke-width="1.0" />
<line x1="570.0" y1="399.0" x2="575.0" y2="399.0" stroke="#262626" stroke-width="1.0" />
<line x1="570.0" y1="443.8" x2="575.0" y2="443.8" stroke="#262626" stroke-width="1.0" />
<line x1="578.9" y1="407.8" x2="578.9" y2="436.3" stroke="#262626" stroke-width="1.0" />
<line x1="576.4" y1="407.8" x2="581.4" y2="407.8" stroke="#262626" stroke-width="1.0" />
<line x1="576.4" y1="436.3" x2="581.4" y2="436.3" stroke="#262626" stroke-width="1.0" />
<line x1="585.2" y1="394.0" x2="585.2" y2="425.8" stroke="#262626" stroke-width="1.0" />
<line x1="582.7" y1="394.0" x2="587.7" y2="394.0" stroke="#262626" stroke-width="1.0" />
<line x1="582.7" y1="425.8" x2="587.7" y2="425.8" stroke="#262626" stroke-width="1.0" />
<line x1="591.6" y1="384.4" x2="591.6" y2="412.5" stroke="#262626" stroke-width="1.0" />
<line x1="589.1" y1="384.4" x2="594.1" y2="384.4" stroke="#262626" stroke-width="1.0" />
<line x1="589.1" y1="412.5" x2="594.1" y2="412.5" stroke="#262626" stroke-width="1.0" />
<line x1="597.9" y1="387.5" x2="597.9" y2="414.5" stroke="#262626" stroke-width="1.0" />
<line x1="595.4" y1="387.5" x2="600.4" y2="387.5" stroke="#262626" stroke-width="1.0" />
<line x1="595.4" y1="414.5" x2="600.4" y2="414.5" stroke="#262626" stroke-width="1.0" />
<line x1="604.2" y1="374.2" x2="604.2" y2="420.1" stroke="#262626" stroke-width="1.0" />
<line x1="601.8" y1="374.2" x2="606.8" y2="374.2" stroke="#262626" stroke-width="1.0" />
<line x1="601.8" y1="420.1" x2="606.8" y2="420.1" stroke="#262626" stroke-width="1.0" />
<line x1="610.6" y1="381.5" x2="610.6" y2="411.5" stroke="#262626" stroke-width="1.0" />
<line x1="608.1" y1="381.5" x2="613.1" y2="381.5" stroke="#262626" stroke-width="1.0" />
<line x1="608.1" y1="411.5" x2="613.1" y2="411.5" stroke="#262626" stroke-width="1.0" />
<line x1="617.0" y1="382.4" x2="617.0" y2="422.2" stroke="#262626" stroke-width="1.0" />
<line x1="614.5" y1="382.4" x2="619.5" y2="382.4" stroke="#262626" stroke-width="1.0" />
<line x1="614.5" y1="422.2" x2="619.5" y2="422.2" stroke="#262626" stroke-width="1.0" />
<line x1="623.3" y1="388.9" x2="623.3" y2="425.8" stroke="#262626" stroke-width="1.0" />
<line x1="620.8" y1="388.9" x2="625.8" y2="388.9" stroke="#262626" stroke-width="1.0" />
<line x1="620.8" y1="425.8" x2="625.8" y2="425.8" stroke="#262626" stroke-width="1.0" />
<line x1="629.7" y1="396.0" x2="629.7" y2="426.4" stroke="#262626" stroke-width="1.0" />
<line x1="627.2" y1="396.0" x2="632.2" y2="396.0" stroke="#262626" stroke-width="1.0" />
<line x1="627.2" y1="426.4" x2="632.2" y2="426.4" stroke="#262626" stroke-width="1.0" />
<line x1="636.0" y1="396.7" x2="636.0" y2="440.9" stroke="#262626" stroke-width="1.0" />
<line x1="633.5" y1="396.7" x2="638.5" y2="396.7" stroke="#262626" stroke-width="1.0" />
<line x1="633.5" y1="440.9" x2="638.5" y2="440.9" stroke="#262626" stroke-width="1.0" />
<line x1="642.4" y1="396.8" x2="642.4" y2="425.6" stroke="#262626" stroke-width="1.0" />
<line x1="639.9" y1="396.8" x2="644.9" y2="396.8" stroke="#262626" stroke-width="1.0" />
<line x1="639.9" y1="425.6" x2="644.9" y2="425.6" stroke="#262626" stroke-width="1.0" />
<line x1="648.7" y1="384.5" x2="648.7" y2="426.4" stroke="#262626" stroke-width="1.0" />
<line x1="646.2" y1="384.5" x2="651.2" y2="384.5" stroke="#262626" stroke-width="1.0" />
<line x1="646.2" y1="426.4" x2="651.2" y2="426.4" stroke="#262626" stroke-width="1.0" />
<line x1="655.0" y1="396.9" x2="655.0" y2="425.4" stroke="#262626" stroke-width="1.0" />
<line x1="652.5" y1="396.9" x2="657.5" y2="396.9" stroke="#262626" stroke-width="1.0" />
<line x1="652.5" y1="425.4" x2="657.5" y2="425.4" stroke="#262626" stroke-width="1.0" />
<line x1="661.4" y1="400.1" x2="661.4" y2="436.3" stroke="#262626" stroke-width="1.0" />
<line x1="658.9" y1="400.1" x2="663.9" y2="400.1" stroke="#262626" stroke-width="1.0" />
<line x1="658.9" y1="436.3" x2="663.9" y2="436.3" stroke="#262626" stroke-width="1.0" />
<line x1="667.8" y1="406.6" x2="667.8" y2="437.5" stroke="#262626" stroke-width="1.0" />
<line x1="665.2" y1="406.6" x2="670.2" y2="406.6" stroke="#262626" stroke-width="1.0" />
<line x1="665.2" y1="437.5" x2="670.2" y2="437.5" stroke="#262626" stroke-width="1.0" />
<line x1="674.1" y1="405.2" x2="674.1" y2="437.6" stroke="#262626" stroke-width="1.0" />
<line x1="671.6" y1="405.2" x2="676.6" y2="405.2" stroke="#262626" stroke-width="1.0" />
<line x1="671.6" y1="437.6" x2="676.6" y2="437.6" stroke="#262626" stroke-width="1.0" />
<polyline points="426.5,390.1 432.8,400.3 439.2,425.9 445.5,420.1 451.9,413.7 458.2,411.2 464.6,411.2 470.9,423.9 477.2,424.6 483.6,395.2 490.0,394.0 496.3,411.8 502.7,403.5 509.0,394.6 515.4,400.3 521.7,413.1 528.1,427.1 534.4,428.4 540.8,429.7 547.1,431.6 553.5,419.5 559.8,411.2 566.1,418.2 572.5,421.4 578.9,422.0 585.2,409.9 591.6,398.4 597.9,401.0 604.2,397.2 610.6,396.5 617.0,402.3 623.3,407.4 629.7,411.2 636.0,418.8 642.4,411.2 648.7,405.4 655.0,411.2 661.4,418.2 667.8,422.0 674.1,421.4" fill="none" stroke="#262626" stroke-width="2.2" stroke-linejoin="round" />
<line x1="426.5" y1="410.7" x2="426.5" y2="438.4" stroke="#c0356a" stroke-width="1.0" />
<line x1="424.0" y1="410.7" x2="429.0" y2="410.7" stroke="#c0356a" stroke-width="1.0" />
<line x1="424.0" y1="438.4" x2="429.0" y2="438.4" stroke="#c0356a" stroke-width="1.0" />
<line x1="432.8" y1="414.4" x2="432.8" y2="439.9" stroke="#c0356a" stroke-width="1.0" />
<line x1="430.3" y1="414.4" x2="435.3" y2="414.4" stroke="#c0356a" stroke-width="1.0" />
<line x1="430.3" y1="439.9" x2="435.3" y2="439.9" stroke="#c0356a" stroke-width="1.0" />
<line x1="439.2" y1="405.4" x2="439.2" y2="424.6" stroke="#c0356a" stroke-width="1.0" />
<line x1="436.7" y1="405.4" x2="441.7" y2="405.4" stroke="#c0356a" stroke-width="1.0" />
<line x1="436.7" y1="424.6" x2="441.7" y2="424.6" stroke="#c0356a" stroke-width="1.0" />
<line x1="445.5" y1="386.4" x2="445.5" y2="413.0" stroke="#c0356a" stroke-width="1.0" />
<line x1="443.0" y1="386.4" x2="448.0" y2="386.4" stroke="#c0356a" stroke-width="1.0" />
<line x1="443.0" y1="413.0" x2="448.0" y2="413.0" stroke="#c0356a" stroke-width="1.0" />
<line x1="451.9" y1="403.1" x2="451.9" y2="421.1" stroke="#c0356a" stroke-width="1.0" />
<line x1="449.4" y1="403.1" x2="454.4" y2="403.1" stroke="#c0356a" stroke-width="1.0" />
<line x1="449.4" y1="421.1" x2="454.4" y2="421.1" stroke="#c0356a" stroke-width="1.0" />
<line x1="458.2" y1="409.9" x2="458.2" y2="430.3" stroke="#c0356a" stroke-width="1.0" />
<line x1="455.7" y1="409.9" x2="460.7" y2="409.9" stroke="#c0356a" stroke-width="1.0" />
<line x1="455.7" y1="430.3" x2="460.7" y2="430.3" stroke="#c0356a" stroke-width="1.0" />
<line x1="464.6" y1="399.4" x2="464.6" y2="425.6" stroke="#c0356a" stroke-width="1.0" />
<line x1="462.1" y1="399.4" x2="467.1" y2="399.4" stroke="#c0356a" stroke-width="1.0" />
<line x1="462.1" y1="425.6" x2="467.1" y2="425.6" stroke="#c0356a" stroke-width="1.0" />
<line x1="470.9" y1="398.2" x2="470.9" y2="421.7" stroke="#c0356a" stroke-width="1.0" />
<line x1="468.4" y1="398.2" x2="473.4" y2="398.2" stroke="#c0356a" stroke-width="1.0" />
<line x1="468.4" y1="421.7" x2="473.4" y2="421.7" stroke="#c0356a" stroke-width="1.0" />
<line x1="477.2" y1="398.4" x2="477.2" y2="415.0" stroke="#c0356a" stroke-width="1.0" />
<line x1="474.8" y1="398.4" x2="479.8" y2="398.4" stroke="#c0356a" stroke-width="1.0" />
<line x1="474.8" y1="415.0" x2="479.8" y2="415.0" stroke="#c0356a" stroke-width="1.0" />
<line x1="483.6" y1="389.6" x2="483.6" y2="417.5" stroke="#c0356a" stroke-width="1.0" />
<line x1="481.1" y1="389.6" x2="486.1" y2="389.6" stroke="#c0356a" stroke-width="1.0" />
<line x1="481.1" y1="417.5" x2="486.1" y2="417.5" stroke="#c0356a" stroke-width="1.0" />
<line x1="490.0" y1="388.1" x2="490.0" y2="406.2" stroke="#c0356a" stroke-width="1.0" />
<line x1="487.5" y1="388.1" x2="492.5" y2="388.1" stroke="#c0356a" stroke-width="1.0" />
<line x1="487.5" y1="406.2" x2="492.5" y2="406.2" stroke="#c0356a" stroke-width="1.0" />
<line x1="496.3" y1="373.8" x2="496.3" y2="392.4" stroke="#c0356a" stroke-width="1.0" />
<line x1="493.8" y1="373.8" x2="498.8" y2="373.8" stroke="#c0356a" stroke-width="1.0" />
<line x1="493.8" y1="392.4" x2="498.8" y2="392.4" stroke="#c0356a" stroke-width="1.0" />
<line x1="502.7" y1="339.9" x2="502.7" y2="365.1" stroke="#c0356a" stroke-width="1.0" />
<line x1="500.2" y1="339.9" x2="505.2" y2="339.9" stroke="#c0356a" stroke-width="1.0" />
<line x1="500.2" y1="365.1" x2="505.2" y2="365.1" stroke="#c0356a" stroke-width="1.0" />
<line x1="509.0" y1="315.9" x2="509.0" y2="335.4" stroke="#c0356a" stroke-width="1.0" />
<line x1="506.5" y1="315.9" x2="511.5" y2="315.9" stroke="#c0356a" stroke-width="1.0" />
<line x1="506.5" y1="335.4" x2="511.5" y2="335.4" stroke="#c0356a" stroke-width="1.0" />
<line x1="515.4" y1="295.7" x2="515.4" y2="314.8" stroke="#c0356a" stroke-width="1.0" />
<line x1="512.9" y1="295.7" x2="517.9" y2="295.7" stroke="#c0356a" stroke-width="1.0" />
<line x1="512.9" y1="314.8" x2="517.9" y2="314.8" stroke="#c0356a" stroke-width="1.0" />
<line x1="521.7" y1="311.8" x2="521.7" y2="328.1" stroke="#c0356a" stroke-width="1.0" />
<line x1="519.2" y1="311.8" x2="524.2" y2="311.8" stroke="#c0356a" stroke-width="1.0" />
<line x1="519.2" y1="328.1" x2="524.2" y2="328.1" stroke="#c0356a" stroke-width="1.0" />
<line x1="528.1" y1="353.8" x2="528.1" y2="370.3" stroke="#c0356a" stroke-width="1.0" />
<line x1="525.6" y1="353.8" x2="530.6" y2="353.8" stroke="#c0356a" stroke-width="1.0" />
<line x1="525.6" y1="370.3" x2="530.6" y2="370.3" stroke="#c0356a" stroke-width="1.0" />
<line x1="534.4" y1="367.3" x2="534.4" y2="390.0" stroke="#c0356a" stroke-width="1.0" />
<line x1="531.9" y1="367.3" x2="536.9" y2="367.3" stroke="#c0356a" stroke-width="1.0" />
<line x1="531.9" y1="390.0" x2="536.9" y2="390.0" stroke="#c0356a" stroke-width="1.0" />
<line x1="540.8" y1="377.1" x2="540.8" y2="395.5" stroke="#c0356a" stroke-width="1.0" />
<line x1="538.2" y1="377.1" x2="543.2" y2="377.1" stroke="#c0356a" stroke-width="1.0" />
<line x1="538.2" y1="395.5" x2="543.2" y2="395.5" stroke="#c0356a" stroke-width="1.0" />
<line x1="547.1" y1="381.2" x2="547.1" y2="404.2" stroke="#c0356a" stroke-width="1.0" />
<line x1="544.6" y1="381.2" x2="549.6" y2="381.2" stroke="#c0356a" stroke-width="1.0" />
<line x1="544.6" y1="404.2" x2="549.6" y2="404.2" stroke="#c0356a" stroke-width="1.0" />
<line x1="553.5" y1="375.6" x2="553.5" y2="395.7" stroke="#c0356a" stroke-width="1.0" />
<line x1="551.0" y1="375.6" x2="556.0" y2="375.6" stroke="#c0356a" stroke-width="1.0" />
<line x1="551.0" y1="395.7" x2="556.0" y2="395.7" stroke="#c0356a" stroke-width="1.0" />
<line x1="559.8" y1="382.8" x2="559.8" y2="403.9" stroke="#c0356a" stroke-width="1.0" />
<line x1="557.3" y1="382.8" x2="562.3" y2="382.8" stroke="#c0356a" stroke-width="1.0" />
<line x1="557.3" y1="403.9" x2="562.3" y2="403.9" stroke="#c0356a" stroke-width="1.0" />
<line x1="566.1" y1="402.5" x2="566.1" y2="430.1" stroke="#c0356a" stroke-width="1.0" />
<line x1="563.6" y1="402.5" x2="568.6" y2="402.5" stroke="#c0356a" stroke-width="1.0" />
<line x1="563.6" y1="430.1" x2="568.6" y2="430.1" stroke="#c0356a" stroke-width="1.0" />
<line x1="572.5" y1="385.8" x2="572.5" y2="407.3" stroke="#c0356a" stroke-width="1.0" />
<line x1="570.0" y1="385.8" x2="575.0" y2="385.8" stroke="#c0356a" stroke-width="1.0" />
<line x1="570.0" y1="407.3" x2="575.0" y2="407.3" stroke="#c0356a" stroke-width="1.0" />
<line x1="578.9" y1="364.1" x2="578.9" y2="386.8" stroke="#c0356a" stroke-width="1.0" />
<line x1="576.4" y1="364.1" x2="581.4" y2="364.1" stroke="#c0356a" stroke-width="1.0" />
<line x1="576.4" y1="386.8" x2="581.4" y2="386.8" stroke="#c0356a" stroke-width="1.0" />
<line x1="585.2" y1="373.8" x2="585.2" y2="400.1" stroke="#c0356a" stroke-width="1.0" />
<line x1="582.7" y1="373.8" x2="587.7" y2="373.8" stroke="#c0356a" stroke-width="1.0" />
<line x1="582.7" y1="400.1" x2="587.7" y2="400.1" stroke="#c0356a" stroke-width="1.0" />
<line x1="591.6" y1="376.8" x2="591.6" y2="394.5" stroke="#c0356a" stroke-width="1.0" />
<line x1="589.1" y1="376.8" x2="594.1" y2="376.8" stroke="#c0356a" stroke-width="1.0" />
<line x1="589.1" y1="394.5" x2="594.1" y2="394.5" stroke="#c0356a" stroke-width="1.0" />
<line x1="597.9" y1="370.0" x2="597.9" y2="387.3" stroke="#c0356a" stroke-width="1.0" />
<line x1="595.4" y1="370.0" x2="600.4" y2="370.0" stroke="#c0356a" stroke-width="1.0" />
<line x1="595.4" y1="387.3" x2="600.4" y2="387.3" stroke="#c0356a" stroke-width="1.0" />
<line x1="604.2" y1="364.6" x2="604.2" y2="391.5" stroke="#c0356a" stroke-width="1.0" />
<line x1="601.8" y1="364.6" x2="606.8" y2="364.6" stroke="#c0356a" stroke-width="1.0" />
<line x1="601.8" y1="391.5" x2="606.8" y2="391.5" stroke="#c0356a" stroke-width="1.0" />
<line x1="610.6" y1="362.6" x2="610.6" y2="388.3" stroke="#c0356a" stroke-width="1.0" />
<line x1="608.1" y1="362.6" x2="613.1" y2="362.6" stroke="#c0356a" stroke-width="1.0" />
<line x1="608.1" y1="388.3" x2="613.1" y2="388.3" stroke="#c0356a" stroke-width="1.0" />
<line x1="617.0" y1="375.8" x2="617.0" y2="394.3" stroke="#c0356a" stroke-width="1.0" />
<line x1="614.5" y1="375.8" x2="619.5" y2="375.8" stroke="#c0356a" stroke-width="1.0" />
<line x1="614.5" y1="394.3" x2="619.5" y2="394.3" stroke="#c0356a" stroke-width="1.0" />
<line x1="623.3" y1="395.9" x2="623.3" y2="413.7" stroke="#c0356a" stroke-width="1.0" />
<line x1="620.8" y1="395.9" x2="625.8" y2="395.9" stroke="#c0356a" stroke-width="1.0" />
<line x1="620.8" y1="413.7" x2="625.8" y2="413.7" stroke="#c0356a" stroke-width="1.0" />
<line x1="629.7" y1="395.6" x2="629.7" y2="420.4" stroke="#c0356a" stroke-width="1.0" />
<line x1="627.2" y1="395.6" x2="632.2" y2="395.6" stroke="#c0356a" stroke-width="1.0" />
<line x1="627.2" y1="420.4" x2="632.2" y2="420.4" stroke="#c0356a" stroke-width="1.0" />
<line x1="636.0" y1="381.6" x2="636.0" y2="408.9" stroke="#c0356a" stroke-width="1.0" />
<line x1="633.5" y1="381.6" x2="638.5" y2="381.6" stroke="#c0356a" stroke-width="1.0" />
<line x1="633.5" y1="408.9" x2="638.5" y2="408.9" stroke="#c0356a" stroke-width="1.0" />
<line x1="642.4" y1="392.1" x2="642.4" y2="409.9" stroke="#c0356a" stroke-width="1.0" />
<line x1="639.9" y1="392.1" x2="644.9" y2="392.1" stroke="#c0356a" stroke-width="1.0" />
<line x1="639.9" y1="409.9" x2="644.9" y2="409.9" stroke="#c0356a" stroke-width="1.0" />
<line x1="648.7" y1="389.8" x2="648.7" y2="417.2" stroke="#c0356a" stroke-width="1.0" />
<line x1="646.2" y1="389.8" x2="651.2" y2="389.8" stroke="#c0356a" stroke-width="1.0" />
<line x1="646.2" y1="417.2" x2="651.2" y2="417.2" stroke="#c0356a" stroke-width="1.0" />
<line x1="655.0" y1="394.1" x2="655.0" y2="420.6" stroke="#c0356a" stroke-width="1.0" />
<line x1="652.5" y1="394.1" x2="657.5" y2="394.1" stroke="#c0356a" stroke-width="1.0" />
<line x1="652.5" y1="420.6" x2="657.5" y2="420.6" stroke="#c0356a" stroke-width="1.0" />
<line x1="661.4" y1="404.8" x2="661.4" y2="427.8" stroke="#c0356a" stroke-width="1.0" />
<line x1="658.9" y1="404.8" x2="663.9" y2="404.8" stroke="#c0356a" stroke-width="1.0" />
<line x1="658.9" y1="427.8" x2="663.9" y2="427.8" stroke="#c0356a" stroke-width="1.0" />
<line x1="667.8" y1="411.7" x2="667.8" y2="432.4" stroke="#c0356a" stroke-width="1.0" />
<line x1="665.2" y1="411.7" x2="670.2" y2="411.7" stroke="#c0356a" stroke-width="1.0" />
<line x1="665.2" y1="432.4" x2="670.2" y2="432.4" stroke="#c0356a" stroke-width="1.0" />
<line x1="674.1" y1="399.7" x2="674.1" y2="416.3" stroke="#c0356a" stroke-width="1.0" />
<line x1="671.6" y1="399.7" x2="676.6" y2="399.7" stroke="#c0356a" stroke-width="1.0" />
<line x1="671.6" y1="416.3" x2="676.6" y2="416.3" stroke="#c0356a" stroke-width="1.0" />
<polyline points="426.5,424.6 432.8,427.1 439.2,415.0 445.5,399.7 451.9,412.1 458.2,420.1 464.6,412.5 470.9,409.9 477.2,406.7 483.6,403.5 490.0,397.2 496.3,383.1 502.7,352.5 509.0,325.7 515.4,305.3 521.7,320.0 528.1,362.1 534.4,378.6 540.8,386.3 547.1,392.7 553.5,385.7 559.8,393.3 566.1,416.3 572.5,396.5 578.9,375.5 585.2,386.9 591.6,385.7 597.9,378.6 604.2,378.0 610.6,375.5 617.0,385.0 623.3,404.8 629.7,408.0 636.0,395.2 642.4,401.0 648.7,403.5 655.0,407.4 661.4,416.3 667.8,422.0 674.1,408.0" fill="none" stroke="#c0356a" stroke-width="2.2" stroke-linejoin="round" />
<rect x="421.0" y="285.5" width="29.7" height="38.3" fill="url(#insD2)" />
<path d="M436,285.5 L450.7,285.5 L450.7,303 Q449,292 436,285.5 Z" fill="#1a1a1a" stroke="none" stroke-width="1" />
<circle cx="428.3" cy="322.2" r="0.6" fill="#3a3a36" opacity="0.7"/>
<circle cx="441.7" cy="303.8" r="0.7" fill="#3a3a36" opacity="0.7"/>
<circle cx="450.0" cy="306.4" r="1.0" fill="#3a3a36" opacity="0.7"/>
<circle cx="434.9" cy="311.5" r="0.9" fill="#3a3a36" opacity="0.7"/>
<circle cx="427.4" cy="319.4" r="0.6" fill="#3a3a36" opacity="0.7"/>
<circle cx="428.6" cy="302.4" r="0.7" fill="#3a3a36" opacity="0.7"/>
<circle cx="433.4" cy="320.9" r="0.8" fill="#3a3a36" opacity="0.7"/>
<circle cx="425.2" cy="307.4" r="1.3" fill="#3a3a36" opacity="0.7"/>
<circle cx="423.8" cy="315.0" r="0.8" fill="#3a3a36" opacity="0.7"/>
<circle cx="440.5" cy="309.1" r="1.1" fill="#3a3a36" opacity="0.7"/>
<circle cx="435.9" cy="315.6" r="1.2" fill="#3a3a36" opacity="0.7"/>
<circle cx="438.3" cy="305.0" r="0.6" fill="#3a3a36" opacity="0.7"/>
<circle cx="448.5" cy="312.3" r="0.7" fill="#3a3a36" opacity="0.7"/>
<circle cx="448.5" cy="314.2" r="1.1" fill="#3a3a36" opacity="0.7"/>
<circle cx="446.7" cy="308.0" r="0.8" fill="#3a3a36" opacity="0.7"/>
<circle cx="446.6" cy="304.8" r="1.1" fill="#3a3a36" opacity="0.7"/>
<circle cx="424.7" cy="316.5" r="1.1" fill="#3a3a36" opacity="0.7"/>
<circle cx="448.6" cy="319.7" r="0.9" fill="#3a3a36" opacity="0.7"/>
<circle cx="427.5" cy="305.2" r="0.9" fill="#3a3a36" opacity="0.7"/>
<circle cx="436.3" cy="303.5" r="1.2" fill="#3a3a36" opacity="0.7"/>
<circle cx="436.2" cy="316.7" r="0.7" fill="#3a3a36" opacity="0.7"/>
<circle cx="428.8" cy="302.3" r="0.8" fill="#3a3a36" opacity="0.7"/>
<circle cx="429.5" cy="310.9" r="0.8" fill="#3a3a36" opacity="0.7"/>
<circle cx="445.4" cy="320.7" r="0.6" fill="#3a3a36" opacity="0.7"/>
<circle cx="433.1" cy="305.5" r="1.0" fill="#3a3a36" opacity="0.7"/>
<circle cx="449.3" cy="306.2" r="1.1" fill="#3a3a36" opacity="0.7"/>
<circle cx="430.4" cy="302.3" r="1.1" fill="#3a3a36" opacity="0.7"/>
<circle cx="431.6" cy="305.6" r="0.8" fill="#3a3a36" opacity="0.7"/>
<circle cx="428.5" cy="310.6" r="0.9" fill="#3a3a36" opacity="0.7"/>
<circle cx="433.7" cy="314.4" r="0.7" fill="#3a3a36" opacity="0.7"/>
<circle cx="424.7" cy="303.8" r="0.6" fill="#3a3a36" opacity="0.7"/>
<circle cx="436.6" cy="309.6" r="1.1" fill="#3a3a36" opacity="0.7"/>
<circle cx="436.1" cy="316.9" r="1.3" fill="#3a3a36" opacity="0.7"/>
<circle cx="423.8" cy="302.4" r="0.6" fill="#3a3a36" opacity="0.7"/>
<circle cx="432.8" cy="314.0" r="1.1" fill="#3a3a36" opacity="0.7"/>
<circle cx="431.8" cy="322.3" r="0.5" fill="#3a3a36" opacity="0.7"/>
<circle cx="445.4" cy="306.4" r="1.2" fill="#3a3a36" opacity="0.7"/>
<circle cx="422.9" cy="322.3" r="1.1" fill="#3a3a36" opacity="0.7"/>
<circle cx="449.7" cy="314.2" r="0.6" fill="#3a3a36" opacity="0.7"/>
<circle cx="449.2" cy="311.3" r="0.6" fill="#3a3a36" opacity="0.7"/>
<circle cx="439.0" cy="312.4" r="0.9" fill="#3a3a36" opacity="0.7"/>
<circle cx="426.3" cy="304.6" r="1.0" fill="#3a3a36" opacity="0.7"/>
<circle cx="434.7" cy="304.7" r="0.9" fill="#3a3a36" opacity="0.7"/>
<circle cx="442.3" cy="317.0" r="0.9" fill="#3a3a36" opacity="0.7"/>
<circle cx="433.0" cy="309.6" r="0.7" fill="#3a3a36" opacity="0.7"/>
<ellipse cx="428.3" cy="308.9" rx="2.3" ry="3.0" fill="none" stroke="#f0f0e8" stroke-width="0.6" opacity="0.8"/>
<ellipse cx="439.6" cy="312.2" rx="2.1" ry="2.2" fill="none" stroke="#f0f0e8" stroke-width="0.6" opacity="0.8"/>
<ellipse cx="433.5" cy="301.9" rx="4.9" ry="3.0" fill="none" stroke="#f0f0e8" stroke-width="0.6" opacity="0.8"/>
<ellipse cx="435.1" cy="314.1" rx="2.6" ry="2.0" fill="none" stroke="#f0f0e8" stroke-width="0.6" opacity="0.8"/>
<ellipse cx="435.6" cy="314.9" rx="3.9" ry="1.5" fill="none" stroke="#f0f0e8" stroke-width="0.6" opacity="0.8"/>
<ellipse cx="437.5" cy="318.2" rx="4.2" ry="3.4" fill="none" stroke="#f0f0e8" stroke-width="0.6" opacity="0.8"/>
<ellipse cx="445.6" cy="304.5" rx="2.9" ry="2.6" fill="none" stroke="#f0f0e8" stroke-width="0.6" opacity="0.8"/>
<ellipse cx="445.5" cy="307.4" rx="4.8" ry="3.2" fill="none" stroke="#f0f0e8" stroke-width="0.6" opacity="0.8"/>
<ellipse cx="435.4" cy="312.5" rx="4.9" ry="3.1" fill="none" stroke="#f0f0e8" stroke-width="0.6" opacity="0.8"/>
<ellipse cx="430.5" cy="316.9" rx="2.6" ry="2.2" fill="none" stroke="#f0f0e8" stroke-width="0.6" opacity="0.8"/>
<path d="M447,304 L442,323 M450,312 L446,323" fill="none" stroke="#333" stroke-width="0.8" />
<g transform="translate(438.5,293.5) rotate(32)"><rect x="-6.5" y="-5" width="13" height="10" fill="#f0b0c8" opacity="0.7"/><rect x="-5" y="-4" width="10" height="8" fill="#d42a6a"/></g>
<line x1="580.2" y1="292.8" x2="602.6" y2="292.8" stroke="#c0356a" stroke-width="2.2" />
<text x="608.3" y="297.4" font-size="12.9" fill="#2a2a2a" text-anchor="start" font-weight="normal" font-style="normal" >DIANA</text>
<line x1="580.2" y1="308.7" x2="602.6" y2="308.7" stroke="#262626" stroke-width="2.2" />
<text x="608.3" y="313.3" font-size="12.9" fill="#2a2a2a" text-anchor="start" font-weight="normal" font-style="normal" >Control</text>
<line x1="580.2" y1="324.6" x2="602.6" y2="324.6" stroke="#a2a2a2" stroke-width="2.2" />
<text x="608.3" y="329.2" font-size="12.9" fill="#2a2a2a" text-anchor="start" font-weight="normal" font-style="normal" >Postmortem</text>
<text x="0" y="0" font-size="16.8" fill="#1a1a1a" font-weight="bold" transform="translate(710.0,278.8) scale(0.763,1)">E</text>
<line x1="752.4" y1="284.8" x2="752.4" y2="477.2" stroke="#1e1e1e" stroke-width="1.2" />
<line x1="752.4" y1="477.2" x2="858.7" y2="477.2" stroke="#1e1e1e" stroke-width="1.2" />
<line x1="747.5" y1="284.9" x2="752.4" y2="284.9" stroke="#1e1e1e" stroke-width="1.2" />
<text x="745.0" y="289.6" font-size="13" fill="#2a2a2a" text-anchor="end" font-weight="normal" font-style="normal" >0.2</text>
<line x1="747.5" y1="349.0" x2="752.4" y2="349.0" stroke="#1e1e1e" stroke-width="1.2" />
<text x="745.0" y="353.7" font-size="13" fill="#2a2a2a" text-anchor="end" font-weight="normal" font-style="normal" >0.1</text>
<line x1="747.5" y1="413.1" x2="752.4" y2="413.1" stroke="#1e1e1e" stroke-width="1.2" />
<text x="745.0" y="417.8" font-size="13" fill="#2a2a2a" text-anchor="end" font-weight="normal" font-style="normal" >0.0</text>
<line x1="747.5" y1="477.2" x2="752.4" y2="477.2" stroke="#1e1e1e" stroke-width="1.2" />
<text x="745.0" y="481.9" font-size="13" fill="#2a2a2a" text-anchor="end" font-weight="normal" font-style="normal" >-0.1</text>
<line x1="749.5" y1="317.0" x2="752.4" y2="317.0" stroke="#1e1e1e" stroke-width="1" />
<line x1="749.5" y1="381.1" x2="752.4" y2="381.1" stroke="#1e1e1e" stroke-width="1" />
<line x1="749.5" y1="445.2" x2="752.4" y2="445.2" stroke="#1e1e1e" stroke-width="1" />
<line x1="769.3" y1="477.2" x2="769.3" y2="481.5" stroke="#1e1e1e" stroke-width="1.2" />
<line x1="805.5" y1="477.2" x2="805.5" y2="481.5" stroke="#1e1e1e" stroke-width="1.2" />
<line x1="840.5" y1="477.2" x2="840.5" y2="481.5" stroke="#1e1e1e" stroke-width="1.2" />
<text x="0.0" y="0.0" font-size="13.2" fill="#2a2a2a" text-anchor="middle" font-weight="normal" font-style="normal" transform="translate(719,379) rotate(-90)">Percent change (%)</text>
<rect x="757.5" y="384.3" width="25.2" height="28.8" fill="#c2286a" stroke="#3a1a2a" stroke-width="0.8"/>
<line x1="792.9" y1="411.2" x2="817.7" y2="411.2" stroke="#1e1e1e" stroke-width="1.6" />
<line x1="827.7" y1="413.7" x2="852.7" y2="413.7" stroke="#1e1e1e" stroke-width="1.6" />
<line x1="752.4" y1="413.1" x2="858.7" y2="413.1" stroke="#1e1e1e" stroke-width="1.2" />
<line x1="769.8" y1="379.1" x2="769.8" y2="389.4" stroke="#1e1e1e" stroke-width="1.2" />
<line x1="762.8" y1="379.1" x2="776.8" y2="379.1" stroke="#1e1e1e" stroke-width="1.2" />
<line x1="762.8" y1="389.4" x2="776.8" y2="389.4" stroke="#1e1e1e" stroke-width="1.2" />
<line x1="805.3" y1="408.6" x2="805.3" y2="413.7" stroke="#1e1e1e" stroke-width="1.2" />
<line x1="798.3" y1="408.6" x2="812.3" y2="408.6" stroke="#1e1e1e" stroke-width="1.2" />
<line x1="798.3" y1="413.7" x2="812.3" y2="413.7" stroke="#1e1e1e" stroke-width="1.2" />
<line x1="840.2" y1="410.5" x2="840.2" y2="416.9" stroke="#1e1e1e" stroke-width="1.2" />
<line x1="833.2" y1="410.5" x2="847.2" y2="410.5" stroke="#1e1e1e" stroke-width="1.2" />
<line x1="833.2" y1="416.9" x2="847.2" y2="416.9" stroke="#1e1e1e" stroke-width="1.2" />
<circle cx="765.6" cy="304.8" r="1.75" fill="#1e1e1e"/>
<circle cx="771.4" cy="319.5" r="1.75" fill="#1e1e1e"/>
<circle cx="772.7" cy="325.3" r="1.75" fill="#1e1e1e"/>
<circle cx="773.2" cy="352.2" r="1.75" fill="#1e1e1e"/>
<circle cx="774.9" cy="361.8" r="1.75" fill="#1e1e1e"/>
<circle cx="772.6" cy="374.6" r="1.75" fill="#1e1e1e"/>
<circle cx="774.6" cy="376.6" r="1.75" fill="#1e1e1e"/>
<circle cx="764.8" cy="377.8" r="1.75" fill="#1e1e1e"/>
<circle cx="769.6" cy="381.1" r="1.75" fill="#1e1e1e"/>
<circle cx="774.9" cy="384.3" r="1.75" fill="#1e1e1e"/>
<circle cx="771.6" cy="387.5" r="1.75" fill="#1e1e1e"/>
<circle cx="774.4" cy="390.7" r="1.75" fill="#1e1e1e"/>
<circle cx="765.7" cy="393.9" r="1.75" fill="#1e1e1e"/>
<circle cx="769.7" cy="395.2" r="1.75" fill="#1e1e1e"/>
<circle cx="767.2" cy="397.1" r="1.75" fill="#1e1e1e"/>
<circle cx="770.5" cy="399.0" r="1.75" fill="#1e1e1e"/>
<circle cx="770.8" cy="400.3" r="1.75" fill="#1e1e1e"/>
<circle cx="764.6" cy="401.6" r="1.75" fill="#1e1e1e"/>
<circle cx="766.9" cy="403.5" r="1.75" fill="#1e1e1e"/>
<circle cx="767.6" cy="405.4" r="1.75" fill="#1e1e1e"/>
<circle cx="774.6" cy="406.7" r="1.75" fill="#1e1e1e"/>
<circle cx="772.9" cy="418.2" r="1.75" fill="#1e1e1e"/>
<circle cx="766.3" cy="419.5" r="1.75" fill="#1e1e1e"/>
<circle cx="773.3" cy="420.8" r="1.75" fill="#1e1e1e"/>
<circle cx="766.0" cy="422.7" r="1.75" fill="#1e1e1e"/>
<circle cx="806.9" cy="393.9" r="1.75" fill="#1e1e1e"/>
<circle cx="801.0" cy="394.5" r="1.75" fill="#1e1e1e"/>
<circle cx="799.5" cy="395.2" r="1.75" fill="#1e1e1e"/>
<circle cx="810.0" cy="395.8" r="1.75" fill="#1e1e1e"/>
<circle cx="802.0" cy="396.4" r="1.75" fill="#1e1e1e"/>
<circle cx="802.1" cy="400.3" r="1.75" fill="#1e1e1e"/>
<circle cx="811.3" cy="401.6" r="1.75" fill="#1e1e1e"/>
<circle cx="810.0" cy="403.5" r="1.75" fill="#1e1e1e"/>
<circle cx="803.0" cy="405.4" r="1.75" fill="#1e1e1e"/>
<circle cx="811.0" cy="406.7" r="1.75" fill="#1e1e1e"/>
<circle cx="806.0" cy="408.0" r="1.75" fill="#1e1e1e"/>
<circle cx="807.6" cy="409.9" r="1.75" fill="#1e1e1e"/>
<circle cx="802.0" cy="413.1" r="1.75" fill="#1e1e1e"/>
<circle cx="810.8" cy="414.4" r="1.75" fill="#1e1e1e"/>
<circle cx="807.8" cy="416.3" r="1.75" fill="#1e1e1e"/>
<circle cx="811.1" cy="418.2" r="1.75" fill="#1e1e1e"/>
<circle cx="810.2" cy="419.5" r="1.75" fill="#1e1e1e"/>
<circle cx="803.1" cy="420.8" r="1.75" fill="#1e1e1e"/>
<circle cx="803.8" cy="422.7" r="1.75" fill="#1e1e1e"/>
<circle cx="801.5" cy="425.9" r="1.75" fill="#1e1e1e"/>
<circle cx="801.2" cy="427.2" r="1.75" fill="#1e1e1e"/>
<circle cx="800.3" cy="429.1" r="1.75" fill="#1e1e1e"/>
<circle cx="803.1" cy="431.0" r="1.75" fill="#1e1e1e"/>
<circle cx="806.7" cy="432.3" r="1.75" fill="#1e1e1e"/>
<circle cx="834.5" cy="384.3" r="1.75" fill="#1e1e1e"/>
<circle cx="842.6" cy="387.5" r="1.75" fill="#1e1e1e"/>
<circle cx="838.6" cy="390.0" r="1.75" fill="#1e1e1e"/>
<circle cx="838.2" cy="393.9" r="1.75" fill="#1e1e1e"/>
<circle cx="844.3" cy="397.1" r="1.75" fill="#1e1e1e"/>
<circle cx="840.3" cy="399.0" r="1.75" fill="#1e1e1e"/>
<circle cx="838.3" cy="400.3" r="1.75" fill="#1e1e1e"/>
<circle cx="840.3" cy="401.6" r="1.75" fill="#1e1e1e"/>
<circle cx="843.0" cy="409.9" r="1.75" fill="#1e1e1e"/>
<circle cx="835.2" cy="411.8" r="1.75" fill="#1e1e1e"/>
<circle cx="846.2" cy="414.4" r="1.75" fill="#1e1e1e"/>
<circle cx="834.8" cy="416.3" r="1.75" fill="#1e1e1e"/>
<circle cx="843.5" cy="419.5" r="1.75" fill="#1e1e1e"/>
<circle cx="844.6" cy="422.7" r="1.75" fill="#1e1e1e"/>
<circle cx="834.7" cy="425.9" r="1.75" fill="#1e1e1e"/>
<circle cx="844.0" cy="427.2" r="1.75" fill="#1e1e1e"/>
<circle cx="838.9" cy="429.1" r="1.75" fill="#1e1e1e"/>
<circle cx="841.4" cy="432.3" r="1.75" fill="#1e1e1e"/>
<circle cx="834.6" cy="433.6" r="1.75" fill="#1e1e1e"/>
<circle cx="835.1" cy="435.5" r="1.75" fill="#1e1e1e"/>
<circle cx="836.7" cy="437.5" r="1.75" fill="#1e1e1e"/>
<circle cx="846.0" cy="438.7" r="1.75" fill="#1e1e1e"/>
<circle cx="836.9" cy="441.9" r="1.75" fill="#1e1e1e"/>
<line x1="769.3" y1="288.6" x2="803.8" y2="288.6" stroke="#1e1e1e" stroke-width="1.1" />
<text x="786.6" y="288.5" font-size="14.5" fill="#2a2a2a" text-anchor="middle" font-weight="normal" font-style="normal" >****</text>
<line x1="769.3" y1="308.4" x2="840.8" y2="308.4" stroke="#1e1e1e" stroke-width="1.1" />
<text x="803.2" y="307.5" font-size="14.5" fill="#2a2a2a" text-anchor="middle" font-weight="normal" font-style="normal" >****</text>
<line x1="803.2" y1="328.3" x2="840.8" y2="328.3" stroke="#1e1e1e" stroke-width="1.1" />
<text x="822.0" y="325.0" font-size="12.5" fill="#2a2a2a" text-anchor="middle" font-weight="normal" font-style="normal" >n.s.</text>
<text x="0.0" y="0.0" font-size="12.6" fill="#c8407a" text-anchor="end" font-weight="normal" font-style="normal" transform="translate(785,489) rotate(-32)">DIANA</text>
<text x="0.0" y="0.0" font-size="12.6" fill="#1e1e1e" text-anchor="end" font-weight="normal" font-style="normal" transform="translate(819,487.5) rotate(-32)">Control</text>
<text x="0.0" y="0.0" font-size="12.6" fill="#a0a0a0" text-anchor="end" font-weight="normal" font-style="normal" transform="translate(855,484) rotate(-32)">Post-</text>
<text x="0.0" y="0.0" font-size="12.6" fill="#a0a0a0" text-anchor="end" font-weight="normal" font-style="normal" transform="translate(864,492) rotate(-32)">mortem</text>
<text x="0" y="0" font-size="16.1" fill="#1a1a1a" font-weight="bold" transform="translate(884.5,279.1) scale(0.766,1)">F</text>
<line x1="922.7" y1="285.1" x2="922.7" y2="476.5" stroke="#1e1e1e" stroke-width="1.2" />
<line x1="922.7" y1="476.5" x2="975.6" y2="476.5" stroke="#1e1e1e" stroke-width="1.2" />
<line x1="918.0" y1="476.5" x2="922.7" y2="476.5" stroke="#1e1e1e" stroke-width="1.2" />
<text x="917.0" y="481.2" font-size="13" fill="#2a2a2a" text-anchor="end" font-weight="normal" font-style="normal" >0</text>
<line x1="918.0" y1="438.2" x2="922.7" y2="438.2" stroke="#1e1e1e" stroke-width="1.2" />
<text x="917.0" y="442.9" font-size="13" fill="#2a2a2a" text-anchor="end" font-weight="normal" font-style="normal" >10</text>
<line x1="918.0" y1="399.9" x2="922.7" y2="399.9" stroke="#1e1e1e" stroke-width="1.2" />
<text x="917.0" y="404.6" font-size="13" fill="#2a2a2a" text-anchor="end" font-weight="normal" font-style="normal" >20</text>
<line x1="918.0" y1="361.7" x2="922.7" y2="361.7" stroke="#1e1e1e" stroke-width="1.2" />
<text x="917.0" y="366.4" font-size="13" fill="#2a2a2a" text-anchor="end" font-weight="normal" font-style="normal" >30</text>
<line x1="918.0" y1="323.4" x2="922.7" y2="323.4" stroke="#1e1e1e" stroke-width="1.2" />
<text x="917.0" y="328.1" font-size="13" fill="#2a2a2a" text-anchor="end" font-weight="normal" font-style="normal" >40</text>
<line x1="918.0" y1="285.1" x2="922.7" y2="285.1" stroke="#1e1e1e" stroke-width="1.2" />
<text x="917.0" y="289.8" font-size="13" fill="#2a2a2a" text-anchor="end" font-weight="normal" font-style="normal" >50</text>
<rect x="935.5" y="380.8" width="28.5" height="95.7" fill="#c2286a" stroke="#3a1a2a" stroke-width="0.8"/>
<line x1="949.6" y1="380.8" x2="949.6" y2="375.4" stroke="#1e1e1e" stroke-width="1.2" />
<line x1="941.0" y1="375.4" x2="957.2" y2="375.4" stroke="#1e1e1e" stroke-width="1.2" />
<line x1="949.6" y1="476.5" x2="949.6" y2="480.5" stroke="#1e1e1e" stroke-width="1.2" />
<circle cx="949.6" cy="361.7" r="1.6" fill="#1e1e1e"/>
<circle cx="949.6" cy="399.9" r="1.6" fill="#1e1e1e"/>
<circle cx="937.5" cy="380.8" r="1.6" fill="#1e1e1e"/>
<circle cx="960.0" cy="380.8" r="1.6" fill="#1e1e1e"/>
<text x="0.0" y="0.0" font-size="11.5" fill="#ffffff" text-anchor="middle" font-weight="normal" font-style="normal" transform="translate(954,455.7) rotate(-90)">5 mice</text>
<text x="0.0" y="0.0" font-size="13" fill="#2a2a2a" text-anchor="middle" font-weight="normal" font-style="normal" transform="translate(891.5,381.5) rotate(-90)">Peak latency (ms)</text>
<text x="950.0" y="500.0" font-size="12.5" fill="#c8407a" text-anchor="middle" font-weight="normal" font-style="normal" >DIANA</text>
<text x="0" y="0" font-size="16.1" fill="#1a1a1a" font-weight="bold" transform="translate(13.4,550.9) scale(0.878,1)">G</text>
<path d="M47,668 Q36,674 30,681 Q28,688 34,690 Q44,691 55,679 Z" fill="url(#earG)" stroke="#666" stroke-width="0.7" />
<path d="M147.5,668 Q158,674 162,680 Q164,688 158,691 Q147,691 138,681 Z" fill="url(#earG2)" stroke="#666" stroke-width="0.7" />
<path d="M96,564.5 Q88,566 84,574 Q78,590 69,603 Q57,618 51,634 Q46,652 46.5,669 Q50,684 97,688 Q144,684 147.7,669 Q147,652 142,637 Q136,621 125,604 Q116,590 110,575 Q104,566 96,564.5 Z" fill="url(#headG)" stroke="none" stroke-width="0" />
<path d="M95.5,604 Q90,602 86,604.4 Q78,612 74.4,621 Q66,634 62.8,644 Q59,652 59.5,657 Q59,666 61.2,670.3 Q65,676 72.7,678.5 Q80,681 86,680.2 Q92,679 95.5,676.5 Z" fill="url(#brainG)" stroke="#2a2a2a" stroke-width="0.9" />
<path d="M95.5,604 Q101,602 105.7,604.4 Q112,612 115.5,621 Q124,634 127.1,644 Q131,652 131.2,657 Q131,666 129.5,670.3 Q125,676 117.2,678.5 Q110,681 103.2,680.2 Q98,679 95.5,676.5 Z" fill="url(#brainG)" stroke="#2a2a2a" stroke-width="0.9" />
<path d="M84,614 Q95,603 107,614" fill="none" stroke="#6a4a3a" stroke-width="0.6" />
<path d="M77.7,608 l-1,6 M113.9,608 l1,6" fill="none" stroke="#222" stroke-width="1.6" />
<circle cx="96" cy="569" r="5.6" fill="#f0d4e0" stroke="#777" stroke-width="0.8"/>
<circle cx="86" cy="580" r="2.5" fill="#4a4a4a" opacity="0.6"/><circle cx="105.5" cy="581" r="2.5" fill="#4a4a4a" opacity="0.6"/>
<path d="M54,558.5 L66,566 L64,561.5 L77,573 L78,576.5 L68,570 L70,574.5 L57,566 Z" fill="#b82020" stroke="none" stroke-width="1" />
<path d="M64.5,578 Q71,575 77,576" fill="none" stroke="#b04848" stroke-width="0.8" />
<g transform="translate(82,578.5) rotate(20)"><rect x="-3.8" y="-6" width="7.6" height="12" fill="#3a9a40" stroke="#1e4a20" stroke-width="0.7"/></g>
<path d="M85,580 Q92,600 100.5,636" fill="none" stroke="#4a2a20" stroke-width="0.7" />
<path d="M97.5,632.5 L100.7,636.5 L101,631.5" fill="none" stroke="#4a2a20" stroke-width="0.9" />
<circle cx="117.3" cy="655.8" r="1.2" fill="#1a1a1a" stroke="#555" stroke-width="0.3"/>
<circle cx="111.9" cy="645.3" r="1.2" fill="#1a1a1a" stroke="#555" stroke-width="0.3"/>
<circle cx="115.9" cy="657.1" r="1.2" fill="#1a1a1a" stroke="#555" stroke-width="0.3"/>
<circle cx="116.3" cy="644.0" r="1.2" fill="#1a1a1a" stroke="#555" stroke-width="0.3"/>
<circle cx="111.7" cy="649.6" r="1.2" fill="#1a1a1a" stroke="#555" stroke-width="0.3"/>
<circle cx="118.5" cy="649.8" r="1.2" fill="#1a1a1a" stroke="#555" stroke-width="0.3"/>
<circle cx="113.3" cy="648.6" r="1.2" fill="#1a1a1a" stroke="#555" stroke-width="0.3"/>
<circle cx="115.5" cy="645.8" r="1.2" fill="#1a1a1a" stroke="#555" stroke-width="0.3"/>
<circle cx="114.8" cy="651.4" r="1.2" fill="#1a1a1a" stroke="#555" stroke-width="0.3"/>
<circle cx="120.0" cy="649.6" r="1.2" fill="#1a1a1a" stroke="#555" stroke-width="0.3"/>
<circle cx="118.1" cy="645.0" r="1.2" fill="#1a1a1a" stroke="#555" stroke-width="0.3"/>
<circle cx="118.2" cy="650.7" r="1.2" fill="#1a1a1a" stroke="#555" stroke-width="0.3"/>
<circle cx="112.6" cy="649.7" r="1.2" fill="#1a1a1a" stroke="#555" stroke-width="0.3"/>
<circle cx="118.3" cy="648.2" r="1.2" fill="#1a1a1a" stroke="#555" stroke-width="0.3"/>
<circle cx="117.9" cy="656.1" r="1.2" fill="#1a1a1a" stroke="#555" stroke-width="0.3"/>
<circle cx="118.9" cy="655.5" r="1.2" fill="#1a1a1a" stroke="#555" stroke-width="0.3"/>
<circle cx="110.3" cy="651.5" r="1.2" fill="#1a1a1a" stroke="#555" stroke-width="0.3"/>
<circle cx="112.3" cy="654.6" r="1.2" fill="#1a1a1a" stroke="#555" stroke-width="0.3"/>
<circle cx="115.2" cy="651.2" r="1.2" fill="#1a1a1a" stroke="#555" stroke-width="0.3"/>
<circle cx="116.7" cy="646.6" r="1.2" fill="#1a1a1a" stroke="#555" stroke-width="0.3"/>
<circle cx="115.2" cy="645.9" r="1.2" fill="#1a1a1a" stroke="#555" stroke-width="0.3"/>
<circle cx="120.4" cy="648.1" r="1.2" fill="#1a1a1a" stroke="#555" stroke-width="0.3"/>
<circle cx="114.9" cy="642.3" r="1.2" fill="#1a1a1a" stroke="#555" stroke-width="0.3"/>
<circle cx="110.1" cy="646.2" r="1.2" fill="#1a1a1a" stroke="#555" stroke-width="0.3"/>
<circle cx="117.8" cy="653.8" r="1.2" fill="#1a1a1a" stroke="#555" stroke-width="0.3"/>
<circle cx="116.0" cy="646.3" r="1.2" fill="#1a1a1a" stroke="#555" stroke-width="0.3"/>
<circle cx="119.9" cy="646.0" r="1.2" fill="#1a1a1a" stroke="#555" stroke-width="0.3"/>
<circle cx="111.5" cy="652.5" r="1.2" fill="#1a1a1a" stroke="#555" stroke-width="0.3"/>
<circle cx="111.0" cy="651.3" r="1.2" fill="#1a1a1a" stroke="#555" stroke-width="0.3"/>
<circle cx="118.6" cy="649.5" r="1.2" fill="#1a1a1a" stroke="#555" stroke-width="0.3"/>
<circle cx="116.6" cy="650.1" r="1.2" fill="#1a1a1a" stroke="#555" stroke-width="0.3"/>
<circle cx="113.5" cy="641.4" r="1.2" fill="#1a1a1a" stroke="#555" stroke-width="0.3"/>
<circle cx="110.4" cy="649.8" r="1.2" fill="#1a1a1a" stroke="#555" stroke-width="0.3"/>
<circle cx="109.6" cy="647.4" r="1.2" fill="#1a1a1a" stroke="#555" stroke-width="0.3"/>
<circle cx="115.5" cy="656.2" r="1.2" fill="#1a1a1a" stroke="#555" stroke-width="0.3"/>
<circle cx="110.1" cy="647.4" r="1.2" fill="#1a1a1a" stroke="#555" stroke-width="0.3"/>
<circle cx="115.8" cy="652.9" r="1.2" fill="#1a1a1a" stroke="#555" stroke-width="0.3"/>
<circle cx="111.2" cy="656.4" r="1.2" fill="#1a1a1a" stroke="#555" stroke-width="0.3"/>
<circle cx="112.0" cy="655.1" r="1.2" fill="#1a1a1a" stroke="#555" stroke-width="0.3"/>
<circle cx="114.0" cy="652.3" r="1.2" fill="#1a1a1a" stroke="#555" stroke-width="0.3"/>
<circle cx="119.8" cy="652.8" r="1.2" fill="#1a1a1a" stroke="#555" stroke-width="0.3"/>
<circle cx="115.3" cy="644.6" r="1.2" fill="#1a1a1a" stroke="#555" stroke-width="0.3"/>
<circle cx="112.6" cy="643.3" r="1.2" fill="#1a1a1a" stroke="#555" stroke-width="0.3"/>
<circle cx="119.6" cy="644.8" r="1.2" fill="#1a1a1a" stroke="#555" stroke-width="0.3"/>
<circle cx="109.6" cy="654.4" r="1.2" fill="#1a1a1a" stroke="#555" stroke-width="0.3"/>
<circle cx="119.3" cy="648.1" r="1.2" fill="#1a1a1a" stroke="#555" stroke-width="0.3"/>
<line x1="141.1" y1="617.6" x2="124.0" y2="638.0" stroke="#1a1a1a" stroke-width="1.3" />
<g transform="translate(121.3,642.3) rotate(40)"><rect x="-2.8" y="-5" width="5.6" height="10" fill="#3a9a40" stroke="#1e4a20" stroke-width="0.6"/></g>
<text x="98.5" y="672.5" font-size="11.8" fill="#c8407a" text-anchor="start" font-weight="normal" font-style="normal" >S1BF</text>
<text x="112.8" y="559.6" font-size="11.1" fill="#2a2a2a" text-anchor="start" font-weight="normal" font-style="normal" >Trimmed</text>
<text x="115.3" y="572.8" font-size="11.1" fill="#2a2a2a" text-anchor="start" font-weight="normal" font-style="normal" >whisker</text>
<text x="15.4" y="582.0" font-size="11" fill="#2a2a2a" text-anchor="start" font-weight="normal" font-style="normal" >Electrical</text>
<text x="12.8" y="595.0" font-size="11" fill="#2a2a2a" text-anchor="start" font-weight="normal" font-style="normal" >stimulation</text>
<text x="133.9" y="591.5" font-size="11" fill="#2a2a2a" text-anchor="start" font-weight="normal" font-style="italic" >In vivo</text>
<text x="126.6" y="605.7" font-size="10.9" fill="#2a2a2a" text-anchor="start" font-weight="normal" font-style="normal" >recording</text>
<rect x="29.2" y="714.1" width="131.9" height="122.6" fill="url(#diG)" />
<ellipse cx="75" cy="805" rx="34" ry="26" fill="#4a1616" opacity="0.3"/>
<ellipse cx="128" cy="800" rx="24" ry="30" fill="#4a1616" opacity="0.3"/>
<ellipse cx="70" cy="735" rx="30" ry="14" fill="#4a1616" opacity="0.35"/>
<path d="M50.7,715.4 Q80,713 106.5,725.5" fill="none" stroke="#c03030" stroke-width="1.6" opacity="0.5"/>
<path d="M150,770 Q158,782 162,778" fill="none" stroke="#a03040" stroke-width="1.5" opacity="0.4"/>
<path d="M98.9,728 L121,738.5 Q128,750 132,768.6 L90,749.6 Z" fill="#9a9a9a" stroke="none" stroke-width="1" opacity="0.33"/>
<path d="M112,750.5 Q114,744 116.7,740.5 M114,739.5 L123,742.5" fill="none" stroke="#f09040" stroke-width="2.0" opacity="0.85"/>
<circle cx="120.4" cy="746.9" r="2.2" fill="#5a70b0" opacity="0.5"/>
<path d="M38,836.7 V719.2 Q44,715.4 50.7,715.4 Q63,714.5 76,715.4 Q92,718 106.5,725.5 Q124,735 137,745.8 Q149,760 154.7,776.2 Q159,791 159.7,806.6 Q160,822 158.5,836.7" fill="none" stroke="#aaa2a2" stroke-width="0.9" />
<path d="M38,743.2 Q50,740.5 63.4,740.7 Q81,743 96.3,748.3 Q110,755 119.2,766 Q128,779 131.8,796.5 Q136,815 136.9,836.7" fill="none" stroke="#aaa2a2" stroke-width="0.9" />
<path d="M38,750.5 Q50,748 63,748.5 Q80,751 94,756 Q106,763 114,773 Q122,786 126,801 Q129,818 129.5,836.7" fill="none" stroke="#aaa2a2" stroke-width="0.9" />
<path d="M40.6,753.4 Q58,748 76,748.3 Q92,752 101.4,761 Q108,768 106.5,776.2 Q98,783 83.7,783.8 Q66,785 50.7,783.8 Q44,781 45.6,776.2 Q47,770 55,768 Q68,766 80,770 Q86,773 84,776 Q78,778 70,776" fill="none" stroke="#aaa2a2" stroke-width="0.8" />
<path d="M58,762 Q70,758 85,762 Q95,767 92,772" fill="none" stroke="#aaa2a2" stroke-width="0.7" />
<text x="143.5" y="727.3" font-size="11" fill="#e03a2a" text-anchor="start" font-weight="bold" font-style="normal" >DiI</text>
<text x="110.8" y="764.4" font-size="13" fill="#f0f0f0" text-anchor="start" font-weight="normal" font-style="normal" >S1BF</text>
<text x="41.2" y="827.4" font-size="10.5" fill="#f0f0f0" text-anchor="start" font-weight="normal" font-style="normal" >500 µm</text>
<line x1="51.4" y1="831.4" x2="62.7" y2="831.4" stroke="#f0f0f0" stroke-width="1.6" />
<text x="0" y="0" font-size="17.9" fill="#1a1a1a" font-weight="bold" transform="translate(196.3,550.6) scale(0.847,1)">H</text>
<text x="237.9" y="559.6" font-size="10.1" fill="#8a2a3a" text-anchor="start" font-weight="normal" font-style="normal" >Stimulation</text>
<line x1="263.4" y1="569.7" x2="263.4" y2="822.5" stroke="#5a2028" stroke-width="1.1" stroke-dasharray="2.5,3"/>
<line x1="357.4" y1="569.7" x2="357.4" y2="822.5" stroke="#5a2028" stroke-width="1.1" stroke-dasharray="2.5,3"/>
<text x="194.5" y="596.1" font-size="12.8" fill="#4a4a6a" text-anchor="start" font-weight="normal" font-style="normal" >LFP</text>
<path d="M240.6,592.5 C241.0,592.8 242.0,594.5 243.0,594.3 C244.0,594.1 245.4,592.4 246.5,591.5 C247.6,590.6 248.4,589.1 249.7,588.8 C251.0,588.5 253.1,589.5 254.3,589.7 C255.5,590.0 255.8,590.7 257.0,590.3 C258.2,589.9 260.2,587.9 261.6,587.5 C263.0,587.1 264.0,586.9 265.2,587.9 C266.4,588.9 267.7,590.8 268.9,593.4 C270.1,596.0 271.3,598.4 272.5,603.4 C273.7,608.4 275.0,618.9 276.2,623.5 C277.4,628.1 278.4,629.4 279.8,630.8 C281.2,632.2 283.0,633.2 284.4,631.7 C285.8,630.2 286.8,624.3 288.0,621.6 C289.2,618.9 290.3,616.7 291.7,615.3 C293.1,613.9 294.2,614.6 296.2,613.4 C298.2,612.2 300.8,609.7 303.5,608.0 C306.2,606.3 309.9,604.4 312.6,603.0 C315.4,601.6 317.4,602.0 320.0,599.8 C322.6,597.6 326.4,591.2 328.1,589.7 C329.8,588.2 329.0,590.5 330.0,591.0 C331.0,591.5 332.8,592.9 334.0,593.0 C335.2,593.1 336.2,591.5 337.3,591.6 C338.4,591.7 339.1,593.8 340.5,593.6 C341.9,593.4 343.8,591.3 345.8,590.3 C347.8,589.3 350.6,587.6 352.4,587.7 C354.2,587.8 355.0,590.7 356.4,591.0 C357.8,591.3 359.5,589.2 361.0,589.3 C362.5,589.4 364.4,589.9 365.6,591.4 C366.8,592.9 367.3,594.9 368.2,598.2 C369.1,601.5 369.9,607.8 370.9,611.4 C371.9,615.0 373.1,618.9 374.2,620.0 C375.3,621.1 376.4,619.6 377.5,618.0 C378.6,616.4 379.7,612.2 380.8,610.1 C381.9,608.0 382.8,606.0 384.0,605.5 C385.2,605.0 386.9,606.5 388.0,606.8 C389.1,607.1 389.5,608.3 390.6,607.5 C391.7,606.7 393.3,603.5 394.6,602.2 C395.9,600.9 397.1,599.8 398.6,599.6 C400.1,599.4 402.1,601.0 403.8,600.9 C405.6,600.8 407.1,599.0 409.1,598.9 C411.1,598.8 413.3,600.6 415.7,600.2 C418.1,599.8 421.2,596.9 423.6,596.3 C426.0,595.7 428.2,596.5 430.2,596.7 C432.2,596.9 433.5,598.0 435.5,597.6 C437.5,597.2 440.4,595.1 442.1,594.3 C443.9,593.5 444.6,592.8 446.0,592.7 C447.4,592.7 449.8,593.8 450.6,594.0" fill="none" stroke="#3c3c68" stroke-width="1.7" stroke-linejoin="round"/>
<path d="M414,634.2 H437.4 V613.4" fill="none" stroke="#2a2a2a" stroke-width="1.1" />
<text x="412.4" y="646.4" font-size="10.1" fill="#2a2a2a" text-anchor="start" font-weight="normal" font-style="normal" >50 ms</text>
<text x="0.0" y="0.0" font-size="10.1" fill="#2a2a2a" text-anchor="middle" font-weight="normal" font-style="normal" transform="translate(450.5,624) rotate(-90)">200 µV</text>
<text x="194.5" y="715.5" font-size="13" fill="#1e1e1e" text-anchor="start" font-weight="normal" font-style="normal" >MUA</text>
<path d="M239.6,704.5 V719.3M240.1,696.7 V721.1M240.6,702.9 V719.8M241.1,702.1 V718.6M241.6,703.3 V723.4M242.1,703.9 V721.8M242.6,704.0 V725.0M243.1,704.2 V724.0M243.6,702.4 V727.9M244.1,703.0 V718.8M244.6,701.3 V718.7M245.1,702.3 V718.8M245.6,702.5 V721.6M246.1,704.0 V720.3M246.6,700.8 V720.3M247.1,704.2 V721.6M247.6,702.2 V721.5M248.1,702.8 V723.7M248.6,701.2 V720.3M249.1,703.8 V722.5M249.6,703.6 V718.8M250.1,704.5 V719.7M250.6,704.4 V720.2M251.1,704.5 V720.0M251.6,700.1 V723.8M252.1,704.1 V724.3M252.6,704.0 V719.8M253.1,702.7 V725.9M253.6,701.8 V719.2M254.1,704.0 V718.7M254.6,699.3 V721.4M255.1,702.3 V723.0M255.6,702.5 V718.8M256.1,700.8 V718.7M256.6,702.0 V721.4M257.1,702.4 V720.1M257.6,704.1 V721.0M258.1,703.7 V720.0M258.6,703.5 V719.3M259.1,700.2 V720.2M259.6,702.5 V722.2M260.1,702.9 V723.1M260.6,704.3 V720.5M261.1,704.1 V721.4M261.6,703.2 V719.3M262.1,703.2 V722.2M262.6,701.4 V720.3M263.1,700.9 V723.5M263.6,702.5 V720.7M264.1,700.6 V721.7M264.6,702.2 V723.4M265.1,700.1 V720.6M265.6,702.3 V722.8M266.1,704.4 V719.1M266.6,700.6 V718.9M267.1,703.2 V718.7M267.6,702.8 V721.1M268.1,702.5 V719.4M268.6,700.9 V720.8M269.1,700.7 V719.7M269.6,704.3 V719.3M270.1,698.8 V720.3M270.6,702.7 V719.9M271.1,701.5 V720.9M271.6,704.4 V718.6M272.1,703.1 V719.1M272.6,702.7 V721.3M273.1,704.5 V721.9M273.6,703.3 V720.5M274.1,703.8 V718.7M274.6,703.8 V719.0M275.1,704.5 V722.5M275.6,699.8 V722.6M276.1,702.8 V718.8M276.6,704.0 V718.6M277.1,704.3 V720.0M277.6,703.2 V718.7M278.1,704.3 V720.8M278.6,703.9 V718.8M279.1,702.3 V720.8M279.6,700.9 V722.5M280.1,702.9 V719.0M280.6,703.3 V723.7M281.1,701.8 V719.3M281.6,701.2 V720.9M282.1,703.8 V719.9M282.6,703.0 V722.0M283.1,702.0 V720.9M283.6,703.7 V719.0M284.1,703.7 V718.6M284.6,703.2 V723.4M285.1,700.1 V719.5M285.6,702.3 V720.3M286.1,703.5 V720.3M286.6,703.9 V720.5M287.1,704.0 V721.5M287.6,701.6 V721.3M288.1,703.2 V718.8M288.6,701.1 V722.3M289.1,703.9 V721.1M289.6,704.0 V719.5M290.1,704.0 V721.7M290.6,703.3 V723.4M291.1,701.0 V719.5M291.6,697.9 V719.0M292.1,704.1 V722.8M292.6,701.2 V721.3M293.1,703.2 V719.7M293.6,702.3 V719.3M294.1,704.4 V720.8M294.6,702.8 V721.0M295.1,700.6 V720.5M295.6,702.5 V720.0M296.1,704.4 V721.3M296.6,702.0 V720.9M297.1,702.8 V721.3M297.6,704.3 V721.4M298.1,702.6 V721.4M298.6,702.6 V720.0M299.1,702.0 V721.7M299.6,703.7 V719.1M300.1,704.4 V723.5M300.6,701.9 V722.0M301.1,702.0 V722.1M301.6,697.2 V719.9M302.1,701.7 V719.2M302.6,700.9 V720.6M303.1,699.6 V719.5M303.6,704.3 V721.4M304.1,701.1 V723.4M304.6,704.3 V720.1M305.1,701.8 V720.1M305.6,704.0 V720.4M306.1,703.1 V719.1M306.6,704.3 V722.0M307.1,699.1 V718.7M307.6,703.4 V720.9M308.1,700.6 V721.6M308.6,704.1 V719.6M309.1,703.3 V719.1M309.6,702.8 V719.2M310.1,704.0 V722.4M310.6,701.9 V719.1M311.1,704.1 V725.1M311.6,701.1 V720.2M312.1,703.8 V723.0M312.6,703.9 V721.8M313.1,703.5 V718.8M313.6,704.4 V720.4M314.1,703.5 V719.3M314.6,693.9 V720.0M315.1,703.6 V720.1M315.6,703.6 V720.8M316.1,704.5 V720.5M316.6,703.1 V720.3M317.1,703.7 V719.3M317.6,704.4 V720.9M318.1,704.4 V719.0M318.6,700.7 V728.7M319.1,701.8 V722.4M319.6,702.8 V722.5M320.1,703.2 V719.7M320.6,701.6 V720.9M321.1,702.7 V720.3M321.6,704.3 V719.4M322.1,702.1 V720.1M322.6,694.5 V723.7M323.1,704.2 V721.0M323.6,702.3 V722.8M324.1,702.5 V718.9M324.6,703.6 V719.8M325.1,701.8 V721.4M325.6,703.6 V719.1M326.1,701.8 V719.5M326.6,704.2 V720.4M327.1,703.5 V721.7M327.6,703.2 V723.5M328.1,702.7 V723.8M328.6,703.4 V720.3M329.1,703.5 V720.4M329.6,703.6 V724.5M330.1,701.6 V723.6M330.6,702.2 V728.6M331.1,703.6 V722.4M331.6,703.7 V718.7M332.1,700.1 V718.6M332.6,701.1 V720.3M333.1,704.4 V718.7M333.6,703.4 V718.7M334.1,698.6 V718.7M334.6,702.7 V721.4M335.1,703.8 V718.8M335.6,704.3 V719.9M336.1,702.8 V719.9M336.6,700.9 V722.6M337.1,702.8 V719.9M337.6,703.5 V722.4M338.1,703.7 V722.6M338.6,702.5 V720.9M339.1,702.8 V723.6M339.6,703.6 V718.8M340.1,701.3 V719.6M340.6,700.7 V718.9M341.1,701.0 V722.7M341.6,700.1 V719.2M342.1,704.3 V720.2M342.6,704.4 V721.0M343.1,703.3 V720.7M343.6,703.2 V718.6M344.1,703.3 V724.0M344.6,704.1 V719.0M345.1,702.1 V719.9M345.6,703.0 V721.5M346.1,703.9 V721.5M346.6,702.9 V718.9M347.1,703.2 V718.7M347.6,702.2 V723.0M348.1,701.1 V719.3M348.6,702.2 V724.0M349.1,704.1 V723.1M349.6,703.3 V720.4M350.1,703.8 V718.8M350.6,704.4 V720.8M351.1,702.8 V721.3M351.6,701.5 V724.5M352.1,699.0 V718.8M352.6,701.8 V718.6M353.1,702.8 V719.2M353.6,703.2 V719.9M354.1,702.7 V718.9M354.6,703.3 V720.3M355.1,704.0 V721.6M355.6,702.8 V726.9M356.1,703.6 V720.9M356.6,703.4 V720.4M357.1,704.4 V719.9M357.6,704.4 V720.0M358.1,703.9 V720.8M358.6,698.6 V720.6M359.1,699.7 V722.9M359.6,702.8 V720.6M360.1,703.3 V720.2M360.6,698.6 V720.1M361.1,703.9 V720.8M361.6,702.1 V722.6M362.1,704.1 V721.2M362.6,704.5 V718.7M363.1,703.6 V719.1M363.6,702.2 V721.2M364.1,702.4 V719.4M364.6,699.2 V719.5M365.1,702.8 V719.5M365.6,704.4 V719.2M366.1,698.7 V719.5M366.6,703.9 V719.2M367.1,701.7 V723.8M367.6,701.8 V720.2M368.1,703.7 V718.7M368.6,704.0 V718.8M369.1,703.9 V720.7M369.6,699.3 V719.3M370.1,702.4 V719.2M370.6,698.2 V721.5M371.1,703.4 V721.1M371.6,702.2 V720.7M372.1,700.5 V720.3M372.6,702.9 V719.8M373.1,701.5 V720.8M373.6,702.0 V718.8M374.1,698.2 V721.4M374.6,704.1 V719.2M375.1,698.9 V718.5M375.6,703.9 V720.9M376.1,703.6 V720.3M376.6,700.7 V719.3M377.1,701.4 V719.1M377.6,703.9 V719.9M378.1,703.4 V721.6M378.6,704.0 V721.2M379.1,703.6 V718.7M379.6,702.5 V721.3M380.1,702.6 V719.8M380.6,702.6 V721.5M381.1,702.6 V723.7M381.6,702.8 V722.0M382.1,703.7 V718.5M382.6,701.1 V718.9M383.1,702.9 V721.3M383.6,704.3 V718.7M384.1,700.7 V720.7M384.6,703.4 V721.2M385.1,700.2 V720.9M385.6,701.9 V719.5M386.1,703.0 V719.2M386.6,700.3 V724.2M387.1,703.5 V723.7M387.6,699.6 V718.9M388.1,703.9 V720.2M388.6,702.1 V721.6M389.1,704.1 V719.0M389.6,704.0 V719.9M390.1,703.0 V723.0M390.6,695.1 V721.1M391.1,703.5 V719.1M391.6,704.0 V718.6M392.1,700.7 V721.6M392.6,700.5 V720.2M393.1,702.7 V719.4M393.6,701.4 V721.7M394.1,696.6 V722.5M394.6,702.1 V719.4M395.1,702.8 V719.1M395.6,703.6 V724.9M396.1,701.9 V719.0M396.6,701.5 V723.8M397.1,703.9 V719.6M397.6,703.2 V720.9M398.1,702.9 V719.4M398.6,702.7 V722.1M399.1,702.6 V720.8M399.6,702.9 V719.9M400.1,700.9 V719.6M400.6,704.1 V722.4M401.1,700.4 V720.7M401.6,700.0 V721.1M402.1,704.3 V719.0M402.6,700.3 V722.9M403.1,704.0 V720.7M403.6,700.4 V721.4M404.1,704.0 V725.2M404.6,700.5 V719.2M405.1,700.8 V723.2M405.6,700.3 V720.8M406.1,701.2 V719.9M406.6,701.3 V719.0M407.1,703.4 V719.5M407.6,704.3 V720.3M408.1,703.2 V723.3M408.6,704.0 V719.6M409.1,702.7 V726.4M409.6,703.6 V721.5M410.1,703.7 V722.1M410.6,703.0 V720.2M411.1,699.9 V719.3M411.6,698.9 V719.2M412.1,698.8 V725.3M412.6,701.3 V721.1M413.1,702.9 V720.4M413.6,702.7 V723.2M414.1,700.4 V722.5M414.6,704.0 V724.2M415.1,701.9 V718.9M415.6,701.1 V718.6M416.1,703.6 V720.9M416.6,701.1 V718.8M417.1,703.9 V720.8M417.6,700.7 V724.6M418.1,702.7 V719.4M418.6,703.8 V720.1M419.1,700.0 V725.4M419.6,704.2 V719.7M420.1,702.0 V720.4M420.6,703.6 V722.3M421.1,702.8 V725.7M421.6,701.8 V718.9M422.1,700.6 V720.3M422.6,701.4 V718.7M423.1,703.8 V723.5M423.6,702.0 V719.9M424.1,703.6 V719.8M424.6,702.8 V720.0M425.1,704.2 V721.2M425.6,704.4 V718.9M426.1,700.6 V720.9M426.6,703.4 V720.4M427.1,701.3 V722.8M427.6,702.4 V722.4M428.1,697.5 V721.7M428.6,703.4 V720.5M429.1,703.4 V720.8M429.6,704.1 V718.9M430.1,699.2 V728.7M430.6,703.0 V719.6M431.1,696.7 V723.4M431.6,704.2 V722.2M432.1,700.6 V719.0M432.6,703.3 V722.6M433.1,701.2 V720.3M433.6,704.5 V721.4M434.1,701.5 V723.2M434.6,703.6 V720.9M435.1,702.0 V718.5M435.6,703.0 V723.7M436.1,701.5 V719.8M436.6,704.1 V720.3M437.1,701.0 V720.6M437.6,701.2 V720.2M438.1,702.7 V719.4M438.6,702.2 V718.7M439.1,704.0 V719.3M439.6,703.6 V718.6M440.1,702.8 V721.7M440.6,702.6 V719.9M441.1,703.7 V719.1M441.6,702.3 V721.2M442.1,702.3 V719.3M442.6,703.4 V720.4M443.1,703.6 V720.2M443.6,702.1 V719.2M444.1,703.9 V721.5M444.6,701.8 V720.7M445.1,703.4 V719.9M445.6,702.8 V719.0M446.1,700.7 V719.2M446.6,704.2 V718.7M447.1,702.2 V719.5M447.6,703.9 V719.6M448.1,703.7 V718.9M448.6,702.3 V718.7M449.1,700.5 V720.7M449.6,700.7 V723.0M450.1,703.7 V719.8M450.6,703.2 V722.2M451.1,701.5 V722.1" fill="none" stroke="#262626" stroke-width="0.75" />
<rect x="239.6" y="706.0" width="211.6" height="11.0" fill="#262626" />
<line x1="264.0" y1="683.5" x2="264.0" y2="738.5" stroke="#262626" stroke-width="2.2" />
<line x1="265.6" y1="685.5" x2="265.6" y2="736.5" stroke="#262626" stroke-width="1.6" />
<line x1="273.0" y1="697.5" x2="273.0" y2="737.5" stroke="#262626" stroke-width="1.0" />
<line x1="274.2" y1="689.5" x2="274.2" y2="723.5" stroke="#262626" stroke-width="1.0" />
<line x1="270.5" y1="703.5" x2="270.5" y2="725.5" stroke="#262626" stroke-width="0.8" />
<line x1="278.0" y1="696.5" x2="278.0" y2="717.5" stroke="#262626" stroke-width="0.8" />
<line x1="357.5" y1="683.5" x2="357.5" y2="737.5" stroke="#262626" stroke-width="2.2" />
<line x1="359.0" y1="689.5" x2="359.0" y2="735.5" stroke="#262626" stroke-width="1.4" />
<line x1="367.7" y1="691.5" x2="367.7" y2="737.5" stroke="#262626" stroke-width="1.0" />
<line x1="365.0" y1="701.5" x2="365.0" y2="725.5" stroke="#262626" stroke-width="0.8" />
<line x1="371.0" y1="699.5" x2="371.0" y2="719.5" stroke="#262626" stroke-width="0.8" />
<line x1="318.0" y1="705.5" x2="318.0" y2="723.5" stroke="#262626" stroke-width="0.8" />
<line x1="413.0" y1="707.5" x2="413.0" y2="725.5" stroke="#262626" stroke-width="0.8" />
<line x1="436.0" y1="699.5" x2="436.0" y2="720.5" stroke="#262626" stroke-width="0.8" />
<path d="M413.7,749.4 H437.6 V738.8" fill="none" stroke="#2a2a2a" stroke-width="1.1" />
<text x="412.2" y="760.7" font-size="10.1" fill="#2a2a2a" text-anchor="start" font-weight="normal" font-style="normal" >50 ms</text>
<text x="0.0" y="0.0" font-size="10.1" fill="#2a2a2a" text-anchor="middle" font-weight="normal" font-style="normal" transform="translate(450.3,742.5) rotate(-90)">20 µV</text>
<text x="193.0" y="785.4" font-size="13" fill="#d070a0" text-anchor="start" font-weight="normal" font-style="normal" >Spikes</text>
<text x="235.4" y="754.7" font-size="9.9" fill="#dcb0c8" text-anchor="start" font-weight="normal" font-style="normal" >Unit 4</text>
<text x="235.4" y="776.3" font-size="9.9" fill="#d898b8" text-anchor="start" font-weight="normal" font-style="normal" >Unit 3</text>
<text x="235.4" y="797.5" font-size="9.9" fill="#d070a0" text-anchor="start" font-weight="normal" font-style="normal" >Unit 2</text>
<text x="235.4" y="820.8" font-size="9.9" fill="#a83068" text-anchor="start" font-weight="normal" font-style="normal" >Unit 1</text>
<line x1="275.6" y1="742.0" x2="275.6" y2="758.9" stroke="#dcb0c8" stroke-width="1.1" />
<line x1="274.4" y1="763.2" x2="274.4" y2="780.1" stroke="#d898b8" stroke-width="1.1" />
<line x1="271.4" y1="808.0" x2="271.4" y2="824.6" stroke="#a83068" stroke-width="1.3" />
<line x1="367.7" y1="762.0" x2="367.7" y2="780.0" stroke="#d898b8" stroke-width="1.1" />
<line x1="367.7" y1="785.4" x2="367.7" y2="802.4" stroke="#d070a0" stroke-width="1.1" />
<line x1="365.6" y1="807.7" x2="365.6" y2="824.6" stroke="#a83068" stroke-width="1.3" />
<rect x="486.6" y="537.8" width="3.3" height="12.8" fill="#1a1a1a"/>
<text x="521.8" y="559.5" font-size="10.2" fill="#8a3a4a" text-anchor="start" font-weight="normal" font-style="normal" >Stimulation</text>
<text x="610.6" y="559.5" font-size="11.1" fill="#b03060" text-anchor="start" font-weight="normal" font-style="normal" >DIANA</text>
<path d="M623,564.8 H631 M627,564.8 V593.2 M623,593.2 H631" fill="none" stroke="#b03060" stroke-width="1.5" />
<text x="0.0" y="0.0" font-size="10.5" fill="#b03060" text-anchor="middle" font-weight="normal" font-style="normal" transform="translate(640,577.7) rotate(-90)">0.1%</text>
<line x1="548.2" y1="572.9" x2="548.2" y2="661.3" stroke="#909090" stroke-width="1.0" stroke-dasharray="2,2.5"/>
<text x="486.0" y="594.6" font-size="12.7" fill="#4a4a78" text-anchor="start" font-weight="normal" font-style="normal" >LFP</text>
<text x="486.0" y="637.9" font-size="12.8" fill="#c04070" text-anchor="start" font-weight="normal" font-style="normal" >DIANA</text>
<path d="M523.2,619.0 L533.9,614.7 L546.7,611.5 L553.1,608.3 L559.5,599.8 L565.8,590.2 L572.2,577.4 L577.6,566.8 L585.0,574.2 L591.4,592.4 L597.8,599.8 L608.4,605.1 L614.8,603.0 L621.2,608.3 L625.5,617.9 L631.9,608.3 L638.3,598.7 L644.7,604.1 L653.2,599.8 L667.0,598.7 L667.0,606.7 L653.2,607.8 L644.7,612.1 L638.3,606.7 L631.9,616.3 L625.5,625.9 L621.2,616.3 L614.8,611.0 L608.4,613.1 L597.8,607.8 L591.4,600.4 L585.0,582.2 L577.6,574.8 L572.2,585.4 L565.8,598.2 L559.5,607.8 L553.1,616.3 L546.7,619.5 L533.9,622.7 L523.2,627.0 Z" fill="#e8a0b8" stroke="none" stroke-width="1" opacity="0.75"/>
<path d="M523.2,623.0 C525.0,622.3 530.0,620.0 533.9,618.7 C537.8,617.5 543.5,616.6 546.7,615.5 C549.9,614.4 551.0,614.2 553.1,612.3 C555.2,610.3 557.4,606.8 559.5,603.8 C561.6,600.8 563.7,597.9 565.8,594.2 C567.9,590.5 570.2,585.3 572.2,581.4 C574.2,577.5 575.5,571.3 577.6,570.8 C579.7,570.3 582.7,573.9 585.0,578.2 C587.3,582.5 589.3,592.1 591.4,596.4 C593.5,600.7 595.0,601.7 597.8,603.8 C600.6,605.9 605.6,608.6 608.4,609.1 C611.2,609.6 612.7,606.5 614.8,607.0 C616.9,607.5 619.4,609.8 621.2,612.3 C623.0,614.8 623.7,621.9 625.5,621.9 C627.3,621.9 629.8,615.5 631.9,612.3 C634.0,609.1 636.2,603.4 638.3,602.7 C640.4,602.0 642.2,607.9 644.7,608.1 C647.2,608.3 649.5,604.7 653.2,603.8 C656.9,602.9 664.7,602.9 667.0,602.7" fill="none" stroke="#c0406e" stroke-width="1.5" />
<path d="M524.3,585.3 C525.9,585.7 530.2,587.2 533.9,587.8 C537.6,588.4 543.2,588.4 546.7,588.9 C550.2,589.4 552.7,589.4 555.2,591.0 C557.7,592.6 559.8,597.1 561.6,598.5 C563.4,599.9 564.9,599.4 566.0,599.5 C567.1,599.6 567.0,598.0 568.0,599.1 C569.0,600.2 570.4,601.2 572.2,605.9 C574.0,610.6 576.5,620.3 578.6,627.2 C580.7,634.1 583.4,643.0 585.0,647.5 C586.6,652.0 586.8,654.1 588.2,653.9 C589.6,653.7 591.2,650.5 593.5,646.4 C595.8,642.3 598.5,634.4 602.0,629.4 C605.5,624.4 610.2,621.2 614.8,616.6 C619.4,612.0 624.7,605.8 629.7,601.7 C634.7,597.6 640.1,594.4 644.7,592.1 C649.3,589.8 653.7,588.6 657.4,587.8 C661.1,587.0 665.4,587.5 667.0,587.4" fill="none" stroke="#3a3a80" stroke-width="1.5" />
<line x1="588.2" y1="618.7" x2="588.2" y2="661.3" stroke="#333" stroke-width="1.0" stroke-dasharray="2.5,2.5"/>
<line x1="551.0" y1="659.6" x2="585.5" y2="659.6" stroke="#1e1e1e" stroke-width="1.3" />
<path d="M553.0,656.8 L549.5,659.6 L553.0,662.4" fill="none" stroke="#1e1e1e" stroke-width="1.1" />
<path d="M583.5,656.8 L587.0,659.6 L583.5,662.4" fill="none" stroke="#1e1e1e" stroke-width="1.1" />
<path d="M631.2,644.3 H656.4 V628.3" fill="none" stroke="#2a2a2a" stroke-width="1.1" />
<text x="629.7" y="654.9" font-size="10.2" fill="#2a2a2a" text-anchor="start" font-weight="normal" font-style="normal" >20 ms</text>
<text x="0.0" y="0.0" font-size="10.2" fill="#2a2a2a" text-anchor="middle" font-weight="normal" font-style="normal" transform="translate(667.5,637.3) rotate(-90)">50 µV</text>
<text x="530.8" y="677.4" font-size="11.4" fill="#4a4a80" text-anchor="start" font-weight="normal" font-style="normal" >Peak LFP latency</text>
<text x="0" y="0" font-size="13.7" fill="#1a1a1a" font-weight="bold" transform="translate(483.9,700.0) scale(1.119,1)">J</text>
<text x="530.4" y="700.7" font-size="11.2" fill="#e080a8" text-anchor="start" font-weight="normal" font-style="normal" >Peak spike latency</text>
<rect x="524.1" y="803.1" width="3.0" height="9.0" fill="#1e1e1e" />
<rect x="530.1" y="803.1" width="4.1" height="9.0" fill="#1e1e1e" />
<rect x="537.8" y="803.1" width="7.1" height="9.0" fill="#1e1e1e" />
<rect x="551.7" y="803.1" width="7.7" height="9.0" fill="#1e1e1e" />
<rect x="559.1" y="794.0" width="4.1" height="18.1" fill="#1e1e1e" />
<rect x="562.7" y="803.1" width="3.9" height="9.0" fill="#1e1e1e" />
<rect x="566.2" y="794.0" width="4.2" height="18.1" fill="#1e1e1e" />
<rect x="570.0" y="757.8" width="4.2" height="54.3" fill="#1e1e1e" />
<rect x="573.8" y="739.7" width="3.9" height="72.4" fill="#1e1e1e" />
<rect x="577.3" y="730.7" width="3.7" height="81.4" fill="#1e1e1e" />
<rect x="580.7" y="748.8" width="4.2" height="63.3" fill="#1e1e1e" />
<rect x="584.5" y="775.9" width="3.9" height="36.2" fill="#1e1e1e" />
<rect x="588.0" y="748.8" width="4.1" height="63.3" fill="#1e1e1e" />
<rect x="591.6" y="757.8" width="3.9" height="54.3" fill="#1e1e1e" />
<rect x="595.1" y="785.0" width="3.9" height="27.1" fill="#1e1e1e" />
<rect x="598.6" y="803.1" width="7.1" height="9.0" fill="#1e1e1e" />
<rect x="609.9" y="803.1" width="3.4" height="9.0" fill="#1e1e1e" />
<rect x="624.0" y="803.1" width="3.9" height="9.0" fill="#1e1e1e" />
<rect x="631.2" y="803.1" width="7.4" height="9.0" fill="#1e1e1e" />
<rect x="638.2" y="794.0" width="3.7" height="18.1" fill="#1e1e1e" />
<rect x="649.1" y="785.0" width="7.2" height="27.1" fill="#1e1e1e" />
<rect x="656.0" y="794.0" width="3.9" height="18.1" fill="#1e1e1e" />
<rect x="659.5" y="803.1" width="8.0" height="9.0" fill="#1e1e1e" />
<path d="M524.3,765.8 L535.2,761.2 L547.7,758.2 L553.5,755.9 L561.1,747.5 L568.7,732.3 L577.8,715.6 L583.9,724.7 L590.0,741.4 L599.1,749.0 L607.5,754.4 L614.3,751.3 L620.4,756.7 L625.7,765.8 L632.6,755.1 L638.4,746.8 L643.2,750.6 L649.3,751.3 L656.2,747.5 L667.3,746.8 L667.3,755.2 L656.2,755.9 L649.3,759.7 L643.2,759.0 L638.4,755.2 L632.6,763.5 L625.7,774.2 L620.4,765.1 L614.3,759.7 L607.5,762.8 L599.1,757.4 L590.0,749.8 L583.9,733.1 L577.8,724.0 L568.7,740.7 L561.1,755.9 L553.5,764.3 L547.7,766.6 L535.2,769.6 L524.3,774.2 Z" fill="#e8a0b8" stroke="none" stroke-width="1" opacity="0.7"/>
<path d="M524.3,770.0 C526.1,769.2 531.3,766.7 535.2,765.4 C539.1,764.1 544.7,763.3 547.7,762.4 C550.8,761.5 551.3,761.9 553.5,760.1 C555.7,758.3 558.6,755.6 561.1,751.7 C563.6,747.8 565.9,741.8 568.7,736.5 C571.5,731.2 575.3,721.1 577.8,719.8 C580.3,718.5 581.9,724.6 583.9,728.9 C585.9,733.2 587.5,741.5 590.0,745.6 C592.5,749.7 596.2,751.0 599.1,753.2 C602.0,755.4 605.0,758.2 607.5,758.6 C610.0,759.0 612.1,755.1 614.3,755.5 C616.4,755.9 618.5,758.5 620.4,760.9 C622.3,763.3 623.7,770.3 625.7,770.0 C627.7,769.7 630.5,762.5 632.6,759.3 C634.7,756.1 636.6,751.8 638.4,751.0 C640.2,750.2 641.4,754.0 643.2,754.8 C645.0,755.5 647.1,756.0 649.3,755.5 C651.5,755.0 653.2,752.5 656.2,751.7 C659.2,751.0 665.4,751.1 667.3,751.0" fill="none" stroke="#c0406e" stroke-width="1.5" />
<line x1="547.7" y1="703.0" x2="547.7" y2="811.0" stroke="#909090" stroke-width="1.0" stroke-dasharray="2,2.5"/>
<line x1="577.8" y1="703.0" x2="577.8" y2="716.0" stroke="#909090" stroke-width="1.0" stroke-dasharray="2,2.5"/>
<line x1="552.5" y1="714.5" x2="576.0" y2="714.5" stroke="#1e1e1e" stroke-width="1.2" />
<path d="M554.5,711.9 L551.2,714.5 L554.5,717.1" fill="none" stroke="#1e1e1e" stroke-width="1.1" />
<path d="M574.0,711.9 L577.3,714.5 L574.0,717.1" fill="none" stroke="#1e1e1e" stroke-width="1.1" />
<line x1="524.3" y1="703.6" x2="524.3" y2="812.1" stroke="#1e1e1e" stroke-width="1.6" />
<line x1="524.3" y1="812.1" x2="667.3" y2="812.1" stroke="#1e1e1e" stroke-width="1.2" />
<line x1="520.0" y1="812.1" x2="524.3" y2="812.1" stroke="#1e1e1e" stroke-width="1.2" />
<text x="517.5" y="816.8" font-size="13" fill="#2a2a2a" text-anchor="end" font-weight="normal" font-style="normal" >0</text>
<line x1="520.0" y1="785.0" x2="524.3" y2="785.0" stroke="#1e1e1e" stroke-width="1.2" />
<text x="517.5" y="789.7" font-size="13" fill="#2a2a2a" text-anchor="end" font-weight="normal" font-style="normal" >10</text>
<line x1="520.0" y1="757.8" x2="524.3" y2="757.8" stroke="#1e1e1e" stroke-width="1.2" />
<text x="517.5" y="762.5" font-size="13" fill="#2a2a2a" text-anchor="end" font-weight="normal" font-style="normal" >20</text>
<line x1="520.0" y1="730.7" x2="524.3" y2="730.7" stroke="#1e1e1e" stroke-width="1.2" />
<text x="517.5" y="735.4" font-size="13" fill="#2a2a2a" text-anchor="end" font-weight="normal" font-style="normal" >30</text>
<line x1="520.0" y1="703.6" x2="524.3" y2="703.6" stroke="#1e1e1e" stroke-width="1.2" />
<text x="517.5" y="708.3" font-size="13" fill="#2a2a2a" text-anchor="end" font-weight="normal" font-style="normal" >40</text>
<line x1="523.8" y1="812.1" x2="523.8" y2="816.5" stroke="#1e1e1e" stroke-width="1.2" />
<text x="523.8" y="827.7" font-size="13" fill="#2a2a2a" text-anchor="middle" font-weight="normal" font-style="normal" >-20</text>
<line x1="547.7" y1="812.1" x2="547.7" y2="816.5" stroke="#1e1e1e" stroke-width="1.2" />
<text x="547.7" y="827.7" font-size="13" fill="#2a2a2a" text-anchor="middle" font-weight="normal" font-style="normal" >0</text>
<line x1="571.7" y1="812.1" x2="571.7" y2="816.5" stroke="#1e1e1e" stroke-width="1.2" />
<text x="571.7" y="827.7" font-size="13" fill="#2a2a2a" text-anchor="middle" font-weight="normal" font-style="normal" >20</text>
<line x1="595.6" y1="812.1" x2="595.6" y2="816.5" stroke="#1e1e1e" stroke-width="1.2" />
<text x="595.6" y="827.7" font-size="13" fill="#2a2a2a" text-anchor="middle" font-weight="normal" font-style="normal" >40</text>
<line x1="619.6" y1="812.1" x2="619.6" y2="816.5" stroke="#1e1e1e" stroke-width="1.2" />
<text x="619.6" y="827.7" font-size="13" fill="#2a2a2a" text-anchor="middle" font-weight="normal" font-style="normal" >60</text>
<line x1="643.5" y1="812.1" x2="643.5" y2="816.5" stroke="#1e1e1e" stroke-width="1.2" />
<text x="643.5" y="827.7" font-size="13" fill="#2a2a2a" text-anchor="middle" font-weight="normal" font-style="normal" >80</text>
<line x1="667.5" y1="812.1" x2="667.5" y2="816.5" stroke="#1e1e1e" stroke-width="1.2" />
<text x="667.5" y="827.7" font-size="13" fill="#2a2a2a" text-anchor="middle" font-weight="normal" font-style="normal" >100</text>
<text x="591.5" y="841.6" font-size="13" fill="#2a2a2a" text-anchor="middle" font-weight="normal" font-style="normal" >Time from stimulus onset (ms)</text>
<text x="0.0" y="0.0" font-size="13" fill="#2a2a2a" text-anchor="middle" font-weight="normal" font-style="normal" transform="translate(492.5,757.9) rotate(-90)">Firing rate (Hz)</text>
<text x="631.8" y="711.4" font-size="11.1" fill="#b03060" text-anchor="start" font-weight="normal" font-style="normal" >DIANA</text>
<path d="M644.6,714.8 H652.6 M648.6,714.8 V743.4 M644.6,743.4 H652.6" fill="none" stroke="#b03060" stroke-width="1.5" />
<text x="0.0" y="0.0" font-size="10.5" fill="#b03060" text-anchor="middle" font-weight="normal" font-style="normal" transform="translate(662.3,728.1) rotate(-90)">0.1%</text>
<text x="0" y="0" font-size="17.2" fill="#1a1a1a" font-weight="bold" transform="translate(710.4,550.7) scale(0.881,1)">K</text>
<line x1="751.6" y1="557.9" x2="751.6" y2="812.2" stroke="#1e1e1e" stroke-width="1.2" />
<line x1="751.6" y1="812.2" x2="976.5" y2="812.2" stroke="#1e1e1e" stroke-width="1.2" />
<line x1="746.5" y1="812.2" x2="751.6" y2="812.2" stroke="#1e1e1e" stroke-width="1.2" />
<text x="744.4" y="817.2" font-size="13.8" fill="#2a2a2a" text-anchor="end" font-weight="normal" font-style="normal" >0</text>
<line x1="746.5" y1="769.8" x2="751.6" y2="769.8" stroke="#1e1e1e" stroke-width="1.2" />
<text x="744.4" y="774.8" font-size="13.8" fill="#2a2a2a" text-anchor="end" font-weight="normal" font-style="normal" >10</text>
<line x1="746.5" y1="727.4" x2="751.6" y2="727.4" stroke="#1e1e1e" stroke-width="1.2" />
<text x="744.4" y="732.4" font-size="13.8" fill="#2a2a2a" text-anchor="end" font-weight="normal" font-style="normal" >20</text>
<line x1="746.5" y1="685.0" x2="751.6" y2="685.0" stroke="#1e1e1e" stroke-width="1.2" />
<text x="744.4" y="690.0" font-size="13.8" fill="#2a2a2a" text-anchor="end" font-weight="normal" font-style="normal" >30</text>
<line x1="746.5" y1="642.6" x2="751.6" y2="642.6" stroke="#1e1e1e" stroke-width="1.2" />
<text x="744.4" y="647.6" font-size="13.8" fill="#2a2a2a" text-anchor="end" font-weight="normal" font-style="normal" >40</text>
<line x1="746.5" y1="600.2" x2="751.6" y2="600.2" stroke="#1e1e1e" stroke-width="1.2" />
<text x="744.4" y="605.2" font-size="13.8" fill="#2a2a2a" text-anchor="end" font-weight="normal" font-style="normal" >50</text>
<line x1="746.5" y1="557.9" x2="751.6" y2="557.9" stroke="#1e1e1e" stroke-width="1.2" />
<text x="744.4" y="562.9" font-size="13.8" fill="#2a2a2a" text-anchor="end" font-weight="normal" font-style="normal" >60</text>
<line x1="789.5" y1="812.2" x2="789.5" y2="816.5" stroke="#1e1e1e" stroke-width="1.2" />
<line x1="864.4" y1="812.2" x2="864.4" y2="816.5" stroke="#1e1e1e" stroke-width="1.2" />
<line x1="939.6" y1="812.2" x2="939.6" y2="816.5" stroke="#1e1e1e" stroke-width="1.2" />
<rect x="767.5" y="644.8" width="44.2" height="167.4" fill="#b9a8cd" stroke="#2e2840" stroke-width="1"/>
<rect x="842.3" y="699.9" width="44.2" height="112.3" fill="#e48cb2" stroke="#3a2030" stroke-width="1"/>
<rect x="917.6" y="706.2" width="44.0" height="106.0" fill="#c2286a" stroke="#3a1a2a" stroke-width="1"/>
<line x1="789.5" y1="644.8" x2="789.5" y2="636.7" stroke="#1e1e1e" stroke-width="1.2" />
<line x1="778.5" y1="636.7" x2="800.5" y2="636.7" stroke="#1e1e1e" stroke-width="1.2" />
<line x1="864.4" y1="699.9" x2="864.4" y2="694.8" stroke="#1e1e1e" stroke-width="1.2" />
<line x1="853.2" y1="694.8" x2="875.6" y2="694.8" stroke="#1e1e1e" stroke-width="1.2" />
<line x1="939.6" y1="706.2" x2="939.6" y2="699.4" stroke="#1e1e1e" stroke-width="1.2" />
<line x1="929.0" y1="699.4" x2="950.2" y2="699.4" stroke="#1e1e1e" stroke-width="1.2" />
<circle cx="789.0" cy="593.0" r="1.5" fill="#1e1e1e"/>
<circle cx="789.0" cy="601.2" r="1.5" fill="#1e1e1e"/>
<circle cx="793.4" cy="626.3" r="1.5" fill="#1e1e1e"/>
<circle cx="784.5" cy="634.5" r="1.5" fill="#1e1e1e"/>
<circle cx="789.3" cy="646.5" r="1.5" fill="#1e1e1e"/>
<circle cx="771.6" cy="651.0" r="1.5" fill="#1e1e1e"/>
<circle cx="797.8" cy="655.1" r="1.5" fill="#1e1e1e"/>
<circle cx="806.6" cy="659.2" r="1.5" fill="#1e1e1e"/>
<circle cx="780.4" cy="663.3" r="1.5" fill="#1e1e1e"/>
<circle cx="797.8" cy="667.4" r="1.5" fill="#1e1e1e"/>
<circle cx="789.0" cy="671.6" r="1.5" fill="#1e1e1e"/>
<circle cx="780.4" cy="675.7" r="1.5" fill="#1e1e1e"/>
<circle cx="864.2" cy="609.4" r="1.5" fill="#1e1e1e"/>
<circle cx="864.2" cy="660.2" r="1.5" fill="#1e1e1e"/>
<circle cx="862.0" cy="672.6" r="1.5" fill="#1e1e1e"/>
<circle cx="853.5" cy="685.5" r="1.5" fill="#1e1e1e"/>
<circle cx="857.8" cy="685.5" r="1.5" fill="#1e1e1e"/>
<circle cx="866.7" cy="685.5" r="1.5" fill="#1e1e1e"/>
<circle cx="871.0" cy="685.5" r="1.5" fill="#1e1e1e"/>
<circle cx="874.7" cy="685.5" r="1.5" fill="#1e1e1e"/>
<circle cx="852.0" cy="698.0" r="1.5" fill="#1e1e1e"/>
<circle cx="856.0" cy="698.0" r="1.5" fill="#1e1e1e"/>
<circle cx="860.0" cy="698.0" r="1.5" fill="#1e1e1e"/>
<circle cx="864.0" cy="698.0" r="1.5" fill="#1e1e1e"/>
<circle cx="868.0" cy="698.0" r="1.5" fill="#1e1e1e"/>
<circle cx="872.0" cy="698.0" r="1.5" fill="#1e1e1e"/>
<circle cx="876.0" cy="698.0" r="1.5" fill="#1e1e1e"/>
<circle cx="847.8" cy="710.4" r="1.5" fill="#1e1e1e"/>
<circle cx="852.0" cy="710.4" r="1.5" fill="#1e1e1e"/>
<circle cx="856.5" cy="710.4" r="1.5" fill="#1e1e1e"/>
<circle cx="864.4" cy="710.4" r="1.5" fill="#1e1e1e"/>
<circle cx="884.0" cy="710.4" r="1.5" fill="#1e1e1e"/>
<circle cx="844.0" cy="722.9" r="1.5" fill="#1e1e1e"/>
<circle cx="860.3" cy="722.9" r="1.5" fill="#1e1e1e"/>
<circle cx="868.5" cy="722.9" r="1.5" fill="#1e1e1e"/>
<circle cx="872.5" cy="722.9" r="1.5" fill="#1e1e1e"/>
<circle cx="876.7" cy="722.9" r="1.5" fill="#1e1e1e"/>
<circle cx="880.7" cy="722.9" r="1.5" fill="#1e1e1e"/>
<circle cx="864.2" cy="761.1" r="1.5" fill="#1e1e1e"/>
<circle cx="939.1" cy="685.5" r="1.5" fill="#1e1e1e"/>
<circle cx="924.5" cy="706.0" r="1.5" fill="#1e1e1e"/>
<circle cx="939.4" cy="706.0" r="1.5" fill="#1e1e1e"/>
<circle cx="954.0" cy="706.0" r="1.5" fill="#1e1e1e"/>
<circle cx="939.1" cy="727.4" r="1.5" fill="#1e1e1e"/>
<line x1="786.2" y1="565.6" x2="862.9" y2="565.6" stroke="#1e1e1e" stroke-width="1.1" />
<text x="821.0" y="566.0" font-size="14.6" fill="#2a2a2a" text-anchor="middle" font-weight="normal" font-style="normal" >****</text>
<line x1="786.2" y1="584.3" x2="937.0" y2="584.3" stroke="#1e1e1e" stroke-width="1.1" />
<text x="860.9" y="585.7" font-size="14.7" fill="#2a2a2a" text-anchor="middle" font-weight="normal" font-style="normal" >***</text>
<line x1="860.9" y1="604.2" x2="937.0" y2="604.2" stroke="#1e1e1e" stroke-width="1.1" />
<text x="899.0" y="600.1" font-size="13" fill="#2a2a2a" text-anchor="middle" font-weight="normal" font-style="normal" >n.s.</text>
<text x="770.0" y="806.0" font-size="11.2" fill="#4a4070" text-anchor="start" font-weight="normal" font-style="normal" >12 mice</text>
<text x="844.3" y="806.0" font-size="11.2" fill="#502040" text-anchor="start" font-weight="normal" font-style="normal" >27 units</text>
<text x="922.1" y="806.0" font-size="11.5" fill="#ffffff" text-anchor="start" font-weight="normal" font-style="normal" stroke="#ffffff" stroke-width="0.3">5 mice</text>
<text x="789.5" y="827.7" font-size="13" fill="#4a4a78" text-anchor="middle" font-weight="normal" font-style="normal" >LFP</text>
<text x="864.4" y="827.7" font-size="13" fill="#d878a8" text-anchor="middle" font-weight="normal" font-style="normal" >Single-unit</text>
<text x="864.4" y="840.2" font-size="13" fill="#d878a8" text-anchor="middle" font-weight="normal" font-style="normal" >spike</text>
<text x="939.6" y="827.7" font-size="13" fill="#b83a6a" text-anchor="middle" font-weight="normal" font-style="normal" >DIANA</text>
<text x="0.0" y="0.0" font-size="13" fill="#2a2a2a" text-anchor="middle" font-weight="normal" font-style="normal" transform="translate(720,682) rotate(-90)">Peak latency (ms)</text>
</svg>
</body></html>
